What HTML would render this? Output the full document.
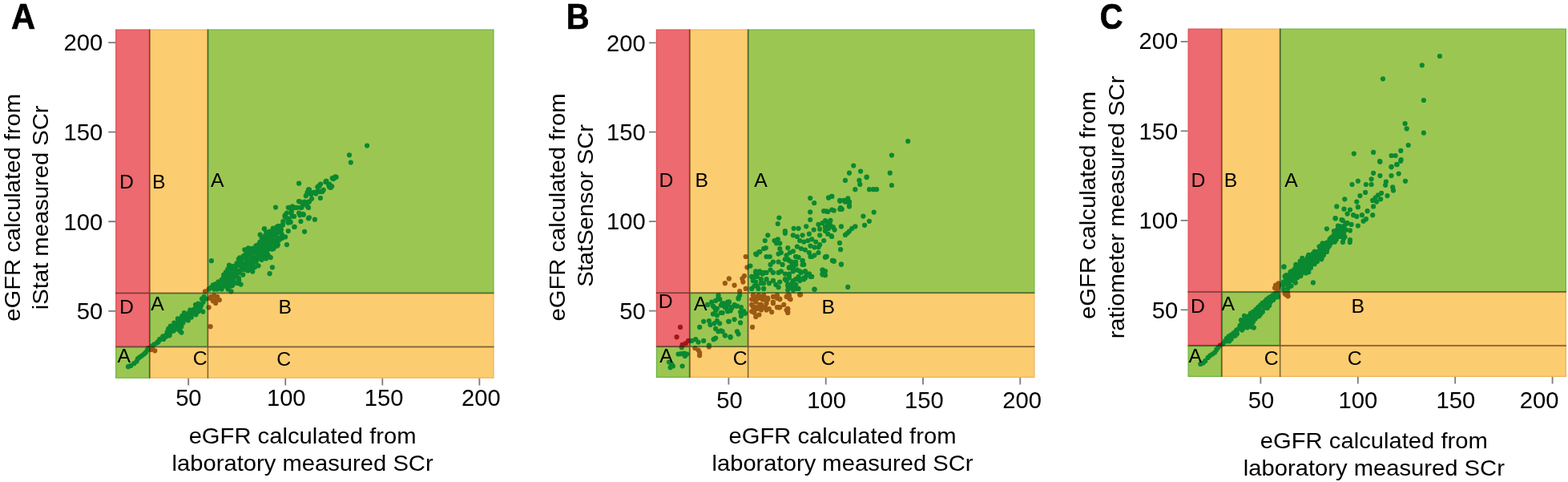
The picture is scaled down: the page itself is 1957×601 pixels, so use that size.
<!DOCTYPE html><html><head><meta charset="utf-8"><title>eGFR error grid</title><style>html,body{margin:0;padding:0;background:#fff;}svg{display:block;}text{font-family:"Liberation Sans", Arial, Helvetica, sans-serif;fill:#000;}</style></head><body>
<svg width="1957" height="601" viewBox="0 0 1957 601">
<rect width="1957" height="601" fill="#fff"/>
<defs><clipPath id="cAr"><rect x="144.10" y="36.50" width="42.67" height="395.91"/></clipPath><clipPath id="cAy"><rect x="186.77" y="36.50" width="72.64" height="328.99"/><rect x="259.41" y="365.49" width="357.19" height="66.92"/><rect x="186.77" y="432.41" width="429.83" height="39.39"/></clipPath><clipPath id="cAg"><rect x="259.41" y="36.50" width="357.19" height="328.99"/><rect x="186.77" y="365.49" width="72.64" height="66.92"/><rect x="144.10" y="432.41" width="42.67" height="39.39"/></clipPath></defs>
<rect x="144.75" y="37.15" width="41.37" height="394.61" fill="rgb(236,106,112)" stroke="rgb(226,82,90)" stroke-width="1.3"/>
<rect x="187.42" y="37.15" width="71.34" height="327.69" fill="rgb(252,204,112)" stroke="rgb(238,180,92)" stroke-width="1.3"/>
<rect x="260.06" y="37.15" width="355.89" height="327.69" fill="rgb(156,198,82)" stroke="rgb(108,182,72)" stroke-width="1.3"/>
<rect x="187.42" y="366.14" width="71.34" height="65.62" fill="rgb(156,198,82)" stroke="rgb(108,182,72)" stroke-width="1.3"/>
<rect x="260.06" y="366.14" width="355.89" height="65.62" fill="rgb(252,204,112)" stroke="rgb(238,180,92)" stroke-width="1.3"/>
<rect x="144.75" y="433.06" width="41.37" height="38.09" fill="rgb(156,198,82)" stroke="rgb(108,182,72)" stroke-width="1.3"/>
<rect x="187.42" y="433.06" width="428.53" height="38.09" fill="rgb(252,204,112)" stroke="rgb(238,180,92)" stroke-width="1.3"/>
<g clip-path="url(#cAg)" fill="rgb(10,137,50)"><circle cx="160.0" cy="457.2" r="3.1"/><circle cx="163.3" cy="455.9" r="3.1"/><circle cx="167.3" cy="453.2" r="3.1"/><circle cx="170.6" cy="450.6" r="3.1"/><circle cx="172.0" cy="447.2" r="3.1"/><circle cx="174.6" cy="445.2" r="3.1"/><circle cx="177.3" cy="443.3" r="3.1"/><circle cx="180.0" cy="441.3" r="3.1"/><circle cx="182.0" cy="439.3" r="3.1"/><circle cx="184.0" cy="436.0" r="3.1"/><circle cx="185.3" cy="434.0" r="3.1"/><circle cx="188.6" cy="436.0" r="3.1"/><circle cx="193.3" cy="437.3" r="3.1"/><circle cx="190.0" cy="434.0" r="3.1"/><circle cx="190.0" cy="431.3" r="3.1"/><circle cx="192.6" cy="429.3" r="3.1"/><circle cx="196.0" cy="427.3" r="3.1"/><circle cx="198.0" cy="425.3" r="3.1"/><circle cx="199.3" cy="423.3" r="3.1"/><circle cx="203.3" cy="419.3" r="3.1"/><circle cx="206.6" cy="420.0" r="3.1"/><circle cx="209.2" cy="418.6" r="3.1"/><circle cx="210.6" cy="416.0" r="3.1"/><circle cx="212.6" cy="413.3" r="3.1"/><circle cx="214.0" cy="410.6" r="3.1"/><circle cx="216.6" cy="412.6" r="3.1"/><circle cx="219.2" cy="410.0" r="3.1"/><circle cx="217.2" cy="407.3" r="3.1"/><circle cx="221.9" cy="407.3" r="3.1"/><circle cx="224.5" cy="412.6" r="3.1"/><circle cx="226.5" cy="414.6" r="3.1"/><circle cx="222.5" cy="402.6" r="3.1"/><circle cx="224.5" cy="398.0" r="3.1"/><circle cx="221.9" cy="397.3" r="3.1"/><circle cx="227.2" cy="394.0" r="3.1"/><circle cx="229.9" cy="390.0" r="3.1"/><circle cx="212.7" cy="406.5" r="3.1"/><circle cx="217.3" cy="402.6" r="3.1"/><circle cx="222.6" cy="397.9" r="3.1"/><circle cx="224.6" cy="402.6" r="3.1"/><circle cx="223.3" cy="404.5" r="3.1"/><circle cx="230.0" cy="392.6" r="3.1"/><circle cx="233.3" cy="395.2" r="3.1"/><circle cx="235.3" cy="390.6" r="3.1"/><circle cx="240.0" cy="389.2" r="3.1"/><circle cx="242.0" cy="385.9" r="3.1"/><circle cx="244.6" cy="390.6" r="3.1"/><circle cx="244.0" cy="380.0" r="3.1"/><circle cx="247.3" cy="378.6" r="3.1"/><circle cx="250.0" cy="383.3" r="3.1"/><circle cx="248.6" cy="385.9" r="3.1"/><circle cx="253.3" cy="388.6" r="3.1"/><circle cx="252.0" cy="372.6" r="3.1"/><circle cx="254.6" cy="370.0" r="3.1"/><circle cx="257.3" cy="372.6" r="3.1"/><circle cx="256.0" cy="363.3" r="3.1"/><circle cx="260.6" cy="383.3" r="3.1"/><circle cx="262.6" cy="407.2" r="3.1"/><circle cx="263.2" cy="370.0" r="3.1"/><circle cx="267.2" cy="368.6" r="3.1"/><circle cx="271.2" cy="370.0" r="3.1"/><circle cx="268.6" cy="374.0" r="3.1"/><circle cx="273.9" cy="374.0" r="3.1"/><circle cx="269.2" cy="378.0" r="3.1"/><circle cx="265.9" cy="375.3" r="3.1"/><circle cx="262.6" cy="372.0" r="3.1"/><circle cx="260.6" cy="360.6" r="3.1"/><circle cx="263.2" cy="358.6" r="3.1"/><circle cx="265.9" cy="355.3" r="3.1"/><circle cx="269.2" cy="354.0" r="3.1"/><circle cx="272.6" cy="351.3" r="3.1"/><circle cx="275.2" cy="356.6" r="3.1"/><circle cx="277.9" cy="350.0" r="3.1"/><circle cx="279.9" cy="343.3" r="3.1"/><circle cx="281.9" cy="339.3" r="3.1"/><circle cx="284.5" cy="335.3" r="3.1"/><circle cx="287.2" cy="332.0" r="3.1"/><circle cx="283.9" cy="346.0" r="3.1"/><circle cx="286.5" cy="350.0" r="3.1"/><circle cx="284.5" cy="360.6" r="3.1"/><circle cx="288.5" cy="356.6" r="3.1"/><circle cx="288.5" cy="342.0" r="3.1"/><circle cx="276.6" cy="360.6" r="3.1"/><circle cx="267.2" cy="360.6" r="3.1"/><circle cx="271.2" cy="360.6" r="3.1"/><circle cx="280.6" cy="354.0" r="3.1"/><circle cx="288.5" cy="363.3" r="3.1"/><circle cx="263.9" cy="325.2" r="3.1"/><circle cx="458.1" cy="181.6" r="3.1"/><circle cx="436.0" cy="193.3" r="3.1"/><circle cx="437.8" cy="202.6" r="3.1"/><circle cx="419.7" cy="220.8" r="3.1"/><circle cx="416.2" cy="223.1" r="3.1"/><circle cx="406.9" cy="225.9" r="3.1"/><circle cx="411.5" cy="230.6" r="3.1"/><circle cx="412.7" cy="234.0" r="3.1"/><circle cx="398.7" cy="231.0" r="3.1"/><circle cx="401.0" cy="238.7" r="3.1"/><circle cx="396.4" cy="238.7" r="3.1"/><circle cx="399.9" cy="246.9" r="3.1"/><circle cx="391.7" cy="239.9" r="3.1"/><circle cx="385.9" cy="236.4" r="3.1"/><circle cx="383.6" cy="239.9" r="3.1"/><circle cx="388.2" cy="242.2" r="3.1"/><circle cx="373.1" cy="228.7" r="3.1"/><circle cx="385.9" cy="251.5" r="3.1"/><circle cx="380.1" cy="251.5" r="3.1"/><circle cx="374.3" cy="251.5" r="3.1"/><circle cx="383.6" cy="257.3" r="3.1"/><circle cx="376.6" cy="258.5" r="3.1"/><circle cx="373.1" cy="265.5" r="3.1"/><circle cx="378.9" cy="267.8" r="3.1"/><circle cx="385.9" cy="271.3" r="3.1"/><circle cx="392.9" cy="273.7" r="3.1"/><circle cx="375.4" cy="276.0" r="3.1"/><circle cx="364.9" cy="257.3" r="3.1"/><circle cx="363.8" cy="263.2" r="3.1"/><circle cx="358.0" cy="265.5" r="3.1"/><circle cx="355.6" cy="270.2" r="3.1"/><circle cx="360.3" cy="272.5" r="3.1"/><circle cx="362.6" cy="277.2" r="3.1"/><circle cx="367.3" cy="283.0" r="3.1"/><circle cx="353.3" cy="276.0" r="3.1"/><circle cx="344.0" cy="258.5" r="3.1"/><circle cx="380.1" cy="288.8" r="3.1"/><circle cx="347.5" cy="281.8" r="3.1"/><circle cx="351.0" cy="286.5" r="3.1"/><circle cx="344.0" cy="288.8" r="3.1"/><circle cx="339.3" cy="293.5" r="3.1"/><circle cx="334.7" cy="298.1" r="3.1"/><circle cx="332.3" cy="305.1" r="3.1"/><circle cx="341.6" cy="300.4" r="3.1"/><circle cx="348.6" cy="298.1" r="3.1"/><circle cx="352.1" cy="296.9" r="3.1"/><circle cx="358.0" cy="305.1" r="3.1"/><circle cx="346.3" cy="306.3" r="3.1"/><circle cx="330.0" cy="285.3" r="3.1"/><circle cx="329.9" cy="285.3" r="3.1"/><circle cx="324.6" cy="292.6" r="3.1"/><circle cx="328.6" cy="296.0" r="3.1"/><circle cx="332.6" cy="293.3" r="3.1"/><circle cx="336.6" cy="290.6" r="3.1"/><circle cx="340.6" cy="288.0" r="3.1"/><circle cx="345.9" cy="282.7" r="3.1"/><circle cx="348.6" cy="288.0" r="3.1"/><circle cx="347.2" cy="297.3" r="3.1"/><circle cx="344.6" cy="306.6" r="3.1"/><circle cx="341.9" cy="301.3" r="3.1"/><circle cx="339.2" cy="310.6" r="3.1"/><circle cx="335.2" cy="304.0" r="3.1"/><circle cx="332.6" cy="300.0" r="3.1"/><circle cx="328.6" cy="305.3" r="3.1"/><circle cx="323.3" cy="304.0" r="3.1"/><circle cx="320.6" cy="308.0" r="3.1"/><circle cx="325.9" cy="312.0" r="3.1"/><circle cx="331.2" cy="313.3" r="3.1"/><circle cx="335.2" cy="320.0" r="3.1"/><circle cx="328.6" cy="320.0" r="3.1"/><circle cx="324.6" cy="318.6" r="3.1"/><circle cx="320.6" cy="316.0" r="3.1"/><circle cx="316.6" cy="310.6" r="3.1"/><circle cx="309.9" cy="309.3" r="3.1"/><circle cx="305.3" cy="311.3" r="3.1"/><circle cx="308.6" cy="314.6" r="3.1"/><circle cx="313.9" cy="316.0" r="3.1"/><circle cx="315.3" cy="322.6" r="3.1"/><circle cx="312.6" cy="324.0" r="3.1"/><circle cx="307.3" cy="324.0" r="3.1"/><circle cx="303.3" cy="320.0" r="3.1"/><circle cx="299.3" cy="321.3" r="3.1"/><circle cx="300.6" cy="326.6" r="3.1"/><circle cx="305.9" cy="329.3" r="3.1"/><circle cx="309.9" cy="333.3" r="3.1"/><circle cx="315.3" cy="338.6" r="3.1"/><circle cx="312.6" cy="335.9" r="3.1"/><circle cx="322.6" cy="331.3" r="3.1"/><circle cx="339.9" cy="333.3" r="3.1"/><circle cx="336.6" cy="341.2" r="3.1"/><circle cx="296.6" cy="330.6" r="3.1"/><circle cx="292.6" cy="333.3" r="3.1"/><circle cx="286.0" cy="330.6" r="3.1"/><circle cx="290.0" cy="337.2" r="3.1"/><circle cx="296.6" cy="338.6" r="3.1"/><circle cx="302.0" cy="335.9" r="3.1"/><circle cx="303.3" cy="342.6" r="3.1"/><circle cx="298.0" cy="346.6" r="3.1"/><circle cx="294.0" cy="342.6" r="3.1"/><circle cx="287.3" cy="341.2" r="3.1"/><circle cx="283.3" cy="339.9" r="3.1"/><circle cx="279.3" cy="342.6" r="3.1"/><circle cx="282.0" cy="346.6" r="3.1"/><circle cx="286.0" cy="349.2" r="3.1"/><circle cx="291.3" cy="350.6" r="3.1"/><circle cx="296.6" cy="353.2" r="3.1"/><circle cx="300.6" cy="354.6" r="3.1"/><circle cx="290.0" cy="355.9" r="3.1"/><circle cx="284.6" cy="357.2" r="3.1"/><circle cx="278.0" cy="350.6" r="3.1"/><circle cx="274.0" cy="354.6" r="3.1"/><circle cx="271.3" cy="358.5" r="3.1"/><circle cx="276.6" cy="358.5" r="3.1"/><circle cx="398.3" cy="232.3" r="3.1"/><circle cx="402.3" cy="239.0" r="3.1"/><circle cx="406.3" cy="227.0" r="3.1"/><circle cx="410.2" cy="231.0" r="3.1"/><circle cx="414.2" cy="232.3" r="3.1"/><circle cx="417.6" cy="221.7" r="3.1"/><circle cx="385.0" cy="236.3" r="3.1"/><circle cx="383.6" cy="241.6" r="3.1"/><circle cx="388.9" cy="241.6" r="3.1"/><circle cx="394.3" cy="241.6" r="3.1"/><circle cx="399.6" cy="239.0" r="3.1"/><circle cx="375.6" cy="258.9" r="3.1"/><circle cx="382.3" cy="253.6" r="3.1"/><circle cx="385.0" cy="258.9" r="3.1"/><circle cx="378.3" cy="266.9" r="3.1"/><circle cx="374.3" cy="268.3" r="3.1"/><circle cx="385.0" cy="272.3" r="3.1"/><circle cx="367.6" cy="282.9" r="3.1"/><circle cx="355.7" cy="268.3" r="3.1"/><circle cx="358.3" cy="272.3" r="3.1"/><circle cx="362.3" cy="276.3" r="3.1"/><circle cx="353.0" cy="280.2" r="3.1"/><circle cx="347.7" cy="284.2" r="3.1"/><circle cx="347.7" cy="289.6" r="3.1"/><circle cx="351.7" cy="292.2" r="3.1"/><circle cx="359.6" cy="277.6" r="3.1"/><circle cx="365.0" cy="269.6" r="3.1"/><circle cx="361.0" cy="258.9" r="3.1"/><circle cx="363.6" cy="261.6" r="3.1"/><circle cx="369.0" cy="258.9" r="3.1"/><circle cx="373.0" cy="251.0" r="3.1"/><circle cx="340.8" cy="284.5" r="3.1"/><circle cx="346.1" cy="283.9" r="3.1"/><circle cx="332.4" cy="289.6" r="3.1"/><circle cx="336.7" cy="288.5" r="3.1"/><circle cx="342.8" cy="289.6" r="3.1"/><circle cx="348.4" cy="289.5" r="3.1"/><circle cx="331.1" cy="293.7" r="3.1"/><circle cx="336.1" cy="293.7" r="3.1"/><circle cx="339.9" cy="292.7" r="3.1"/><circle cx="344.2" cy="293.3" r="3.1"/><circle cx="326.7" cy="296.4" r="3.1"/><circle cx="332.3" cy="296.8" r="3.1"/><circle cx="338.5" cy="296.5" r="3.1"/><circle cx="341.5" cy="298.4" r="3.1"/><circle cx="347.7" cy="296.5" r="3.1"/><circle cx="324.5" cy="301.7" r="3.1"/><circle cx="329.8" cy="300.5" r="3.1"/><circle cx="334.0" cy="301.1" r="3.1"/><circle cx="339.6" cy="302.1" r="3.1"/><circle cx="346.3" cy="301.5" r="3.1"/><circle cx="321.9" cy="306.7" r="3.1"/><circle cx="327.3" cy="306.7" r="3.1"/><circle cx="333.8" cy="305.7" r="3.1"/><circle cx="337.4" cy="307.1" r="3.1"/><circle cx="343.2" cy="305.2" r="3.1"/><circle cx="346.8" cy="305.1" r="3.1"/><circle cx="310.0" cy="311.2" r="3.1"/><circle cx="315.9" cy="309.6" r="3.1"/><circle cx="319.6" cy="309.8" r="3.1"/><circle cx="324.5" cy="310.5" r="3.1"/><circle cx="329.6" cy="310.1" r="3.1"/><circle cx="334.3" cy="311.3" r="3.1"/><circle cx="339.8" cy="310.2" r="3.1"/><circle cx="307.2" cy="314.7" r="3.1"/><circle cx="312.8" cy="315.3" r="3.1"/><circle cx="316.7" cy="314.8" r="3.1"/><circle cx="322.1" cy="314.1" r="3.1"/><circle cx="328.3" cy="314.7" r="3.1"/><circle cx="332.8" cy="315.3" r="3.1"/><circle cx="304.3" cy="318.8" r="3.1"/><circle cx="309.1" cy="318.3" r="3.1"/><circle cx="314.1" cy="319.4" r="3.1"/><circle cx="320.8" cy="319.9" r="3.1"/><circle cx="324.3" cy="319.5" r="3.1"/><circle cx="330.5" cy="318.1" r="3.1"/><circle cx="336.1" cy="320.1" r="3.1"/><circle cx="297.8" cy="323.2" r="3.1"/><circle cx="301.5" cy="322.9" r="3.1"/><circle cx="308.0" cy="323.3" r="3.1"/><circle cx="311.6" cy="324.5" r="3.1"/><circle cx="318.4" cy="324.4" r="3.1"/><circle cx="321.7" cy="322.7" r="3.1"/><circle cx="326.6" cy="324.0" r="3.1"/><circle cx="332.1" cy="322.4" r="3.1"/><circle cx="295.5" cy="328.4" r="3.1"/><circle cx="299.2" cy="328.5" r="3.1"/><circle cx="304.1" cy="328.5" r="3.1"/><circle cx="310.1" cy="327.2" r="3.1"/><circle cx="315.3" cy="328.7" r="3.1"/><circle cx="319.6" cy="326.7" r="3.1"/><circle cx="288.2" cy="332.1" r="3.1"/><circle cx="291.9" cy="331.9" r="3.1"/><circle cx="298.7" cy="331.0" r="3.1"/><circle cx="303.4" cy="331.8" r="3.1"/><circle cx="307.7" cy="332.8" r="3.1"/><circle cx="312.4" cy="332.0" r="3.1"/><circle cx="318.1" cy="333.1" r="3.1"/><circle cx="284.6" cy="335.7" r="3.1"/><circle cx="289.7" cy="336.2" r="3.1"/><circle cx="294.3" cy="336.2" r="3.1"/><circle cx="299.6" cy="337.4" r="3.1"/><circle cx="306.3" cy="336.4" r="3.1"/><circle cx="309.5" cy="337.4" r="3.1"/><circle cx="314.7" cy="335.9" r="3.1"/><circle cx="283.3" cy="341.0" r="3.1"/><circle cx="288.2" cy="341.5" r="3.1"/><circle cx="292.4" cy="340.2" r="3.1"/><circle cx="298.8" cy="339.8" r="3.1"/><circle cx="279.2" cy="345.8" r="3.1"/><circle cx="285.3" cy="345.3" r="3.1"/><circle cx="290.5" cy="345.4" r="3.1"/><circle cx="295.1" cy="343.8" r="3.1"/><circle cx="276.8" cy="348.7" r="3.1"/><circle cx="283.2" cy="348.8" r="3.1"/><circle cx="287.8" cy="348.1" r="3.1"/><circle cx="291.6" cy="348.7" r="3.1"/><circle cx="298.1" cy="349.7" r="3.1"/><circle cx="274.3" cy="353.7" r="3.1"/><circle cx="281.2" cy="352.7" r="3.1"/><circle cx="285.9" cy="353.6" r="3.1"/><circle cx="291.1" cy="354.1" r="3.1"/><circle cx="277.3" cy="357.8" r="3.1"/><circle cx="282.1" cy="356.9" r="3.1"/><circle cx="253.5" cy="376.7" r="3.1"/><circle cx="251.5" cy="379.9" r="3.1"/><circle cx="244.4" cy="383.5" r="3.1"/><circle cx="249.6" cy="383.1" r="3.1"/><circle cx="237.3" cy="386.7" r="3.1"/><circle cx="241.6" cy="387.4" r="3.1"/><circle cx="247.8" cy="388.3" r="3.1"/><circle cx="230.9" cy="392.1" r="3.1"/><circle cx="236.4" cy="391.3" r="3.1"/><circle cx="239.3" cy="391.4" r="3.1"/><circle cx="244.5" cy="392.3" r="3.1"/><circle cx="228.6" cy="394.9" r="3.1"/><circle cx="232.5" cy="395.9" r="3.1"/><circle cx="238.8" cy="395.6" r="3.1"/><circle cx="222.8" cy="398.4" r="3.1"/><circle cx="226.1" cy="399.8" r="3.1"/><circle cx="230.7" cy="398.4" r="3.1"/><circle cx="234.8" cy="399.4" r="3.1"/><circle cx="220.1" cy="402.9" r="3.1"/><circle cx="225.0" cy="402.6" r="3.1"/><circle cx="228.5" cy="402.6" r="3.1"/><circle cx="214.2" cy="407.2" r="3.1"/><circle cx="218.6" cy="406.8" r="3.1"/><circle cx="223.0" cy="407.0" r="3.1"/><circle cx="226.3" cy="407.6" r="3.1"/><circle cx="210.1" cy="410.2" r="3.1"/><circle cx="215.3" cy="411.1" r="3.1"/><circle cx="220.3" cy="410.1" r="3.1"/><circle cx="223.8" cy="411.3" r="3.1"/><circle cx="208.7" cy="414.2" r="3.1"/><circle cx="212.3" cy="415.0" r="3.1"/><circle cx="207.1" cy="418.1" r="3.1"/><circle cx="211.6" cy="418.2" r="3.1"/><circle cx="199.6" cy="422.8" r="3.1"/><circle cx="204.1" cy="423.0" r="3.1"/><circle cx="197.5" cy="426.3" r="3.1"/><circle cx="359.8" cy="258.8" r="3.1"/><circle cx="363.5" cy="266.1" r="3.1"/><circle cx="356.1" cy="269.8" r="3.1"/><circle cx="370.8" cy="258.8" r="3.1"/><circle cx="378.1" cy="255.2" r="3.1"/><circle cx="374.5" cy="251.5" r="3.1"/><circle cx="385.4" cy="251.5" r="3.1"/><circle cx="389.1" cy="247.8" r="3.1"/><circle cx="381.8" cy="244.2" r="3.1"/><circle cx="396.4" cy="233.2" r="3.1"/><circle cx="400.1" cy="229.5" r="3.1"/><circle cx="403.7" cy="236.9" r="3.1"/><circle cx="407.4" cy="225.9" r="3.1"/><circle cx="411.1" cy="233.2" r="3.1"/><circle cx="414.7" cy="222.2" r="3.1"/><circle cx="418.4" cy="220.4" r="3.1"/><circle cx="411.1" cy="229.5" r="3.1"/><circle cx="385.4" cy="236.9" r="3.1"/><circle cx="389.1" cy="240.5" r="3.1"/><circle cx="359.8" cy="277.1" r="3.1"/><circle cx="367.1" cy="269.8" r="3.1"/><circle cx="352.5" cy="280.8" r="3.1"/><circle cx="348.8" cy="284.5" r="3.1"/><circle cx="345.2" cy="288.1" r="3.1"/><circle cx="341.5" cy="291.8" r="3.1"/><circle cx="337.8" cy="295.4" r="3.1"/><circle cx="334.2" cy="302.8" r="3.1"/><circle cx="330.5" cy="306.4" r="3.1"/><circle cx="326.9" cy="313.7" r="3.1"/><circle cx="323.2" cy="310.1" r="3.1"/><circle cx="319.5" cy="306.4" r="3.1"/><circle cx="312.2" cy="310.1" r="3.1"/><circle cx="308.6" cy="313.7" r="3.1"/><circle cx="315.9" cy="321.1" r="3.1"/><circle cx="323.2" cy="321.1" r="3.1"/><circle cx="334.2" cy="317.4" r="3.1"/><circle cx="341.5" cy="310.1" r="3.1"/><circle cx="348.8" cy="299.1" r="3.1"/><circle cx="356.1" cy="295.4" r="3.1"/><circle cx="359.8" cy="288.1" r="3.1"/><circle cx="345.2" cy="306.4" r="3.1"/><circle cx="337.8" cy="321.1" r="3.1"/></g>
<g clip-path="url(#cAy)" fill="rgb(154,90,20)"><circle cx="160.0" cy="457.2" r="3.1"/><circle cx="163.3" cy="455.9" r="3.1"/><circle cx="167.3" cy="453.2" r="3.1"/><circle cx="170.6" cy="450.6" r="3.1"/><circle cx="172.0" cy="447.2" r="3.1"/><circle cx="174.6" cy="445.2" r="3.1"/><circle cx="177.3" cy="443.3" r="3.1"/><circle cx="180.0" cy="441.3" r="3.1"/><circle cx="182.0" cy="439.3" r="3.1"/><circle cx="184.0" cy="436.0" r="3.1"/><circle cx="185.3" cy="434.0" r="3.1"/><circle cx="188.6" cy="436.0" r="3.1"/><circle cx="193.3" cy="437.3" r="3.1"/><circle cx="190.0" cy="434.0" r="3.1"/><circle cx="190.0" cy="431.3" r="3.1"/><circle cx="192.6" cy="429.3" r="3.1"/><circle cx="196.0" cy="427.3" r="3.1"/><circle cx="198.0" cy="425.3" r="3.1"/><circle cx="199.3" cy="423.3" r="3.1"/><circle cx="203.3" cy="419.3" r="3.1"/><circle cx="206.6" cy="420.0" r="3.1"/><circle cx="209.2" cy="418.6" r="3.1"/><circle cx="210.6" cy="416.0" r="3.1"/><circle cx="212.6" cy="413.3" r="3.1"/><circle cx="214.0" cy="410.6" r="3.1"/><circle cx="216.6" cy="412.6" r="3.1"/><circle cx="219.2" cy="410.0" r="3.1"/><circle cx="217.2" cy="407.3" r="3.1"/><circle cx="221.9" cy="407.3" r="3.1"/><circle cx="224.5" cy="412.6" r="3.1"/><circle cx="226.5" cy="414.6" r="3.1"/><circle cx="222.5" cy="402.6" r="3.1"/><circle cx="224.5" cy="398.0" r="3.1"/><circle cx="221.9" cy="397.3" r="3.1"/><circle cx="227.2" cy="394.0" r="3.1"/><circle cx="229.9" cy="390.0" r="3.1"/><circle cx="212.7" cy="406.5" r="3.1"/><circle cx="217.3" cy="402.6" r="3.1"/><circle cx="222.6" cy="397.9" r="3.1"/><circle cx="224.6" cy="402.6" r="3.1"/><circle cx="223.3" cy="404.5" r="3.1"/><circle cx="230.0" cy="392.6" r="3.1"/><circle cx="233.3" cy="395.2" r="3.1"/><circle cx="235.3" cy="390.6" r="3.1"/><circle cx="240.0" cy="389.2" r="3.1"/><circle cx="242.0" cy="385.9" r="3.1"/><circle cx="244.6" cy="390.6" r="3.1"/><circle cx="244.0" cy="380.0" r="3.1"/><circle cx="247.3" cy="378.6" r="3.1"/><circle cx="250.0" cy="383.3" r="3.1"/><circle cx="248.6" cy="385.9" r="3.1"/><circle cx="253.3" cy="388.6" r="3.1"/><circle cx="252.0" cy="372.6" r="3.1"/><circle cx="254.6" cy="370.0" r="3.1"/><circle cx="257.3" cy="372.6" r="3.1"/><circle cx="256.0" cy="363.3" r="3.1"/><circle cx="260.6" cy="383.3" r="3.1"/><circle cx="262.6" cy="407.2" r="3.1"/><circle cx="263.2" cy="370.0" r="3.1"/><circle cx="267.2" cy="368.6" r="3.1"/><circle cx="271.2" cy="370.0" r="3.1"/><circle cx="268.6" cy="374.0" r="3.1"/><circle cx="273.9" cy="374.0" r="3.1"/><circle cx="269.2" cy="378.0" r="3.1"/><circle cx="265.9" cy="375.3" r="3.1"/><circle cx="262.6" cy="372.0" r="3.1"/><circle cx="260.6" cy="360.6" r="3.1"/><circle cx="263.2" cy="358.6" r="3.1"/><circle cx="265.9" cy="355.3" r="3.1"/><circle cx="269.2" cy="354.0" r="3.1"/><circle cx="272.6" cy="351.3" r="3.1"/><circle cx="275.2" cy="356.6" r="3.1"/><circle cx="277.9" cy="350.0" r="3.1"/><circle cx="279.9" cy="343.3" r="3.1"/><circle cx="281.9" cy="339.3" r="3.1"/><circle cx="284.5" cy="335.3" r="3.1"/><circle cx="287.2" cy="332.0" r="3.1"/><circle cx="283.9" cy="346.0" r="3.1"/><circle cx="286.5" cy="350.0" r="3.1"/><circle cx="284.5" cy="360.6" r="3.1"/><circle cx="288.5" cy="356.6" r="3.1"/><circle cx="288.5" cy="342.0" r="3.1"/><circle cx="276.6" cy="360.6" r="3.1"/><circle cx="267.2" cy="360.6" r="3.1"/><circle cx="271.2" cy="360.6" r="3.1"/><circle cx="280.6" cy="354.0" r="3.1"/><circle cx="288.5" cy="363.3" r="3.1"/><circle cx="263.9" cy="325.2" r="3.1"/><circle cx="458.1" cy="181.6" r="3.1"/><circle cx="436.0" cy="193.3" r="3.1"/><circle cx="437.8" cy="202.6" r="3.1"/><circle cx="419.7" cy="220.8" r="3.1"/><circle cx="416.2" cy="223.1" r="3.1"/><circle cx="406.9" cy="225.9" r="3.1"/><circle cx="411.5" cy="230.6" r="3.1"/><circle cx="412.7" cy="234.0" r="3.1"/><circle cx="398.7" cy="231.0" r="3.1"/><circle cx="401.0" cy="238.7" r="3.1"/><circle cx="396.4" cy="238.7" r="3.1"/><circle cx="399.9" cy="246.9" r="3.1"/><circle cx="391.7" cy="239.9" r="3.1"/><circle cx="385.9" cy="236.4" r="3.1"/><circle cx="383.6" cy="239.9" r="3.1"/><circle cx="388.2" cy="242.2" r="3.1"/><circle cx="373.1" cy="228.7" r="3.1"/><circle cx="385.9" cy="251.5" r="3.1"/><circle cx="380.1" cy="251.5" r="3.1"/><circle cx="374.3" cy="251.5" r="3.1"/><circle cx="383.6" cy="257.3" r="3.1"/><circle cx="376.6" cy="258.5" r="3.1"/><circle cx="373.1" cy="265.5" r="3.1"/><circle cx="378.9" cy="267.8" r="3.1"/><circle cx="385.9" cy="271.3" r="3.1"/><circle cx="392.9" cy="273.7" r="3.1"/><circle cx="375.4" cy="276.0" r="3.1"/><circle cx="364.9" cy="257.3" r="3.1"/><circle cx="363.8" cy="263.2" r="3.1"/><circle cx="358.0" cy="265.5" r="3.1"/><circle cx="355.6" cy="270.2" r="3.1"/><circle cx="360.3" cy="272.5" r="3.1"/><circle cx="362.6" cy="277.2" r="3.1"/><circle cx="367.3" cy="283.0" r="3.1"/><circle cx="353.3" cy="276.0" r="3.1"/><circle cx="344.0" cy="258.5" r="3.1"/><circle cx="380.1" cy="288.8" r="3.1"/><circle cx="347.5" cy="281.8" r="3.1"/><circle cx="351.0" cy="286.5" r="3.1"/><circle cx="344.0" cy="288.8" r="3.1"/><circle cx="339.3" cy="293.5" r="3.1"/><circle cx="334.7" cy="298.1" r="3.1"/><circle cx="332.3" cy="305.1" r="3.1"/><circle cx="341.6" cy="300.4" r="3.1"/><circle cx="348.6" cy="298.1" r="3.1"/><circle cx="352.1" cy="296.9" r="3.1"/><circle cx="358.0" cy="305.1" r="3.1"/><circle cx="346.3" cy="306.3" r="3.1"/><circle cx="330.0" cy="285.3" r="3.1"/><circle cx="329.9" cy="285.3" r="3.1"/><circle cx="324.6" cy="292.6" r="3.1"/><circle cx="328.6" cy="296.0" r="3.1"/><circle cx="332.6" cy="293.3" r="3.1"/><circle cx="336.6" cy="290.6" r="3.1"/><circle cx="340.6" cy="288.0" r="3.1"/><circle cx="345.9" cy="282.7" r="3.1"/><circle cx="348.6" cy="288.0" r="3.1"/><circle cx="347.2" cy="297.3" r="3.1"/><circle cx="344.6" cy="306.6" r="3.1"/><circle cx="341.9" cy="301.3" r="3.1"/><circle cx="339.2" cy="310.6" r="3.1"/><circle cx="335.2" cy="304.0" r="3.1"/><circle cx="332.6" cy="300.0" r="3.1"/><circle cx="328.6" cy="305.3" r="3.1"/><circle cx="323.3" cy="304.0" r="3.1"/><circle cx="320.6" cy="308.0" r="3.1"/><circle cx="325.9" cy="312.0" r="3.1"/><circle cx="331.2" cy="313.3" r="3.1"/><circle cx="335.2" cy="320.0" r="3.1"/><circle cx="328.6" cy="320.0" r="3.1"/><circle cx="324.6" cy="318.6" r="3.1"/><circle cx="320.6" cy="316.0" r="3.1"/><circle cx="316.6" cy="310.6" r="3.1"/><circle cx="309.9" cy="309.3" r="3.1"/><circle cx="305.3" cy="311.3" r="3.1"/><circle cx="308.6" cy="314.6" r="3.1"/><circle cx="313.9" cy="316.0" r="3.1"/><circle cx="315.3" cy="322.6" r="3.1"/><circle cx="312.6" cy="324.0" r="3.1"/><circle cx="307.3" cy="324.0" r="3.1"/><circle cx="303.3" cy="320.0" r="3.1"/><circle cx="299.3" cy="321.3" r="3.1"/><circle cx="300.6" cy="326.6" r="3.1"/><circle cx="305.9" cy="329.3" r="3.1"/><circle cx="309.9" cy="333.3" r="3.1"/><circle cx="315.3" cy="338.6" r="3.1"/><circle cx="312.6" cy="335.9" r="3.1"/><circle cx="322.6" cy="331.3" r="3.1"/><circle cx="339.9" cy="333.3" r="3.1"/><circle cx="336.6" cy="341.2" r="3.1"/><circle cx="296.6" cy="330.6" r="3.1"/><circle cx="292.6" cy="333.3" r="3.1"/><circle cx="286.0" cy="330.6" r="3.1"/><circle cx="290.0" cy="337.2" r="3.1"/><circle cx="296.6" cy="338.6" r="3.1"/><circle cx="302.0" cy="335.9" r="3.1"/><circle cx="303.3" cy="342.6" r="3.1"/><circle cx="298.0" cy="346.6" r="3.1"/><circle cx="294.0" cy="342.6" r="3.1"/><circle cx="287.3" cy="341.2" r="3.1"/><circle cx="283.3" cy="339.9" r="3.1"/><circle cx="279.3" cy="342.6" r="3.1"/><circle cx="282.0" cy="346.6" r="3.1"/><circle cx="286.0" cy="349.2" r="3.1"/><circle cx="291.3" cy="350.6" r="3.1"/><circle cx="296.6" cy="353.2" r="3.1"/><circle cx="300.6" cy="354.6" r="3.1"/><circle cx="290.0" cy="355.9" r="3.1"/><circle cx="284.6" cy="357.2" r="3.1"/><circle cx="278.0" cy="350.6" r="3.1"/><circle cx="274.0" cy="354.6" r="3.1"/><circle cx="271.3" cy="358.5" r="3.1"/><circle cx="276.6" cy="358.5" r="3.1"/><circle cx="398.3" cy="232.3" r="3.1"/><circle cx="402.3" cy="239.0" r="3.1"/><circle cx="406.3" cy="227.0" r="3.1"/><circle cx="410.2" cy="231.0" r="3.1"/><circle cx="414.2" cy="232.3" r="3.1"/><circle cx="417.6" cy="221.7" r="3.1"/><circle cx="385.0" cy="236.3" r="3.1"/><circle cx="383.6" cy="241.6" r="3.1"/><circle cx="388.9" cy="241.6" r="3.1"/><circle cx="394.3" cy="241.6" r="3.1"/><circle cx="399.6" cy="239.0" r="3.1"/><circle cx="375.6" cy="258.9" r="3.1"/><circle cx="382.3" cy="253.6" r="3.1"/><circle cx="385.0" cy="258.9" r="3.1"/><circle cx="378.3" cy="266.9" r="3.1"/><circle cx="374.3" cy="268.3" r="3.1"/><circle cx="385.0" cy="272.3" r="3.1"/><circle cx="367.6" cy="282.9" r="3.1"/><circle cx="355.7" cy="268.3" r="3.1"/><circle cx="358.3" cy="272.3" r="3.1"/><circle cx="362.3" cy="276.3" r="3.1"/><circle cx="353.0" cy="280.2" r="3.1"/><circle cx="347.7" cy="284.2" r="3.1"/><circle cx="347.7" cy="289.6" r="3.1"/><circle cx="351.7" cy="292.2" r="3.1"/><circle cx="359.6" cy="277.6" r="3.1"/><circle cx="365.0" cy="269.6" r="3.1"/><circle cx="361.0" cy="258.9" r="3.1"/><circle cx="363.6" cy="261.6" r="3.1"/><circle cx="369.0" cy="258.9" r="3.1"/><circle cx="373.0" cy="251.0" r="3.1"/><circle cx="340.8" cy="284.5" r="3.1"/><circle cx="346.1" cy="283.9" r="3.1"/><circle cx="332.4" cy="289.6" r="3.1"/><circle cx="336.7" cy="288.5" r="3.1"/><circle cx="342.8" cy="289.6" r="3.1"/><circle cx="348.4" cy="289.5" r="3.1"/><circle cx="331.1" cy="293.7" r="3.1"/><circle cx="336.1" cy="293.7" r="3.1"/><circle cx="339.9" cy="292.7" r="3.1"/><circle cx="344.2" cy="293.3" r="3.1"/><circle cx="326.7" cy="296.4" r="3.1"/><circle cx="332.3" cy="296.8" r="3.1"/><circle cx="338.5" cy="296.5" r="3.1"/><circle cx="341.5" cy="298.4" r="3.1"/><circle cx="347.7" cy="296.5" r="3.1"/><circle cx="324.5" cy="301.7" r="3.1"/><circle cx="329.8" cy="300.5" r="3.1"/><circle cx="334.0" cy="301.1" r="3.1"/><circle cx="339.6" cy="302.1" r="3.1"/><circle cx="346.3" cy="301.5" r="3.1"/><circle cx="321.9" cy="306.7" r="3.1"/><circle cx="327.3" cy="306.7" r="3.1"/><circle cx="333.8" cy="305.7" r="3.1"/><circle cx="337.4" cy="307.1" r="3.1"/><circle cx="343.2" cy="305.2" r="3.1"/><circle cx="346.8" cy="305.1" r="3.1"/><circle cx="310.0" cy="311.2" r="3.1"/><circle cx="315.9" cy="309.6" r="3.1"/><circle cx="319.6" cy="309.8" r="3.1"/><circle cx="324.5" cy="310.5" r="3.1"/><circle cx="329.6" cy="310.1" r="3.1"/><circle cx="334.3" cy="311.3" r="3.1"/><circle cx="339.8" cy="310.2" r="3.1"/><circle cx="307.2" cy="314.7" r="3.1"/><circle cx="312.8" cy="315.3" r="3.1"/><circle cx="316.7" cy="314.8" r="3.1"/><circle cx="322.1" cy="314.1" r="3.1"/><circle cx="328.3" cy="314.7" r="3.1"/><circle cx="332.8" cy="315.3" r="3.1"/><circle cx="304.3" cy="318.8" r="3.1"/><circle cx="309.1" cy="318.3" r="3.1"/><circle cx="314.1" cy="319.4" r="3.1"/><circle cx="320.8" cy="319.9" r="3.1"/><circle cx="324.3" cy="319.5" r="3.1"/><circle cx="330.5" cy="318.1" r="3.1"/><circle cx="336.1" cy="320.1" r="3.1"/><circle cx="297.8" cy="323.2" r="3.1"/><circle cx="301.5" cy="322.9" r="3.1"/><circle cx="308.0" cy="323.3" r="3.1"/><circle cx="311.6" cy="324.5" r="3.1"/><circle cx="318.4" cy="324.4" r="3.1"/><circle cx="321.7" cy="322.7" r="3.1"/><circle cx="326.6" cy="324.0" r="3.1"/><circle cx="332.1" cy="322.4" r="3.1"/><circle cx="295.5" cy="328.4" r="3.1"/><circle cx="299.2" cy="328.5" r="3.1"/><circle cx="304.1" cy="328.5" r="3.1"/><circle cx="310.1" cy="327.2" r="3.1"/><circle cx="315.3" cy="328.7" r="3.1"/><circle cx="319.6" cy="326.7" r="3.1"/><circle cx="288.2" cy="332.1" r="3.1"/><circle cx="291.9" cy="331.9" r="3.1"/><circle cx="298.7" cy="331.0" r="3.1"/><circle cx="303.4" cy="331.8" r="3.1"/><circle cx="307.7" cy="332.8" r="3.1"/><circle cx="312.4" cy="332.0" r="3.1"/><circle cx="318.1" cy="333.1" r="3.1"/><circle cx="284.6" cy="335.7" r="3.1"/><circle cx="289.7" cy="336.2" r="3.1"/><circle cx="294.3" cy="336.2" r="3.1"/><circle cx="299.6" cy="337.4" r="3.1"/><circle cx="306.3" cy="336.4" r="3.1"/><circle cx="309.5" cy="337.4" r="3.1"/><circle cx="314.7" cy="335.9" r="3.1"/><circle cx="283.3" cy="341.0" r="3.1"/><circle cx="288.2" cy="341.5" r="3.1"/><circle cx="292.4" cy="340.2" r="3.1"/><circle cx="298.8" cy="339.8" r="3.1"/><circle cx="279.2" cy="345.8" r="3.1"/><circle cx="285.3" cy="345.3" r="3.1"/><circle cx="290.5" cy="345.4" r="3.1"/><circle cx="295.1" cy="343.8" r="3.1"/><circle cx="276.8" cy="348.7" r="3.1"/><circle cx="283.2" cy="348.8" r="3.1"/><circle cx="287.8" cy="348.1" r="3.1"/><circle cx="291.6" cy="348.7" r="3.1"/><circle cx="298.1" cy="349.7" r="3.1"/><circle cx="274.3" cy="353.7" r="3.1"/><circle cx="281.2" cy="352.7" r="3.1"/><circle cx="285.9" cy="353.6" r="3.1"/><circle cx="291.1" cy="354.1" r="3.1"/><circle cx="277.3" cy="357.8" r="3.1"/><circle cx="282.1" cy="356.9" r="3.1"/><circle cx="253.5" cy="376.7" r="3.1"/><circle cx="251.5" cy="379.9" r="3.1"/><circle cx="244.4" cy="383.5" r="3.1"/><circle cx="249.6" cy="383.1" r="3.1"/><circle cx="237.3" cy="386.7" r="3.1"/><circle cx="241.6" cy="387.4" r="3.1"/><circle cx="247.8" cy="388.3" r="3.1"/><circle cx="230.9" cy="392.1" r="3.1"/><circle cx="236.4" cy="391.3" r="3.1"/><circle cx="239.3" cy="391.4" r="3.1"/><circle cx="244.5" cy="392.3" r="3.1"/><circle cx="228.6" cy="394.9" r="3.1"/><circle cx="232.5" cy="395.9" r="3.1"/><circle cx="238.8" cy="395.6" r="3.1"/><circle cx="222.8" cy="398.4" r="3.1"/><circle cx="226.1" cy="399.8" r="3.1"/><circle cx="230.7" cy="398.4" r="3.1"/><circle cx="234.8" cy="399.4" r="3.1"/><circle cx="220.1" cy="402.9" r="3.1"/><circle cx="225.0" cy="402.6" r="3.1"/><circle cx="228.5" cy="402.6" r="3.1"/><circle cx="214.2" cy="407.2" r="3.1"/><circle cx="218.6" cy="406.8" r="3.1"/><circle cx="223.0" cy="407.0" r="3.1"/><circle cx="226.3" cy="407.6" r="3.1"/><circle cx="210.1" cy="410.2" r="3.1"/><circle cx="215.3" cy="411.1" r="3.1"/><circle cx="220.3" cy="410.1" r="3.1"/><circle cx="223.8" cy="411.3" r="3.1"/><circle cx="208.7" cy="414.2" r="3.1"/><circle cx="212.3" cy="415.0" r="3.1"/><circle cx="207.1" cy="418.1" r="3.1"/><circle cx="211.6" cy="418.2" r="3.1"/><circle cx="199.6" cy="422.8" r="3.1"/><circle cx="204.1" cy="423.0" r="3.1"/><circle cx="197.5" cy="426.3" r="3.1"/><circle cx="359.8" cy="258.8" r="3.1"/><circle cx="363.5" cy="266.1" r="3.1"/><circle cx="356.1" cy="269.8" r="3.1"/><circle cx="370.8" cy="258.8" r="3.1"/><circle cx="378.1" cy="255.2" r="3.1"/><circle cx="374.5" cy="251.5" r="3.1"/><circle cx="385.4" cy="251.5" r="3.1"/><circle cx="389.1" cy="247.8" r="3.1"/><circle cx="381.8" cy="244.2" r="3.1"/><circle cx="396.4" cy="233.2" r="3.1"/><circle cx="400.1" cy="229.5" r="3.1"/><circle cx="403.7" cy="236.9" r="3.1"/><circle cx="407.4" cy="225.9" r="3.1"/><circle cx="411.1" cy="233.2" r="3.1"/><circle cx="414.7" cy="222.2" r="3.1"/><circle cx="418.4" cy="220.4" r="3.1"/><circle cx="411.1" cy="229.5" r="3.1"/><circle cx="385.4" cy="236.9" r="3.1"/><circle cx="389.1" cy="240.5" r="3.1"/><circle cx="359.8" cy="277.1" r="3.1"/><circle cx="367.1" cy="269.8" r="3.1"/><circle cx="352.5" cy="280.8" r="3.1"/><circle cx="348.8" cy="284.5" r="3.1"/><circle cx="345.2" cy="288.1" r="3.1"/><circle cx="341.5" cy="291.8" r="3.1"/><circle cx="337.8" cy="295.4" r="3.1"/><circle cx="334.2" cy="302.8" r="3.1"/><circle cx="330.5" cy="306.4" r="3.1"/><circle cx="326.9" cy="313.7" r="3.1"/><circle cx="323.2" cy="310.1" r="3.1"/><circle cx="319.5" cy="306.4" r="3.1"/><circle cx="312.2" cy="310.1" r="3.1"/><circle cx="308.6" cy="313.7" r="3.1"/><circle cx="315.9" cy="321.1" r="3.1"/><circle cx="323.2" cy="321.1" r="3.1"/><circle cx="334.2" cy="317.4" r="3.1"/><circle cx="341.5" cy="310.1" r="3.1"/><circle cx="348.8" cy="299.1" r="3.1"/><circle cx="356.1" cy="295.4" r="3.1"/><circle cx="359.8" cy="288.1" r="3.1"/><circle cx="345.2" cy="306.4" r="3.1"/><circle cx="337.8" cy="321.1" r="3.1"/></g>
<g clip-path="url(#cAr)" fill="rgb(165,22,24)"><circle cx="160.0" cy="457.2" r="3.1"/><circle cx="163.3" cy="455.9" r="3.1"/><circle cx="167.3" cy="453.2" r="3.1"/><circle cx="170.6" cy="450.6" r="3.1"/><circle cx="172.0" cy="447.2" r="3.1"/><circle cx="174.6" cy="445.2" r="3.1"/><circle cx="177.3" cy="443.3" r="3.1"/><circle cx="180.0" cy="441.3" r="3.1"/><circle cx="182.0" cy="439.3" r="3.1"/><circle cx="184.0" cy="436.0" r="3.1"/><circle cx="185.3" cy="434.0" r="3.1"/><circle cx="188.6" cy="436.0" r="3.1"/><circle cx="193.3" cy="437.3" r="3.1"/><circle cx="190.0" cy="434.0" r="3.1"/><circle cx="190.0" cy="431.3" r="3.1"/><circle cx="192.6" cy="429.3" r="3.1"/><circle cx="196.0" cy="427.3" r="3.1"/><circle cx="198.0" cy="425.3" r="3.1"/><circle cx="199.3" cy="423.3" r="3.1"/><circle cx="203.3" cy="419.3" r="3.1"/><circle cx="206.6" cy="420.0" r="3.1"/><circle cx="209.2" cy="418.6" r="3.1"/><circle cx="210.6" cy="416.0" r="3.1"/><circle cx="212.6" cy="413.3" r="3.1"/><circle cx="214.0" cy="410.6" r="3.1"/><circle cx="216.6" cy="412.6" r="3.1"/><circle cx="219.2" cy="410.0" r="3.1"/><circle cx="217.2" cy="407.3" r="3.1"/><circle cx="221.9" cy="407.3" r="3.1"/><circle cx="224.5" cy="412.6" r="3.1"/><circle cx="226.5" cy="414.6" r="3.1"/><circle cx="222.5" cy="402.6" r="3.1"/><circle cx="224.5" cy="398.0" r="3.1"/><circle cx="221.9" cy="397.3" r="3.1"/><circle cx="227.2" cy="394.0" r="3.1"/><circle cx="229.9" cy="390.0" r="3.1"/><circle cx="212.7" cy="406.5" r="3.1"/><circle cx="217.3" cy="402.6" r="3.1"/><circle cx="222.6" cy="397.9" r="3.1"/><circle cx="224.6" cy="402.6" r="3.1"/><circle cx="223.3" cy="404.5" r="3.1"/><circle cx="230.0" cy="392.6" r="3.1"/><circle cx="233.3" cy="395.2" r="3.1"/><circle cx="235.3" cy="390.6" r="3.1"/><circle cx="240.0" cy="389.2" r="3.1"/><circle cx="242.0" cy="385.9" r="3.1"/><circle cx="244.6" cy="390.6" r="3.1"/><circle cx="244.0" cy="380.0" r="3.1"/><circle cx="247.3" cy="378.6" r="3.1"/><circle cx="250.0" cy="383.3" r="3.1"/><circle cx="248.6" cy="385.9" r="3.1"/><circle cx="253.3" cy="388.6" r="3.1"/><circle cx="252.0" cy="372.6" r="3.1"/><circle cx="254.6" cy="370.0" r="3.1"/><circle cx="257.3" cy="372.6" r="3.1"/><circle cx="256.0" cy="363.3" r="3.1"/><circle cx="260.6" cy="383.3" r="3.1"/><circle cx="262.6" cy="407.2" r="3.1"/><circle cx="263.2" cy="370.0" r="3.1"/><circle cx="267.2" cy="368.6" r="3.1"/><circle cx="271.2" cy="370.0" r="3.1"/><circle cx="268.6" cy="374.0" r="3.1"/><circle cx="273.9" cy="374.0" r="3.1"/><circle cx="269.2" cy="378.0" r="3.1"/><circle cx="265.9" cy="375.3" r="3.1"/><circle cx="262.6" cy="372.0" r="3.1"/><circle cx="260.6" cy="360.6" r="3.1"/><circle cx="263.2" cy="358.6" r="3.1"/><circle cx="265.9" cy="355.3" r="3.1"/><circle cx="269.2" cy="354.0" r="3.1"/><circle cx="272.6" cy="351.3" r="3.1"/><circle cx="275.2" cy="356.6" r="3.1"/><circle cx="277.9" cy="350.0" r="3.1"/><circle cx="279.9" cy="343.3" r="3.1"/><circle cx="281.9" cy="339.3" r="3.1"/><circle cx="284.5" cy="335.3" r="3.1"/><circle cx="287.2" cy="332.0" r="3.1"/><circle cx="283.9" cy="346.0" r="3.1"/><circle cx="286.5" cy="350.0" r="3.1"/><circle cx="284.5" cy="360.6" r="3.1"/><circle cx="288.5" cy="356.6" r="3.1"/><circle cx="288.5" cy="342.0" r="3.1"/><circle cx="276.6" cy="360.6" r="3.1"/><circle cx="267.2" cy="360.6" r="3.1"/><circle cx="271.2" cy="360.6" r="3.1"/><circle cx="280.6" cy="354.0" r="3.1"/><circle cx="288.5" cy="363.3" r="3.1"/><circle cx="263.9" cy="325.2" r="3.1"/><circle cx="458.1" cy="181.6" r="3.1"/><circle cx="436.0" cy="193.3" r="3.1"/><circle cx="437.8" cy="202.6" r="3.1"/><circle cx="419.7" cy="220.8" r="3.1"/><circle cx="416.2" cy="223.1" r="3.1"/><circle cx="406.9" cy="225.9" r="3.1"/><circle cx="411.5" cy="230.6" r="3.1"/><circle cx="412.7" cy="234.0" r="3.1"/><circle cx="398.7" cy="231.0" r="3.1"/><circle cx="401.0" cy="238.7" r="3.1"/><circle cx="396.4" cy="238.7" r="3.1"/><circle cx="399.9" cy="246.9" r="3.1"/><circle cx="391.7" cy="239.9" r="3.1"/><circle cx="385.9" cy="236.4" r="3.1"/><circle cx="383.6" cy="239.9" r="3.1"/><circle cx="388.2" cy="242.2" r="3.1"/><circle cx="373.1" cy="228.7" r="3.1"/><circle cx="385.9" cy="251.5" r="3.1"/><circle cx="380.1" cy="251.5" r="3.1"/><circle cx="374.3" cy="251.5" r="3.1"/><circle cx="383.6" cy="257.3" r="3.1"/><circle cx="376.6" cy="258.5" r="3.1"/><circle cx="373.1" cy="265.5" r="3.1"/><circle cx="378.9" cy="267.8" r="3.1"/><circle cx="385.9" cy="271.3" r="3.1"/><circle cx="392.9" cy="273.7" r="3.1"/><circle cx="375.4" cy="276.0" r="3.1"/><circle cx="364.9" cy="257.3" r="3.1"/><circle cx="363.8" cy="263.2" r="3.1"/><circle cx="358.0" cy="265.5" r="3.1"/><circle cx="355.6" cy="270.2" r="3.1"/><circle cx="360.3" cy="272.5" r="3.1"/><circle cx="362.6" cy="277.2" r="3.1"/><circle cx="367.3" cy="283.0" r="3.1"/><circle cx="353.3" cy="276.0" r="3.1"/><circle cx="344.0" cy="258.5" r="3.1"/><circle cx="380.1" cy="288.8" r="3.1"/><circle cx="347.5" cy="281.8" r="3.1"/><circle cx="351.0" cy="286.5" r="3.1"/><circle cx="344.0" cy="288.8" r="3.1"/><circle cx="339.3" cy="293.5" r="3.1"/><circle cx="334.7" cy="298.1" r="3.1"/><circle cx="332.3" cy="305.1" r="3.1"/><circle cx="341.6" cy="300.4" r="3.1"/><circle cx="348.6" cy="298.1" r="3.1"/><circle cx="352.1" cy="296.9" r="3.1"/><circle cx="358.0" cy="305.1" r="3.1"/><circle cx="346.3" cy="306.3" r="3.1"/><circle cx="330.0" cy="285.3" r="3.1"/><circle cx="329.9" cy="285.3" r="3.1"/><circle cx="324.6" cy="292.6" r="3.1"/><circle cx="328.6" cy="296.0" r="3.1"/><circle cx="332.6" cy="293.3" r="3.1"/><circle cx="336.6" cy="290.6" r="3.1"/><circle cx="340.6" cy="288.0" r="3.1"/><circle cx="345.9" cy="282.7" r="3.1"/><circle cx="348.6" cy="288.0" r="3.1"/><circle cx="347.2" cy="297.3" r="3.1"/><circle cx="344.6" cy="306.6" r="3.1"/><circle cx="341.9" cy="301.3" r="3.1"/><circle cx="339.2" cy="310.6" r="3.1"/><circle cx="335.2" cy="304.0" r="3.1"/><circle cx="332.6" cy="300.0" r="3.1"/><circle cx="328.6" cy="305.3" r="3.1"/><circle cx="323.3" cy="304.0" r="3.1"/><circle cx="320.6" cy="308.0" r="3.1"/><circle cx="325.9" cy="312.0" r="3.1"/><circle cx="331.2" cy="313.3" r="3.1"/><circle cx="335.2" cy="320.0" r="3.1"/><circle cx="328.6" cy="320.0" r="3.1"/><circle cx="324.6" cy="318.6" r="3.1"/><circle cx="320.6" cy="316.0" r="3.1"/><circle cx="316.6" cy="310.6" r="3.1"/><circle cx="309.9" cy="309.3" r="3.1"/><circle cx="305.3" cy="311.3" r="3.1"/><circle cx="308.6" cy="314.6" r="3.1"/><circle cx="313.9" cy="316.0" r="3.1"/><circle cx="315.3" cy="322.6" r="3.1"/><circle cx="312.6" cy="324.0" r="3.1"/><circle cx="307.3" cy="324.0" r="3.1"/><circle cx="303.3" cy="320.0" r="3.1"/><circle cx="299.3" cy="321.3" r="3.1"/><circle cx="300.6" cy="326.6" r="3.1"/><circle cx="305.9" cy="329.3" r="3.1"/><circle cx="309.9" cy="333.3" r="3.1"/><circle cx="315.3" cy="338.6" r="3.1"/><circle cx="312.6" cy="335.9" r="3.1"/><circle cx="322.6" cy="331.3" r="3.1"/><circle cx="339.9" cy="333.3" r="3.1"/><circle cx="336.6" cy="341.2" r="3.1"/><circle cx="296.6" cy="330.6" r="3.1"/><circle cx="292.6" cy="333.3" r="3.1"/><circle cx="286.0" cy="330.6" r="3.1"/><circle cx="290.0" cy="337.2" r="3.1"/><circle cx="296.6" cy="338.6" r="3.1"/><circle cx="302.0" cy="335.9" r="3.1"/><circle cx="303.3" cy="342.6" r="3.1"/><circle cx="298.0" cy="346.6" r="3.1"/><circle cx="294.0" cy="342.6" r="3.1"/><circle cx="287.3" cy="341.2" r="3.1"/><circle cx="283.3" cy="339.9" r="3.1"/><circle cx="279.3" cy="342.6" r="3.1"/><circle cx="282.0" cy="346.6" r="3.1"/><circle cx="286.0" cy="349.2" r="3.1"/><circle cx="291.3" cy="350.6" r="3.1"/><circle cx="296.6" cy="353.2" r="3.1"/><circle cx="300.6" cy="354.6" r="3.1"/><circle cx="290.0" cy="355.9" r="3.1"/><circle cx="284.6" cy="357.2" r="3.1"/><circle cx="278.0" cy="350.6" r="3.1"/><circle cx="274.0" cy="354.6" r="3.1"/><circle cx="271.3" cy="358.5" r="3.1"/><circle cx="276.6" cy="358.5" r="3.1"/><circle cx="398.3" cy="232.3" r="3.1"/><circle cx="402.3" cy="239.0" r="3.1"/><circle cx="406.3" cy="227.0" r="3.1"/><circle cx="410.2" cy="231.0" r="3.1"/><circle cx="414.2" cy="232.3" r="3.1"/><circle cx="417.6" cy="221.7" r="3.1"/><circle cx="385.0" cy="236.3" r="3.1"/><circle cx="383.6" cy="241.6" r="3.1"/><circle cx="388.9" cy="241.6" r="3.1"/><circle cx="394.3" cy="241.6" r="3.1"/><circle cx="399.6" cy="239.0" r="3.1"/><circle cx="375.6" cy="258.9" r="3.1"/><circle cx="382.3" cy="253.6" r="3.1"/><circle cx="385.0" cy="258.9" r="3.1"/><circle cx="378.3" cy="266.9" r="3.1"/><circle cx="374.3" cy="268.3" r="3.1"/><circle cx="385.0" cy="272.3" r="3.1"/><circle cx="367.6" cy="282.9" r="3.1"/><circle cx="355.7" cy="268.3" r="3.1"/><circle cx="358.3" cy="272.3" r="3.1"/><circle cx="362.3" cy="276.3" r="3.1"/><circle cx="353.0" cy="280.2" r="3.1"/><circle cx="347.7" cy="284.2" r="3.1"/><circle cx="347.7" cy="289.6" r="3.1"/><circle cx="351.7" cy="292.2" r="3.1"/><circle cx="359.6" cy="277.6" r="3.1"/><circle cx="365.0" cy="269.6" r="3.1"/><circle cx="361.0" cy="258.9" r="3.1"/><circle cx="363.6" cy="261.6" r="3.1"/><circle cx="369.0" cy="258.9" r="3.1"/><circle cx="373.0" cy="251.0" r="3.1"/><circle cx="340.8" cy="284.5" r="3.1"/><circle cx="346.1" cy="283.9" r="3.1"/><circle cx="332.4" cy="289.6" r="3.1"/><circle cx="336.7" cy="288.5" r="3.1"/><circle cx="342.8" cy="289.6" r="3.1"/><circle cx="348.4" cy="289.5" r="3.1"/><circle cx="331.1" cy="293.7" r="3.1"/><circle cx="336.1" cy="293.7" r="3.1"/><circle cx="339.9" cy="292.7" r="3.1"/><circle cx="344.2" cy="293.3" r="3.1"/><circle cx="326.7" cy="296.4" r="3.1"/><circle cx="332.3" cy="296.8" r="3.1"/><circle cx="338.5" cy="296.5" r="3.1"/><circle cx="341.5" cy="298.4" r="3.1"/><circle cx="347.7" cy="296.5" r="3.1"/><circle cx="324.5" cy="301.7" r="3.1"/><circle cx="329.8" cy="300.5" r="3.1"/><circle cx="334.0" cy="301.1" r="3.1"/><circle cx="339.6" cy="302.1" r="3.1"/><circle cx="346.3" cy="301.5" r="3.1"/><circle cx="321.9" cy="306.7" r="3.1"/><circle cx="327.3" cy="306.7" r="3.1"/><circle cx="333.8" cy="305.7" r="3.1"/><circle cx="337.4" cy="307.1" r="3.1"/><circle cx="343.2" cy="305.2" r="3.1"/><circle cx="346.8" cy="305.1" r="3.1"/><circle cx="310.0" cy="311.2" r="3.1"/><circle cx="315.9" cy="309.6" r="3.1"/><circle cx="319.6" cy="309.8" r="3.1"/><circle cx="324.5" cy="310.5" r="3.1"/><circle cx="329.6" cy="310.1" r="3.1"/><circle cx="334.3" cy="311.3" r="3.1"/><circle cx="339.8" cy="310.2" r="3.1"/><circle cx="307.2" cy="314.7" r="3.1"/><circle cx="312.8" cy="315.3" r="3.1"/><circle cx="316.7" cy="314.8" r="3.1"/><circle cx="322.1" cy="314.1" r="3.1"/><circle cx="328.3" cy="314.7" r="3.1"/><circle cx="332.8" cy="315.3" r="3.1"/><circle cx="304.3" cy="318.8" r="3.1"/><circle cx="309.1" cy="318.3" r="3.1"/><circle cx="314.1" cy="319.4" r="3.1"/><circle cx="320.8" cy="319.9" r="3.1"/><circle cx="324.3" cy="319.5" r="3.1"/><circle cx="330.5" cy="318.1" r="3.1"/><circle cx="336.1" cy="320.1" r="3.1"/><circle cx="297.8" cy="323.2" r="3.1"/><circle cx="301.5" cy="322.9" r="3.1"/><circle cx="308.0" cy="323.3" r="3.1"/><circle cx="311.6" cy="324.5" r="3.1"/><circle cx="318.4" cy="324.4" r="3.1"/><circle cx="321.7" cy="322.7" r="3.1"/><circle cx="326.6" cy="324.0" r="3.1"/><circle cx="332.1" cy="322.4" r="3.1"/><circle cx="295.5" cy="328.4" r="3.1"/><circle cx="299.2" cy="328.5" r="3.1"/><circle cx="304.1" cy="328.5" r="3.1"/><circle cx="310.1" cy="327.2" r="3.1"/><circle cx="315.3" cy="328.7" r="3.1"/><circle cx="319.6" cy="326.7" r="3.1"/><circle cx="288.2" cy="332.1" r="3.1"/><circle cx="291.9" cy="331.9" r="3.1"/><circle cx="298.7" cy="331.0" r="3.1"/><circle cx="303.4" cy="331.8" r="3.1"/><circle cx="307.7" cy="332.8" r="3.1"/><circle cx="312.4" cy="332.0" r="3.1"/><circle cx="318.1" cy="333.1" r="3.1"/><circle cx="284.6" cy="335.7" r="3.1"/><circle cx="289.7" cy="336.2" r="3.1"/><circle cx="294.3" cy="336.2" r="3.1"/><circle cx="299.6" cy="337.4" r="3.1"/><circle cx="306.3" cy="336.4" r="3.1"/><circle cx="309.5" cy="337.4" r="3.1"/><circle cx="314.7" cy="335.9" r="3.1"/><circle cx="283.3" cy="341.0" r="3.1"/><circle cx="288.2" cy="341.5" r="3.1"/><circle cx="292.4" cy="340.2" r="3.1"/><circle cx="298.8" cy="339.8" r="3.1"/><circle cx="279.2" cy="345.8" r="3.1"/><circle cx="285.3" cy="345.3" r="3.1"/><circle cx="290.5" cy="345.4" r="3.1"/><circle cx="295.1" cy="343.8" r="3.1"/><circle cx="276.8" cy="348.7" r="3.1"/><circle cx="283.2" cy="348.8" r="3.1"/><circle cx="287.8" cy="348.1" r="3.1"/><circle cx="291.6" cy="348.7" r="3.1"/><circle cx="298.1" cy="349.7" r="3.1"/><circle cx="274.3" cy="353.7" r="3.1"/><circle cx="281.2" cy="352.7" r="3.1"/><circle cx="285.9" cy="353.6" r="3.1"/><circle cx="291.1" cy="354.1" r="3.1"/><circle cx="277.3" cy="357.8" r="3.1"/><circle cx="282.1" cy="356.9" r="3.1"/><circle cx="253.5" cy="376.7" r="3.1"/><circle cx="251.5" cy="379.9" r="3.1"/><circle cx="244.4" cy="383.5" r="3.1"/><circle cx="249.6" cy="383.1" r="3.1"/><circle cx="237.3" cy="386.7" r="3.1"/><circle cx="241.6" cy="387.4" r="3.1"/><circle cx="247.8" cy="388.3" r="3.1"/><circle cx="230.9" cy="392.1" r="3.1"/><circle cx="236.4" cy="391.3" r="3.1"/><circle cx="239.3" cy="391.4" r="3.1"/><circle cx="244.5" cy="392.3" r="3.1"/><circle cx="228.6" cy="394.9" r="3.1"/><circle cx="232.5" cy="395.9" r="3.1"/><circle cx="238.8" cy="395.6" r="3.1"/><circle cx="222.8" cy="398.4" r="3.1"/><circle cx="226.1" cy="399.8" r="3.1"/><circle cx="230.7" cy="398.4" r="3.1"/><circle cx="234.8" cy="399.4" r="3.1"/><circle cx="220.1" cy="402.9" r="3.1"/><circle cx="225.0" cy="402.6" r="3.1"/><circle cx="228.5" cy="402.6" r="3.1"/><circle cx="214.2" cy="407.2" r="3.1"/><circle cx="218.6" cy="406.8" r="3.1"/><circle cx="223.0" cy="407.0" r="3.1"/><circle cx="226.3" cy="407.6" r="3.1"/><circle cx="210.1" cy="410.2" r="3.1"/><circle cx="215.3" cy="411.1" r="3.1"/><circle cx="220.3" cy="410.1" r="3.1"/><circle cx="223.8" cy="411.3" r="3.1"/><circle cx="208.7" cy="414.2" r="3.1"/><circle cx="212.3" cy="415.0" r="3.1"/><circle cx="207.1" cy="418.1" r="3.1"/><circle cx="211.6" cy="418.2" r="3.1"/><circle cx="199.6" cy="422.8" r="3.1"/><circle cx="204.1" cy="423.0" r="3.1"/><circle cx="197.5" cy="426.3" r="3.1"/><circle cx="359.8" cy="258.8" r="3.1"/><circle cx="363.5" cy="266.1" r="3.1"/><circle cx="356.1" cy="269.8" r="3.1"/><circle cx="370.8" cy="258.8" r="3.1"/><circle cx="378.1" cy="255.2" r="3.1"/><circle cx="374.5" cy="251.5" r="3.1"/><circle cx="385.4" cy="251.5" r="3.1"/><circle cx="389.1" cy="247.8" r="3.1"/><circle cx="381.8" cy="244.2" r="3.1"/><circle cx="396.4" cy="233.2" r="3.1"/><circle cx="400.1" cy="229.5" r="3.1"/><circle cx="403.7" cy="236.9" r="3.1"/><circle cx="407.4" cy="225.9" r="3.1"/><circle cx="411.1" cy="233.2" r="3.1"/><circle cx="414.7" cy="222.2" r="3.1"/><circle cx="418.4" cy="220.4" r="3.1"/><circle cx="411.1" cy="229.5" r="3.1"/><circle cx="385.4" cy="236.9" r="3.1"/><circle cx="389.1" cy="240.5" r="3.1"/><circle cx="359.8" cy="277.1" r="3.1"/><circle cx="367.1" cy="269.8" r="3.1"/><circle cx="352.5" cy="280.8" r="3.1"/><circle cx="348.8" cy="284.5" r="3.1"/><circle cx="345.2" cy="288.1" r="3.1"/><circle cx="341.5" cy="291.8" r="3.1"/><circle cx="337.8" cy="295.4" r="3.1"/><circle cx="334.2" cy="302.8" r="3.1"/><circle cx="330.5" cy="306.4" r="3.1"/><circle cx="326.9" cy="313.7" r="3.1"/><circle cx="323.2" cy="310.1" r="3.1"/><circle cx="319.5" cy="306.4" r="3.1"/><circle cx="312.2" cy="310.1" r="3.1"/><circle cx="308.6" cy="313.7" r="3.1"/><circle cx="315.9" cy="321.1" r="3.1"/><circle cx="323.2" cy="321.1" r="3.1"/><circle cx="334.2" cy="317.4" r="3.1"/><circle cx="341.5" cy="310.1" r="3.1"/><circle cx="348.8" cy="299.1" r="3.1"/><circle cx="356.1" cy="295.4" r="3.1"/><circle cx="359.8" cy="288.1" r="3.1"/><circle cx="345.2" cy="306.4" r="3.1"/><circle cx="337.8" cy="321.1" r="3.1"/></g>
<path d="M186.77 36.50V471.80M259.41 36.50V471.80M144.10 432.41H616.60M144.10 365.49H616.60" stroke="rgba(20,15,0,0.55)" stroke-width="1.5" fill="none"/>
<path d="M235.19 471.80V480.40M135.30 387.79H144.10M356.26 471.80V480.40M135.30 276.26H144.10M477.32 471.80V480.40M135.30 164.72H144.10M598.39 471.80V480.40M135.30 53.19H144.10" stroke="#7c7c7c" stroke-width="1.8" fill="none"/>
<text x="128.30" y="398.09" font-size="29.2" text-anchor="end">50</text>
<text x="128.30" y="286.56" font-size="29.2" text-anchor="end">100</text>
<text x="128.30" y="175.02" font-size="29.2" text-anchor="end">150</text>
<text x="128.30" y="63.49" font-size="29.2" text-anchor="end">200</text>
<text x="235.39" y="506.40" font-size="29.2" text-anchor="middle">50</text>
<text x="357.26" y="506.40" font-size="29.2" text-anchor="middle">100</text>
<text x="479.22" y="506.40" font-size="29.2" text-anchor="middle">150</text>
<text x="600.39" y="506.40" font-size="29.2" text-anchor="middle">200</text>
<text transform="translate(377.60 552.90) scale(1.047 1)" font-size="27.90" text-anchor="middle">eGFR calculated from</text>
<text transform="translate(377.60 587.10) scale(1.047 1)" font-size="27.90" text-anchor="middle">laboratory measured SCr</text>
<text transform="translate(25.00 258.80) rotate(-90) scale(1.047 1)" font-size="27.90" text-anchor="middle">eGFR calculated from</text>
<text transform="translate(60.20 258.80) rotate(-90) scale(1.047 1)" font-size="27.90" text-anchor="middle">iStat measured SCr</text>
<text x="149.02" y="234.70" font-size="24.8">D</text>
<text x="190.12" y="234.70" font-size="24.8">B</text>
<text x="263.00" y="232.70" font-size="24.8">A</text>
<text x="149.02" y="390.70" font-size="24.8">D</text>
<text x="188.30" y="386.80" font-size="24.8">A</text>
<text x="347.62" y="390.80" font-size="24.8">B</text>
<text x="146.50" y="451.80" font-size="24.8">A</text>
<text x="240.66" y="455.45" font-size="24.8">C</text>
<text x="345.36" y="455.95" font-size="24.8">C</text>
<text transform="translate(14.10 35.55) scale(0.936 1)" font-size="44.5" font-weight="bold" stroke="#000" stroke-width="0.7">A</text>
<defs><clipPath id="cBr"><rect x="818.80" y="36.50" width="42.08" height="395.67"/></clipPath><clipPath id="cBy"><rect x="860.88" y="36.50" width="72.78" height="328.81"/><rect x="933.66" y="365.31" width="357.84" height="66.86"/><rect x="860.88" y="432.17" width="430.62" height="38.83"/></clipPath><clipPath id="cBg"><rect x="933.66" y="36.50" width="357.84" height="328.81"/><rect x="860.88" y="365.31" width="72.78" height="66.86"/><rect x="818.80" y="432.17" width="42.08" height="38.83"/></clipPath></defs>
<rect x="819.45" y="37.15" width="40.78" height="394.37" fill="rgb(236,106,112)" stroke="rgb(226,82,90)" stroke-width="1.3"/>
<rect x="861.53" y="37.15" width="71.48" height="327.51" fill="rgb(252,204,112)" stroke="rgb(238,180,92)" stroke-width="1.3"/>
<rect x="934.31" y="37.15" width="356.54" height="327.51" fill="rgb(156,198,82)" stroke="rgb(108,182,72)" stroke-width="1.3"/>
<rect x="861.53" y="365.96" width="71.48" height="65.56" fill="rgb(156,198,82)" stroke="rgb(108,182,72)" stroke-width="1.3"/>
<rect x="934.31" y="365.96" width="356.54" height="65.56" fill="rgb(252,204,112)" stroke="rgb(238,180,92)" stroke-width="1.3"/>
<rect x="819.45" y="432.82" width="40.78" height="37.53" fill="rgb(156,198,82)" stroke="rgb(108,182,72)" stroke-width="1.3"/>
<rect x="861.53" y="432.82" width="429.32" height="37.53" fill="rgb(252,204,112)" stroke="rgb(238,180,92)" stroke-width="1.3"/>
<g clip-path="url(#cBg)" fill="rgb(10,137,50)"><circle cx="849.1" cy="407.9" r="3.1"/><circle cx="844.6" cy="420.2" r="3.1"/><circle cx="859.1" cy="424.9" r="3.1"/><circle cx="855.8" cy="428.2" r="3.1"/><circle cx="851.6" cy="429.9" r="3.1"/><circle cx="846.6" cy="441.5" r="3.1"/><circle cx="850.0" cy="441.2" r="3.1"/><circle cx="854.1" cy="440.7" r="3.1"/><circle cx="857.4" cy="441.5" r="3.1"/><circle cx="854.9" cy="444.0" r="3.1"/><circle cx="835.0" cy="451.5" r="3.1"/><circle cx="838.3" cy="454.0" r="3.1"/><circle cx="836.6" cy="458.2" r="3.1"/><circle cx="840.0" cy="456.5" r="3.1"/><circle cx="851.6" cy="456.5" r="3.1"/><circle cx="850.8" cy="433.2" r="3.1"/><circle cx="867.4" cy="434.1" r="3.1"/><circle cx="871.6" cy="436.6" r="3.1"/><circle cx="873.2" cy="439.9" r="3.1"/><circle cx="873.2" cy="443.2" r="3.1"/><circle cx="884.9" cy="432.4" r="3.1"/><circle cx="863.3" cy="424.9" r="3.1"/><circle cx="868.2" cy="423.2" r="3.1"/><circle cx="871.6" cy="426.6" r="3.1"/><circle cx="878.2" cy="424.9" r="3.1"/><circle cx="884.9" cy="430.7" r="3.1"/><circle cx="890.7" cy="423.2" r="3.1"/><circle cx="893.2" cy="421.6" r="3.1"/><circle cx="873.2" cy="407.9" r="3.1"/><circle cx="878.2" cy="400.8" r="3.1"/><circle cx="884.9" cy="400.0" r="3.1"/><circle cx="886.5" cy="404.9" r="3.1"/><circle cx="891.5" cy="403.3" r="3.1"/><circle cx="894.9" cy="400.0" r="3.1"/><circle cx="893.2" cy="409.9" r="3.1"/><circle cx="896.5" cy="413.3" r="3.1"/><circle cx="899.9" cy="412.4" r="3.1"/><circle cx="904.9" cy="418.3" r="3.1"/><circle cx="911.5" cy="419.9" r="3.1"/><circle cx="909.8" cy="400.8" r="3.1"/><circle cx="898.2" cy="403.3" r="3.1"/><circle cx="883.2" cy="380.0" r="3.1"/><circle cx="888.2" cy="376.7" r="3.1"/><circle cx="891.5" cy="383.3" r="3.1"/><circle cx="893.2" cy="387.5" r="3.1"/><circle cx="899.9" cy="390.0" r="3.1"/><circle cx="889.9" cy="391.6" r="3.1"/><circle cx="894.9" cy="393.3" r="3.1"/><circle cx="896.5" cy="371.7" r="3.1"/><circle cx="901.5" cy="378.3" r="3.1"/><circle cx="908.2" cy="380.0" r="3.1"/><circle cx="909.8" cy="376.7" r="3.1"/><circle cx="911.5" cy="386.6" r="3.1"/><circle cx="921.6" cy="372.5" r="3.1"/><circle cx="910.0" cy="376.7" r="3.1"/><circle cx="903.3" cy="378.3" r="3.1"/><circle cx="916.6" cy="380.0" r="3.1"/><circle cx="920.0" cy="381.6" r="3.1"/><circle cx="913.3" cy="384.1" r="3.1"/><circle cx="907.5" cy="385.8" r="3.1"/><circle cx="911.6" cy="387.5" r="3.1"/><circle cx="901.7" cy="390.0" r="3.1"/><circle cx="924.1" cy="389.1" r="3.1"/><circle cx="930.0" cy="390.8" r="3.1"/><circle cx="925.0" cy="394.1" r="3.1"/><circle cx="916.6" cy="398.3" r="3.1"/><circle cx="909.2" cy="400.8" r="3.1"/><circle cx="924.1" cy="402.4" r="3.1"/><circle cx="901.7" cy="413.3" r="3.1"/><circle cx="920.0" cy="413.3" r="3.1"/><circle cx="921.6" cy="416.6" r="3.1"/><circle cx="905.0" cy="418.3" r="3.1"/><circle cx="911.6" cy="420.7" r="3.1"/><circle cx="938.3" cy="373.3" r="3.1"/><circle cx="943.3" cy="375.0" r="3.1"/><circle cx="946.6" cy="371.7" r="3.1"/><circle cx="953.2" cy="373.3" r="3.1"/><circle cx="958.2" cy="371.7" r="3.1"/><circle cx="964.9" cy="376.7" r="3.1"/><circle cx="969.9" cy="371.7" r="3.1"/><circle cx="973.2" cy="372.5" r="3.1"/><circle cx="984.9" cy="371.7" r="3.1"/><circle cx="939.9" cy="382.5" r="3.1"/><circle cx="944.9" cy="385.0" r="3.1"/><circle cx="949.9" cy="383.3" r="3.1"/><circle cx="954.9" cy="382.5" r="3.1"/><circle cx="959.9" cy="385.0" r="3.1"/><circle cx="963.2" cy="389.1" r="3.1"/><circle cx="941.6" cy="390.0" r="3.1"/><circle cx="938.3" cy="388.3" r="3.1"/><circle cx="947.4" cy="392.5" r="3.1"/><circle cx="943.3" cy="395.0" r="3.1"/><circle cx="972.4" cy="383.3" r="3.1"/><circle cx="983.2" cy="385.8" r="3.1"/><circle cx="983.2" cy="390.0" r="3.1"/><circle cx="939.1" cy="407.9" r="3.1"/><circle cx="930.7" cy="320.0" r="3.1"/><circle cx="932.4" cy="333.3" r="3.1"/><circle cx="929.0" cy="344.1" r="3.1"/><circle cx="926.5" cy="347.4" r="3.1"/><circle cx="927.4" cy="351.6" r="3.1"/><circle cx="909.9" cy="347.4" r="3.1"/><circle cx="904.9" cy="353.2" r="3.1"/><circle cx="916.6" cy="355.7" r="3.1"/><circle cx="923.2" cy="363.2" r="3.1"/><circle cx="930.7" cy="359.9" r="3.1"/><circle cx="943.2" cy="316.6" r="3.1"/><circle cx="947.3" cy="314.1" r="3.1"/><circle cx="953.2" cy="310.0" r="3.1"/><circle cx="943.2" cy="339.9" r="3.1"/><circle cx="948.2" cy="338.3" r="3.1"/><circle cx="953.2" cy="339.9" r="3.1"/><circle cx="938.2" cy="344.9" r="3.1"/><circle cx="939.9" cy="349.9" r="3.1"/><circle cx="944.9" cy="344.9" r="3.1"/><circle cx="949.8" cy="348.2" r="3.1"/><circle cx="953.2" cy="353.2" r="3.1"/><circle cx="941.5" cy="356.6" r="3.1"/><circle cx="938.2" cy="359.9" r="3.1"/><circle cx="946.5" cy="359.9" r="3.1"/><circle cx="953.2" cy="359.9" r="3.1"/><circle cx="936.5" cy="331.6" r="3.1"/><circle cx="954.8" cy="300.0" r="3.1"/><circle cx="896.6" cy="368.2" r="3.1"/><circle cx="898.3" cy="373.2" r="3.1"/><circle cx="893.3" cy="374.9" r="3.1"/><circle cx="908.2" cy="376.5" r="3.1"/><circle cx="921.6" cy="371.5" r="3.1"/><circle cx="923.2" cy="368.2" r="3.1"/><circle cx="883.3" cy="379.9" r="3.1"/><circle cx="889.9" cy="381.5" r="3.1"/><circle cx="894.9" cy="384.8" r="3.1"/><circle cx="899.9" cy="380.7" r="3.1"/><circle cx="904.9" cy="383.2" r="3.1"/><circle cx="913.2" cy="383.2" r="3.1"/><circle cx="918.2" cy="381.5" r="3.1"/><circle cx="924.9" cy="383.2" r="3.1"/><circle cx="928.2" cy="388.2" r="3.1"/><circle cx="908.2" cy="388.2" r="3.1"/><circle cx="939.9" cy="368.2" r="3.1"/><circle cx="944.9" cy="371.5" r="3.1"/><circle cx="949.8" cy="369.9" r="3.1"/><circle cx="938.2" cy="379.9" r="3.1"/><circle cx="943.2" cy="383.2" r="3.1"/><circle cx="948.2" cy="379.9" r="3.1"/><circle cx="953.2" cy="383.2" r="3.1"/><circle cx="939.9" cy="388.2" r="3.1"/><circle cx="951.5" cy="373.2" r="3.1"/><circle cx="958.3" cy="293.3" r="3.1"/><circle cx="979.9" cy="290.8" r="3.1"/><circle cx="989.9" cy="293.3" r="3.1"/><circle cx="994.9" cy="295.0" r="3.1"/><circle cx="1001.6" cy="293.3" r="3.1"/><circle cx="1009.9" cy="291.7" r="3.1"/><circle cx="1023.2" cy="293.3" r="3.1"/><circle cx="1033.2" cy="291.7" r="3.1"/><circle cx="1038.2" cy="295.0" r="3.1"/><circle cx="966.6" cy="300.0" r="3.1"/><circle cx="970.8" cy="298.3" r="3.1"/><circle cx="973.3" cy="303.3" r="3.1"/><circle cx="969.1" cy="303.3" r="3.1"/><circle cx="998.2" cy="300.0" r="3.1"/><circle cx="1003.2" cy="301.6" r="3.1"/><circle cx="1008.2" cy="300.0" r="3.1"/><circle cx="1013.2" cy="298.3" r="3.1"/><circle cx="1018.2" cy="301.6" r="3.1"/><circle cx="1023.2" cy="305.0" r="3.1"/><circle cx="1028.2" cy="300.0" r="3.1"/><circle cx="955.8" cy="309.1" r="3.1"/><circle cx="973.3" cy="310.0" r="3.1"/><circle cx="983.3" cy="309.1" r="3.1"/><circle cx="994.9" cy="307.5" r="3.1"/><circle cx="999.9" cy="310.0" r="3.1"/><circle cx="1004.9" cy="311.6" r="3.1"/><circle cx="1011.5" cy="306.6" r="3.1"/><circle cx="1016.5" cy="308.3" r="3.1"/><circle cx="1021.5" cy="308.3" r="3.1"/><circle cx="944.2" cy="317.5" r="3.1"/><circle cx="948.3" cy="314.1" r="3.1"/><circle cx="956.6" cy="320.0" r="3.1"/><circle cx="960.8" cy="320.0" r="3.1"/><circle cx="971.6" cy="316.6" r="3.1"/><circle cx="974.9" cy="315.0" r="3.1"/><circle cx="981.6" cy="318.3" r="3.1"/><circle cx="985.8" cy="315.0" r="3.1"/><circle cx="989.9" cy="313.3" r="3.1"/><circle cx="993.2" cy="320.0" r="3.1"/><circle cx="996.6" cy="320.8" r="3.1"/><circle cx="1009.9" cy="315.0" r="3.1"/><circle cx="1011.5" cy="320.0" r="3.1"/><circle cx="1016.5" cy="318.3" r="3.1"/><circle cx="1021.5" cy="315.0" r="3.1"/><circle cx="1030.7" cy="320.0" r="3.1"/><circle cx="1039.0" cy="324.9" r="3.1"/><circle cx="961.6" cy="329.9" r="3.1"/><circle cx="965.0" cy="326.6" r="3.1"/><circle cx="971.6" cy="326.6" r="3.1"/><circle cx="976.6" cy="329.9" r="3.1"/><circle cx="979.9" cy="323.3" r="3.1"/><circle cx="984.9" cy="324.9" r="3.1"/><circle cx="988.3" cy="328.3" r="3.1"/><circle cx="993.2" cy="326.6" r="3.1"/><circle cx="1001.6" cy="324.9" r="3.1"/><circle cx="1003.2" cy="329.9" r="3.1"/><circle cx="989.9" cy="333.3" r="3.1"/><circle cx="984.9" cy="334.1" r="3.1"/><circle cx="943.3" cy="338.3" r="3.1"/><circle cx="947.5" cy="339.9" r="3.1"/><circle cx="951.6" cy="341.6" r="3.1"/><circle cx="956.6" cy="339.9" r="3.1"/><circle cx="961.6" cy="336.6" r="3.1"/><circle cx="965.0" cy="339.9" r="3.1"/><circle cx="971.6" cy="339.9" r="3.1"/><circle cx="974.9" cy="338.3" r="3.1"/><circle cx="979.9" cy="341.6" r="3.1"/><circle cx="984.9" cy="341.6" r="3.1"/><circle cx="989.9" cy="338.3" r="3.1"/><circle cx="994.9" cy="336.6" r="3.1"/><circle cx="999.9" cy="339.9" r="3.1"/><circle cx="1004.9" cy="338.3" r="3.1"/><circle cx="1009.9" cy="341.6" r="3.1"/><circle cx="1013.2" cy="344.9" r="3.1"/><circle cx="1026.5" cy="336.6" r="3.1"/><circle cx="1026.5" cy="341.6" r="3.1"/><circle cx="941.7" cy="344.9" r="3.1"/><circle cx="943.3" cy="351.6" r="3.1"/><circle cx="945.0" cy="356.6" r="3.1"/><circle cx="950.0" cy="353.2" r="3.1"/><circle cx="956.6" cy="348.2" r="3.1"/><circle cx="960.0" cy="353.2" r="3.1"/><circle cx="965.0" cy="349.9" r="3.1"/><circle cx="968.3" cy="354.9" r="3.1"/><circle cx="971.6" cy="358.2" r="3.1"/><circle cx="973.3" cy="351.6" r="3.1"/><circle cx="979.9" cy="348.2" r="3.1"/><circle cx="984.9" cy="346.6" r="3.1"/><circle cx="988.3" cy="353.2" r="3.1"/><circle cx="991.6" cy="358.2" r="3.1"/><circle cx="993.2" cy="348.2" r="3.1"/><circle cx="998.2" cy="348.2" r="3.1"/><circle cx="1003.2" cy="346.6" r="3.1"/><circle cx="1006.6" cy="343.2" r="3.1"/><circle cx="983.3" cy="356.6" r="3.1"/><circle cx="1016.5" cy="360.7" r="3.1"/><circle cx="996.6" cy="359.9" r="3.1"/><circle cx="941.7" cy="369.9" r="3.1"/><circle cx="946.7" cy="368.2" r="3.1"/><circle cx="953.3" cy="368.2" r="3.1"/><circle cx="958.3" cy="373.2" r="3.1"/><circle cx="965.0" cy="369.9" r="3.1"/><circle cx="970.0" cy="368.2" r="3.1"/><circle cx="973.3" cy="373.2" r="3.1"/><circle cx="981.6" cy="369.9" r="3.1"/><circle cx="984.9" cy="368.2" r="3.1"/><circle cx="986.6" cy="373.2" r="3.1"/><circle cx="998.2" cy="367.4" r="3.1"/><circle cx="943.3" cy="376.5" r="3.1"/><circle cx="950.0" cy="379.9" r="3.1"/><circle cx="956.6" cy="378.2" r="3.1"/><circle cx="965.0" cy="378.2" r="3.1"/><circle cx="970.0" cy="383.2" r="3.1"/><circle cx="973.3" cy="383.2" r="3.1"/><circle cx="978.3" cy="379.9" r="3.1"/><circle cx="981.6" cy="386.5" r="3.1"/><circle cx="950.0" cy="386.5" r="3.1"/><circle cx="943.3" cy="384.8" r="3.1"/><circle cx="956.6" cy="386.5" r="3.1"/><circle cx="1011.2" cy="247.1" r="3.1"/><circle cx="1016.2" cy="253.2" r="3.1"/><circle cx="1011.2" cy="264.4" r="3.1"/><circle cx="1011.2" cy="274.0" r="3.1"/><circle cx="1006.2" cy="282.3" r="3.1"/><circle cx="972.4" cy="271.5" r="3.1"/><circle cx="970.8" cy="279.0" r="3.1"/><circle cx="979.9" cy="288.2" r="3.1"/><circle cx="990.7" cy="284.8" r="3.1"/><circle cx="996.6" cy="284.8" r="3.1"/><circle cx="1015.7" cy="286.5" r="3.1"/><circle cx="1021.5" cy="279.9" r="3.1"/><circle cx="1026.5" cy="278.2" r="3.1"/><circle cx="1031.5" cy="276.5" r="3.1"/><circle cx="1036.5" cy="274.9" r="3.1"/><circle cx="1023.2" cy="285.7" r="3.1"/><circle cx="1029.9" cy="283.2" r="3.1"/><circle cx="1034.8" cy="283.2" r="3.1"/><circle cx="1039.8" cy="283.2" r="3.1"/><circle cx="1028.2" cy="263.2" r="3.1"/><circle cx="1033.2" cy="264.0" r="3.1"/><circle cx="1038.2" cy="261.5" r="3.1"/><circle cx="1034.0" cy="246.6" r="3.1"/><circle cx="1038.2" cy="244.9" r="3.1"/><circle cx="1133.2" cy="176.1" r="3.1"/><circle cx="1112.9" cy="193.6" r="3.1"/><circle cx="1110.8" cy="215.7" r="3.1"/><circle cx="1112.9" cy="231.0" r="3.1"/><circle cx="1081.7" cy="220.7" r="3.1"/><circle cx="1085.0" cy="236.2" r="3.1"/><circle cx="1090.0" cy="236.2" r="3.1"/><circle cx="1094.1" cy="236.2" r="3.1"/><circle cx="1065.3" cy="206.6" r="3.1"/><circle cx="1060.0" cy="215.7" r="3.1"/><circle cx="1074.1" cy="213.6" r="3.1"/><circle cx="1081.6" cy="221.1" r="3.1"/><circle cx="1055.0" cy="224.9" r="3.1"/><circle cx="1072.4" cy="224.9" r="3.1"/><circle cx="1073.3" cy="229.9" r="3.1"/><circle cx="1067.4" cy="236.2" r="3.1"/><circle cx="1034.2" cy="246.5" r="3.1"/><circle cx="1038.3" cy="244.9" r="3.1"/><circle cx="1048.3" cy="249.9" r="3.1"/><circle cx="1053.3" cy="249.9" r="3.1"/><circle cx="1058.3" cy="247.4" r="3.1"/><circle cx="1060.0" cy="251.5" r="3.1"/><circle cx="1060.0" cy="256.5" r="3.1"/><circle cx="1049.1" cy="259.0" r="3.1"/><circle cx="1048.3" cy="250.8" r="3.1"/><circle cx="1055.0" cy="251.7" r="3.1"/><circle cx="1060.0" cy="252.5" r="3.1"/><circle cx="1060.0" cy="257.5" r="3.1"/><circle cx="1031.7" cy="263.3" r="3.1"/><circle cx="1040.8" cy="262.5" r="3.1"/><circle cx="1048.3" cy="260.8" r="3.1"/><circle cx="1050.8" cy="260.8" r="3.1"/><circle cx="1090.7" cy="264.6" r="3.1"/><circle cx="1077.4" cy="269.6" r="3.1"/><circle cx="1084.9" cy="275.8" r="3.1"/><circle cx="1079.1" cy="280.8" r="3.1"/><circle cx="1030.0" cy="275.0" r="3.1"/><circle cx="1033.0" cy="278.0" r="3.1"/><circle cx="1036.0" cy="280.0" r="3.1"/><circle cx="1030.0" cy="283.0" r="3.1"/><circle cx="1034.0" cy="285.0" r="3.1"/><circle cx="1030.0" cy="288.0" r="3.1"/><circle cx="1041.6" cy="286.6" r="3.1"/><circle cx="1037.5" cy="294.1" r="3.1"/><circle cx="1050.0" cy="282.4" r="3.1"/><circle cx="1067.4" cy="282.4" r="3.1"/><circle cx="1063.3" cy="284.9" r="3.1"/><circle cx="1060.0" cy="288.3" r="3.1"/><circle cx="1057.5" cy="290.8" r="3.1"/><circle cx="1055.0" cy="292.9" r="3.1"/><circle cx="1048.0" cy="302.9" r="3.1"/><circle cx="1049.1" cy="311.2" r="3.1"/><circle cx="1031.7" cy="319.9" r="3.1"/><circle cx="1040.8" cy="325.4" r="3.1"/><circle cx="1050.0" cy="329.5" r="3.1"/><circle cx="1030.0" cy="338.2" r="3.1"/><circle cx="1030.0" cy="343.2" r="3.1"/><circle cx="993.3" cy="320.0" r="3.1"/><circle cx="1013.3" cy="320.0" r="3.1"/><circle cx="1029.9" cy="320.8" r="3.1"/><circle cx="1040.7" cy="325.8" r="3.1"/><circle cx="1049.9" cy="329.7" r="3.1"/><circle cx="1026.6" cy="336.6" r="3.1"/><circle cx="1026.6" cy="342.5" r="3.1"/><circle cx="1058.2" cy="357.9" r="3.1"/><circle cx="1016.6" cy="360.8" r="3.1"/><circle cx="983.3" cy="323.3" r="3.1"/><circle cx="988.3" cy="326.7" r="3.1"/><circle cx="993.3" cy="330.0" r="3.1"/><circle cx="1001.6" cy="325.0" r="3.1"/><circle cx="1001.6" cy="330.0" r="3.1"/><circle cx="985.0" cy="333.3" r="3.1"/><circle cx="990.0" cy="336.6" r="3.1"/><circle cx="998.3" cy="338.3" r="3.1"/><circle cx="1005.0" cy="338.3" r="3.1"/><circle cx="1010.0" cy="341.6" r="3.1"/><circle cx="1011.6" cy="345.0" r="3.1"/><circle cx="985.0" cy="343.3" r="3.1"/><circle cx="996.6" cy="345.0" r="3.1"/><circle cx="1005.0" cy="346.6" r="3.1"/><circle cx="981.7" cy="350.0" r="3.1"/><circle cx="990.0" cy="350.0" r="3.1"/><circle cx="998.3" cy="350.0" r="3.1"/><circle cx="1003.3" cy="348.3" r="3.1"/><circle cx="983.3" cy="354.9" r="3.1"/><circle cx="986.7" cy="358.3" r="3.1"/><circle cx="993.3" cy="354.9" r="3.1"/><circle cx="995.0" cy="359.9" r="3.1"/><circle cx="983.3" cy="361.6" r="3.1"/><circle cx="990.0" cy="361.6" r="3.1"/><circle cx="983.3" cy="368.3" r="3.1"/><circle cx="985.0" cy="371.6" r="3.1"/><circle cx="999.1" cy="367.4" r="3.1"/><circle cx="983.3" cy="384.9" r="3.1"/><circle cx="983.3" cy="389.1" r="3.1"/></g>
<g clip-path="url(#cBy)" fill="rgb(154,90,20)"><circle cx="849.1" cy="407.9" r="3.1"/><circle cx="844.6" cy="420.2" r="3.1"/><circle cx="859.1" cy="424.9" r="3.1"/><circle cx="855.8" cy="428.2" r="3.1"/><circle cx="851.6" cy="429.9" r="3.1"/><circle cx="846.6" cy="441.5" r="3.1"/><circle cx="850.0" cy="441.2" r="3.1"/><circle cx="854.1" cy="440.7" r="3.1"/><circle cx="857.4" cy="441.5" r="3.1"/><circle cx="854.9" cy="444.0" r="3.1"/><circle cx="835.0" cy="451.5" r="3.1"/><circle cx="838.3" cy="454.0" r="3.1"/><circle cx="836.6" cy="458.2" r="3.1"/><circle cx="840.0" cy="456.5" r="3.1"/><circle cx="851.6" cy="456.5" r="3.1"/><circle cx="850.8" cy="433.2" r="3.1"/><circle cx="867.4" cy="434.1" r="3.1"/><circle cx="871.6" cy="436.6" r="3.1"/><circle cx="873.2" cy="439.9" r="3.1"/><circle cx="873.2" cy="443.2" r="3.1"/><circle cx="884.9" cy="432.4" r="3.1"/><circle cx="863.3" cy="424.9" r="3.1"/><circle cx="868.2" cy="423.2" r="3.1"/><circle cx="871.6" cy="426.6" r="3.1"/><circle cx="878.2" cy="424.9" r="3.1"/><circle cx="884.9" cy="430.7" r="3.1"/><circle cx="890.7" cy="423.2" r="3.1"/><circle cx="893.2" cy="421.6" r="3.1"/><circle cx="873.2" cy="407.9" r="3.1"/><circle cx="878.2" cy="400.8" r="3.1"/><circle cx="884.9" cy="400.0" r="3.1"/><circle cx="886.5" cy="404.9" r="3.1"/><circle cx="891.5" cy="403.3" r="3.1"/><circle cx="894.9" cy="400.0" r="3.1"/><circle cx="893.2" cy="409.9" r="3.1"/><circle cx="896.5" cy="413.3" r="3.1"/><circle cx="899.9" cy="412.4" r="3.1"/><circle cx="904.9" cy="418.3" r="3.1"/><circle cx="911.5" cy="419.9" r="3.1"/><circle cx="909.8" cy="400.8" r="3.1"/><circle cx="898.2" cy="403.3" r="3.1"/><circle cx="883.2" cy="380.0" r="3.1"/><circle cx="888.2" cy="376.7" r="3.1"/><circle cx="891.5" cy="383.3" r="3.1"/><circle cx="893.2" cy="387.5" r="3.1"/><circle cx="899.9" cy="390.0" r="3.1"/><circle cx="889.9" cy="391.6" r="3.1"/><circle cx="894.9" cy="393.3" r="3.1"/><circle cx="896.5" cy="371.7" r="3.1"/><circle cx="901.5" cy="378.3" r="3.1"/><circle cx="908.2" cy="380.0" r="3.1"/><circle cx="909.8" cy="376.7" r="3.1"/><circle cx="911.5" cy="386.6" r="3.1"/><circle cx="921.6" cy="372.5" r="3.1"/><circle cx="910.0" cy="376.7" r="3.1"/><circle cx="903.3" cy="378.3" r="3.1"/><circle cx="916.6" cy="380.0" r="3.1"/><circle cx="920.0" cy="381.6" r="3.1"/><circle cx="913.3" cy="384.1" r="3.1"/><circle cx="907.5" cy="385.8" r="3.1"/><circle cx="911.6" cy="387.5" r="3.1"/><circle cx="901.7" cy="390.0" r="3.1"/><circle cx="924.1" cy="389.1" r="3.1"/><circle cx="930.0" cy="390.8" r="3.1"/><circle cx="925.0" cy="394.1" r="3.1"/><circle cx="916.6" cy="398.3" r="3.1"/><circle cx="909.2" cy="400.8" r="3.1"/><circle cx="924.1" cy="402.4" r="3.1"/><circle cx="901.7" cy="413.3" r="3.1"/><circle cx="920.0" cy="413.3" r="3.1"/><circle cx="921.6" cy="416.6" r="3.1"/><circle cx="905.0" cy="418.3" r="3.1"/><circle cx="911.6" cy="420.7" r="3.1"/><circle cx="938.3" cy="373.3" r="3.1"/><circle cx="943.3" cy="375.0" r="3.1"/><circle cx="946.6" cy="371.7" r="3.1"/><circle cx="953.2" cy="373.3" r="3.1"/><circle cx="958.2" cy="371.7" r="3.1"/><circle cx="964.9" cy="376.7" r="3.1"/><circle cx="969.9" cy="371.7" r="3.1"/><circle cx="973.2" cy="372.5" r="3.1"/><circle cx="984.9" cy="371.7" r="3.1"/><circle cx="939.9" cy="382.5" r="3.1"/><circle cx="944.9" cy="385.0" r="3.1"/><circle cx="949.9" cy="383.3" r="3.1"/><circle cx="954.9" cy="382.5" r="3.1"/><circle cx="959.9" cy="385.0" r="3.1"/><circle cx="963.2" cy="389.1" r="3.1"/><circle cx="941.6" cy="390.0" r="3.1"/><circle cx="938.3" cy="388.3" r="3.1"/><circle cx="947.4" cy="392.5" r="3.1"/><circle cx="943.3" cy="395.0" r="3.1"/><circle cx="972.4" cy="383.3" r="3.1"/><circle cx="983.2" cy="385.8" r="3.1"/><circle cx="983.2" cy="390.0" r="3.1"/><circle cx="939.1" cy="407.9" r="3.1"/><circle cx="930.7" cy="320.0" r="3.1"/><circle cx="932.4" cy="333.3" r="3.1"/><circle cx="929.0" cy="344.1" r="3.1"/><circle cx="926.5" cy="347.4" r="3.1"/><circle cx="927.4" cy="351.6" r="3.1"/><circle cx="909.9" cy="347.4" r="3.1"/><circle cx="904.9" cy="353.2" r="3.1"/><circle cx="916.6" cy="355.7" r="3.1"/><circle cx="923.2" cy="363.2" r="3.1"/><circle cx="930.7" cy="359.9" r="3.1"/><circle cx="943.2" cy="316.6" r="3.1"/><circle cx="947.3" cy="314.1" r="3.1"/><circle cx="953.2" cy="310.0" r="3.1"/><circle cx="943.2" cy="339.9" r="3.1"/><circle cx="948.2" cy="338.3" r="3.1"/><circle cx="953.2" cy="339.9" r="3.1"/><circle cx="938.2" cy="344.9" r="3.1"/><circle cx="939.9" cy="349.9" r="3.1"/><circle cx="944.9" cy="344.9" r="3.1"/><circle cx="949.8" cy="348.2" r="3.1"/><circle cx="953.2" cy="353.2" r="3.1"/><circle cx="941.5" cy="356.6" r="3.1"/><circle cx="938.2" cy="359.9" r="3.1"/><circle cx="946.5" cy="359.9" r="3.1"/><circle cx="953.2" cy="359.9" r="3.1"/><circle cx="936.5" cy="331.6" r="3.1"/><circle cx="954.8" cy="300.0" r="3.1"/><circle cx="896.6" cy="368.2" r="3.1"/><circle cx="898.3" cy="373.2" r="3.1"/><circle cx="893.3" cy="374.9" r="3.1"/><circle cx="908.2" cy="376.5" r="3.1"/><circle cx="921.6" cy="371.5" r="3.1"/><circle cx="923.2" cy="368.2" r="3.1"/><circle cx="883.3" cy="379.9" r="3.1"/><circle cx="889.9" cy="381.5" r="3.1"/><circle cx="894.9" cy="384.8" r="3.1"/><circle cx="899.9" cy="380.7" r="3.1"/><circle cx="904.9" cy="383.2" r="3.1"/><circle cx="913.2" cy="383.2" r="3.1"/><circle cx="918.2" cy="381.5" r="3.1"/><circle cx="924.9" cy="383.2" r="3.1"/><circle cx="928.2" cy="388.2" r="3.1"/><circle cx="908.2" cy="388.2" r="3.1"/><circle cx="939.9" cy="368.2" r="3.1"/><circle cx="944.9" cy="371.5" r="3.1"/><circle cx="949.8" cy="369.9" r="3.1"/><circle cx="938.2" cy="379.9" r="3.1"/><circle cx="943.2" cy="383.2" r="3.1"/><circle cx="948.2" cy="379.9" r="3.1"/><circle cx="953.2" cy="383.2" r="3.1"/><circle cx="939.9" cy="388.2" r="3.1"/><circle cx="951.5" cy="373.2" r="3.1"/><circle cx="958.3" cy="293.3" r="3.1"/><circle cx="979.9" cy="290.8" r="3.1"/><circle cx="989.9" cy="293.3" r="3.1"/><circle cx="994.9" cy="295.0" r="3.1"/><circle cx="1001.6" cy="293.3" r="3.1"/><circle cx="1009.9" cy="291.7" r="3.1"/><circle cx="1023.2" cy="293.3" r="3.1"/><circle cx="1033.2" cy="291.7" r="3.1"/><circle cx="1038.2" cy="295.0" r="3.1"/><circle cx="966.6" cy="300.0" r="3.1"/><circle cx="970.8" cy="298.3" r="3.1"/><circle cx="973.3" cy="303.3" r="3.1"/><circle cx="969.1" cy="303.3" r="3.1"/><circle cx="998.2" cy="300.0" r="3.1"/><circle cx="1003.2" cy="301.6" r="3.1"/><circle cx="1008.2" cy="300.0" r="3.1"/><circle cx="1013.2" cy="298.3" r="3.1"/><circle cx="1018.2" cy="301.6" r="3.1"/><circle cx="1023.2" cy="305.0" r="3.1"/><circle cx="1028.2" cy="300.0" r="3.1"/><circle cx="955.8" cy="309.1" r="3.1"/><circle cx="973.3" cy="310.0" r="3.1"/><circle cx="983.3" cy="309.1" r="3.1"/><circle cx="994.9" cy="307.5" r="3.1"/><circle cx="999.9" cy="310.0" r="3.1"/><circle cx="1004.9" cy="311.6" r="3.1"/><circle cx="1011.5" cy="306.6" r="3.1"/><circle cx="1016.5" cy="308.3" r="3.1"/><circle cx="1021.5" cy="308.3" r="3.1"/><circle cx="944.2" cy="317.5" r="3.1"/><circle cx="948.3" cy="314.1" r="3.1"/><circle cx="956.6" cy="320.0" r="3.1"/><circle cx="960.8" cy="320.0" r="3.1"/><circle cx="971.6" cy="316.6" r="3.1"/><circle cx="974.9" cy="315.0" r="3.1"/><circle cx="981.6" cy="318.3" r="3.1"/><circle cx="985.8" cy="315.0" r="3.1"/><circle cx="989.9" cy="313.3" r="3.1"/><circle cx="993.2" cy="320.0" r="3.1"/><circle cx="996.6" cy="320.8" r="3.1"/><circle cx="1009.9" cy="315.0" r="3.1"/><circle cx="1011.5" cy="320.0" r="3.1"/><circle cx="1016.5" cy="318.3" r="3.1"/><circle cx="1021.5" cy="315.0" r="3.1"/><circle cx="1030.7" cy="320.0" r="3.1"/><circle cx="1039.0" cy="324.9" r="3.1"/><circle cx="961.6" cy="329.9" r="3.1"/><circle cx="965.0" cy="326.6" r="3.1"/><circle cx="971.6" cy="326.6" r="3.1"/><circle cx="976.6" cy="329.9" r="3.1"/><circle cx="979.9" cy="323.3" r="3.1"/><circle cx="984.9" cy="324.9" r="3.1"/><circle cx="988.3" cy="328.3" r="3.1"/><circle cx="993.2" cy="326.6" r="3.1"/><circle cx="1001.6" cy="324.9" r="3.1"/><circle cx="1003.2" cy="329.9" r="3.1"/><circle cx="989.9" cy="333.3" r="3.1"/><circle cx="984.9" cy="334.1" r="3.1"/><circle cx="943.3" cy="338.3" r="3.1"/><circle cx="947.5" cy="339.9" r="3.1"/><circle cx="951.6" cy="341.6" r="3.1"/><circle cx="956.6" cy="339.9" r="3.1"/><circle cx="961.6" cy="336.6" r="3.1"/><circle cx="965.0" cy="339.9" r="3.1"/><circle cx="971.6" cy="339.9" r="3.1"/><circle cx="974.9" cy="338.3" r="3.1"/><circle cx="979.9" cy="341.6" r="3.1"/><circle cx="984.9" cy="341.6" r="3.1"/><circle cx="989.9" cy="338.3" r="3.1"/><circle cx="994.9" cy="336.6" r="3.1"/><circle cx="999.9" cy="339.9" r="3.1"/><circle cx="1004.9" cy="338.3" r="3.1"/><circle cx="1009.9" cy="341.6" r="3.1"/><circle cx="1013.2" cy="344.9" r="3.1"/><circle cx="1026.5" cy="336.6" r="3.1"/><circle cx="1026.5" cy="341.6" r="3.1"/><circle cx="941.7" cy="344.9" r="3.1"/><circle cx="943.3" cy="351.6" r="3.1"/><circle cx="945.0" cy="356.6" r="3.1"/><circle cx="950.0" cy="353.2" r="3.1"/><circle cx="956.6" cy="348.2" r="3.1"/><circle cx="960.0" cy="353.2" r="3.1"/><circle cx="965.0" cy="349.9" r="3.1"/><circle cx="968.3" cy="354.9" r="3.1"/><circle cx="971.6" cy="358.2" r="3.1"/><circle cx="973.3" cy="351.6" r="3.1"/><circle cx="979.9" cy="348.2" r="3.1"/><circle cx="984.9" cy="346.6" r="3.1"/><circle cx="988.3" cy="353.2" r="3.1"/><circle cx="991.6" cy="358.2" r="3.1"/><circle cx="993.2" cy="348.2" r="3.1"/><circle cx="998.2" cy="348.2" r="3.1"/><circle cx="1003.2" cy="346.6" r="3.1"/><circle cx="1006.6" cy="343.2" r="3.1"/><circle cx="983.3" cy="356.6" r="3.1"/><circle cx="1016.5" cy="360.7" r="3.1"/><circle cx="996.6" cy="359.9" r="3.1"/><circle cx="941.7" cy="369.9" r="3.1"/><circle cx="946.7" cy="368.2" r="3.1"/><circle cx="953.3" cy="368.2" r="3.1"/><circle cx="958.3" cy="373.2" r="3.1"/><circle cx="965.0" cy="369.9" r="3.1"/><circle cx="970.0" cy="368.2" r="3.1"/><circle cx="973.3" cy="373.2" r="3.1"/><circle cx="981.6" cy="369.9" r="3.1"/><circle cx="984.9" cy="368.2" r="3.1"/><circle cx="986.6" cy="373.2" r="3.1"/><circle cx="998.2" cy="367.4" r="3.1"/><circle cx="943.3" cy="376.5" r="3.1"/><circle cx="950.0" cy="379.9" r="3.1"/><circle cx="956.6" cy="378.2" r="3.1"/><circle cx="965.0" cy="378.2" r="3.1"/><circle cx="970.0" cy="383.2" r="3.1"/><circle cx="973.3" cy="383.2" r="3.1"/><circle cx="978.3" cy="379.9" r="3.1"/><circle cx="981.6" cy="386.5" r="3.1"/><circle cx="950.0" cy="386.5" r="3.1"/><circle cx="943.3" cy="384.8" r="3.1"/><circle cx="956.6" cy="386.5" r="3.1"/><circle cx="1011.2" cy="247.1" r="3.1"/><circle cx="1016.2" cy="253.2" r="3.1"/><circle cx="1011.2" cy="264.4" r="3.1"/><circle cx="1011.2" cy="274.0" r="3.1"/><circle cx="1006.2" cy="282.3" r="3.1"/><circle cx="972.4" cy="271.5" r="3.1"/><circle cx="970.8" cy="279.0" r="3.1"/><circle cx="979.9" cy="288.2" r="3.1"/><circle cx="990.7" cy="284.8" r="3.1"/><circle cx="996.6" cy="284.8" r="3.1"/><circle cx="1015.7" cy="286.5" r="3.1"/><circle cx="1021.5" cy="279.9" r="3.1"/><circle cx="1026.5" cy="278.2" r="3.1"/><circle cx="1031.5" cy="276.5" r="3.1"/><circle cx="1036.5" cy="274.9" r="3.1"/><circle cx="1023.2" cy="285.7" r="3.1"/><circle cx="1029.9" cy="283.2" r="3.1"/><circle cx="1034.8" cy="283.2" r="3.1"/><circle cx="1039.8" cy="283.2" r="3.1"/><circle cx="1028.2" cy="263.2" r="3.1"/><circle cx="1033.2" cy="264.0" r="3.1"/><circle cx="1038.2" cy="261.5" r="3.1"/><circle cx="1034.0" cy="246.6" r="3.1"/><circle cx="1038.2" cy="244.9" r="3.1"/><circle cx="1133.2" cy="176.1" r="3.1"/><circle cx="1112.9" cy="193.6" r="3.1"/><circle cx="1110.8" cy="215.7" r="3.1"/><circle cx="1112.9" cy="231.0" r="3.1"/><circle cx="1081.7" cy="220.7" r="3.1"/><circle cx="1085.0" cy="236.2" r="3.1"/><circle cx="1090.0" cy="236.2" r="3.1"/><circle cx="1094.1" cy="236.2" r="3.1"/><circle cx="1065.3" cy="206.6" r="3.1"/><circle cx="1060.0" cy="215.7" r="3.1"/><circle cx="1074.1" cy="213.6" r="3.1"/><circle cx="1081.6" cy="221.1" r="3.1"/><circle cx="1055.0" cy="224.9" r="3.1"/><circle cx="1072.4" cy="224.9" r="3.1"/><circle cx="1073.3" cy="229.9" r="3.1"/><circle cx="1067.4" cy="236.2" r="3.1"/><circle cx="1034.2" cy="246.5" r="3.1"/><circle cx="1038.3" cy="244.9" r="3.1"/><circle cx="1048.3" cy="249.9" r="3.1"/><circle cx="1053.3" cy="249.9" r="3.1"/><circle cx="1058.3" cy="247.4" r="3.1"/><circle cx="1060.0" cy="251.5" r="3.1"/><circle cx="1060.0" cy="256.5" r="3.1"/><circle cx="1049.1" cy="259.0" r="3.1"/><circle cx="1048.3" cy="250.8" r="3.1"/><circle cx="1055.0" cy="251.7" r="3.1"/><circle cx="1060.0" cy="252.5" r="3.1"/><circle cx="1060.0" cy="257.5" r="3.1"/><circle cx="1031.7" cy="263.3" r="3.1"/><circle cx="1040.8" cy="262.5" r="3.1"/><circle cx="1048.3" cy="260.8" r="3.1"/><circle cx="1050.8" cy="260.8" r="3.1"/><circle cx="1090.7" cy="264.6" r="3.1"/><circle cx="1077.4" cy="269.6" r="3.1"/><circle cx="1084.9" cy="275.8" r="3.1"/><circle cx="1079.1" cy="280.8" r="3.1"/><circle cx="1030.0" cy="275.0" r="3.1"/><circle cx="1033.0" cy="278.0" r="3.1"/><circle cx="1036.0" cy="280.0" r="3.1"/><circle cx="1030.0" cy="283.0" r="3.1"/><circle cx="1034.0" cy="285.0" r="3.1"/><circle cx="1030.0" cy="288.0" r="3.1"/><circle cx="1041.6" cy="286.6" r="3.1"/><circle cx="1037.5" cy="294.1" r="3.1"/><circle cx="1050.0" cy="282.4" r="3.1"/><circle cx="1067.4" cy="282.4" r="3.1"/><circle cx="1063.3" cy="284.9" r="3.1"/><circle cx="1060.0" cy="288.3" r="3.1"/><circle cx="1057.5" cy="290.8" r="3.1"/><circle cx="1055.0" cy="292.9" r="3.1"/><circle cx="1048.0" cy="302.9" r="3.1"/><circle cx="1049.1" cy="311.2" r="3.1"/><circle cx="1031.7" cy="319.9" r="3.1"/><circle cx="1040.8" cy="325.4" r="3.1"/><circle cx="1050.0" cy="329.5" r="3.1"/><circle cx="1030.0" cy="338.2" r="3.1"/><circle cx="1030.0" cy="343.2" r="3.1"/><circle cx="993.3" cy="320.0" r="3.1"/><circle cx="1013.3" cy="320.0" r="3.1"/><circle cx="1029.9" cy="320.8" r="3.1"/><circle cx="1040.7" cy="325.8" r="3.1"/><circle cx="1049.9" cy="329.7" r="3.1"/><circle cx="1026.6" cy="336.6" r="3.1"/><circle cx="1026.6" cy="342.5" r="3.1"/><circle cx="1058.2" cy="357.9" r="3.1"/><circle cx="1016.6" cy="360.8" r="3.1"/><circle cx="983.3" cy="323.3" r="3.1"/><circle cx="988.3" cy="326.7" r="3.1"/><circle cx="993.3" cy="330.0" r="3.1"/><circle cx="1001.6" cy="325.0" r="3.1"/><circle cx="1001.6" cy="330.0" r="3.1"/><circle cx="985.0" cy="333.3" r="3.1"/><circle cx="990.0" cy="336.6" r="3.1"/><circle cx="998.3" cy="338.3" r="3.1"/><circle cx="1005.0" cy="338.3" r="3.1"/><circle cx="1010.0" cy="341.6" r="3.1"/><circle cx="1011.6" cy="345.0" r="3.1"/><circle cx="985.0" cy="343.3" r="3.1"/><circle cx="996.6" cy="345.0" r="3.1"/><circle cx="1005.0" cy="346.6" r="3.1"/><circle cx="981.7" cy="350.0" r="3.1"/><circle cx="990.0" cy="350.0" r="3.1"/><circle cx="998.3" cy="350.0" r="3.1"/><circle cx="1003.3" cy="348.3" r="3.1"/><circle cx="983.3" cy="354.9" r="3.1"/><circle cx="986.7" cy="358.3" r="3.1"/><circle cx="993.3" cy="354.9" r="3.1"/><circle cx="995.0" cy="359.9" r="3.1"/><circle cx="983.3" cy="361.6" r="3.1"/><circle cx="990.0" cy="361.6" r="3.1"/><circle cx="983.3" cy="368.3" r="3.1"/><circle cx="985.0" cy="371.6" r="3.1"/><circle cx="999.1" cy="367.4" r="3.1"/><circle cx="983.3" cy="384.9" r="3.1"/><circle cx="983.3" cy="389.1" r="3.1"/></g>
<g clip-path="url(#cBr)" fill="rgb(165,22,24)"><circle cx="849.1" cy="407.9" r="3.1"/><circle cx="844.6" cy="420.2" r="3.1"/><circle cx="859.1" cy="424.9" r="3.1"/><circle cx="855.8" cy="428.2" r="3.1"/><circle cx="851.6" cy="429.9" r="3.1"/><circle cx="846.6" cy="441.5" r="3.1"/><circle cx="850.0" cy="441.2" r="3.1"/><circle cx="854.1" cy="440.7" r="3.1"/><circle cx="857.4" cy="441.5" r="3.1"/><circle cx="854.9" cy="444.0" r="3.1"/><circle cx="835.0" cy="451.5" r="3.1"/><circle cx="838.3" cy="454.0" r="3.1"/><circle cx="836.6" cy="458.2" r="3.1"/><circle cx="840.0" cy="456.5" r="3.1"/><circle cx="851.6" cy="456.5" r="3.1"/><circle cx="850.8" cy="433.2" r="3.1"/><circle cx="867.4" cy="434.1" r="3.1"/><circle cx="871.6" cy="436.6" r="3.1"/><circle cx="873.2" cy="439.9" r="3.1"/><circle cx="873.2" cy="443.2" r="3.1"/><circle cx="884.9" cy="432.4" r="3.1"/><circle cx="863.3" cy="424.9" r="3.1"/><circle cx="868.2" cy="423.2" r="3.1"/><circle cx="871.6" cy="426.6" r="3.1"/><circle cx="878.2" cy="424.9" r="3.1"/><circle cx="884.9" cy="430.7" r="3.1"/><circle cx="890.7" cy="423.2" r="3.1"/><circle cx="893.2" cy="421.6" r="3.1"/><circle cx="873.2" cy="407.9" r="3.1"/><circle cx="878.2" cy="400.8" r="3.1"/><circle cx="884.9" cy="400.0" r="3.1"/><circle cx="886.5" cy="404.9" r="3.1"/><circle cx="891.5" cy="403.3" r="3.1"/><circle cx="894.9" cy="400.0" r="3.1"/><circle cx="893.2" cy="409.9" r="3.1"/><circle cx="896.5" cy="413.3" r="3.1"/><circle cx="899.9" cy="412.4" r="3.1"/><circle cx="904.9" cy="418.3" r="3.1"/><circle cx="911.5" cy="419.9" r="3.1"/><circle cx="909.8" cy="400.8" r="3.1"/><circle cx="898.2" cy="403.3" r="3.1"/><circle cx="883.2" cy="380.0" r="3.1"/><circle cx="888.2" cy="376.7" r="3.1"/><circle cx="891.5" cy="383.3" r="3.1"/><circle cx="893.2" cy="387.5" r="3.1"/><circle cx="899.9" cy="390.0" r="3.1"/><circle cx="889.9" cy="391.6" r="3.1"/><circle cx="894.9" cy="393.3" r="3.1"/><circle cx="896.5" cy="371.7" r="3.1"/><circle cx="901.5" cy="378.3" r="3.1"/><circle cx="908.2" cy="380.0" r="3.1"/><circle cx="909.8" cy="376.7" r="3.1"/><circle cx="911.5" cy="386.6" r="3.1"/><circle cx="921.6" cy="372.5" r="3.1"/><circle cx="910.0" cy="376.7" r="3.1"/><circle cx="903.3" cy="378.3" r="3.1"/><circle cx="916.6" cy="380.0" r="3.1"/><circle cx="920.0" cy="381.6" r="3.1"/><circle cx="913.3" cy="384.1" r="3.1"/><circle cx="907.5" cy="385.8" r="3.1"/><circle cx="911.6" cy="387.5" r="3.1"/><circle cx="901.7" cy="390.0" r="3.1"/><circle cx="924.1" cy="389.1" r="3.1"/><circle cx="930.0" cy="390.8" r="3.1"/><circle cx="925.0" cy="394.1" r="3.1"/><circle cx="916.6" cy="398.3" r="3.1"/><circle cx="909.2" cy="400.8" r="3.1"/><circle cx="924.1" cy="402.4" r="3.1"/><circle cx="901.7" cy="413.3" r="3.1"/><circle cx="920.0" cy="413.3" r="3.1"/><circle cx="921.6" cy="416.6" r="3.1"/><circle cx="905.0" cy="418.3" r="3.1"/><circle cx="911.6" cy="420.7" r="3.1"/><circle cx="938.3" cy="373.3" r="3.1"/><circle cx="943.3" cy="375.0" r="3.1"/><circle cx="946.6" cy="371.7" r="3.1"/><circle cx="953.2" cy="373.3" r="3.1"/><circle cx="958.2" cy="371.7" r="3.1"/><circle cx="964.9" cy="376.7" r="3.1"/><circle cx="969.9" cy="371.7" r="3.1"/><circle cx="973.2" cy="372.5" r="3.1"/><circle cx="984.9" cy="371.7" r="3.1"/><circle cx="939.9" cy="382.5" r="3.1"/><circle cx="944.9" cy="385.0" r="3.1"/><circle cx="949.9" cy="383.3" r="3.1"/><circle cx="954.9" cy="382.5" r="3.1"/><circle cx="959.9" cy="385.0" r="3.1"/><circle cx="963.2" cy="389.1" r="3.1"/><circle cx="941.6" cy="390.0" r="3.1"/><circle cx="938.3" cy="388.3" r="3.1"/><circle cx="947.4" cy="392.5" r="3.1"/><circle cx="943.3" cy="395.0" r="3.1"/><circle cx="972.4" cy="383.3" r="3.1"/><circle cx="983.2" cy="385.8" r="3.1"/><circle cx="983.2" cy="390.0" r="3.1"/><circle cx="939.1" cy="407.9" r="3.1"/><circle cx="930.7" cy="320.0" r="3.1"/><circle cx="932.4" cy="333.3" r="3.1"/><circle cx="929.0" cy="344.1" r="3.1"/><circle cx="926.5" cy="347.4" r="3.1"/><circle cx="927.4" cy="351.6" r="3.1"/><circle cx="909.9" cy="347.4" r="3.1"/><circle cx="904.9" cy="353.2" r="3.1"/><circle cx="916.6" cy="355.7" r="3.1"/><circle cx="923.2" cy="363.2" r="3.1"/><circle cx="930.7" cy="359.9" r="3.1"/><circle cx="943.2" cy="316.6" r="3.1"/><circle cx="947.3" cy="314.1" r="3.1"/><circle cx="953.2" cy="310.0" r="3.1"/><circle cx="943.2" cy="339.9" r="3.1"/><circle cx="948.2" cy="338.3" r="3.1"/><circle cx="953.2" cy="339.9" r="3.1"/><circle cx="938.2" cy="344.9" r="3.1"/><circle cx="939.9" cy="349.9" r="3.1"/><circle cx="944.9" cy="344.9" r="3.1"/><circle cx="949.8" cy="348.2" r="3.1"/><circle cx="953.2" cy="353.2" r="3.1"/><circle cx="941.5" cy="356.6" r="3.1"/><circle cx="938.2" cy="359.9" r="3.1"/><circle cx="946.5" cy="359.9" r="3.1"/><circle cx="953.2" cy="359.9" r="3.1"/><circle cx="936.5" cy="331.6" r="3.1"/><circle cx="954.8" cy="300.0" r="3.1"/><circle cx="896.6" cy="368.2" r="3.1"/><circle cx="898.3" cy="373.2" r="3.1"/><circle cx="893.3" cy="374.9" r="3.1"/><circle cx="908.2" cy="376.5" r="3.1"/><circle cx="921.6" cy="371.5" r="3.1"/><circle cx="923.2" cy="368.2" r="3.1"/><circle cx="883.3" cy="379.9" r="3.1"/><circle cx="889.9" cy="381.5" r="3.1"/><circle cx="894.9" cy="384.8" r="3.1"/><circle cx="899.9" cy="380.7" r="3.1"/><circle cx="904.9" cy="383.2" r="3.1"/><circle cx="913.2" cy="383.2" r="3.1"/><circle cx="918.2" cy="381.5" r="3.1"/><circle cx="924.9" cy="383.2" r="3.1"/><circle cx="928.2" cy="388.2" r="3.1"/><circle cx="908.2" cy="388.2" r="3.1"/><circle cx="939.9" cy="368.2" r="3.1"/><circle cx="944.9" cy="371.5" r="3.1"/><circle cx="949.8" cy="369.9" r="3.1"/><circle cx="938.2" cy="379.9" r="3.1"/><circle cx="943.2" cy="383.2" r="3.1"/><circle cx="948.2" cy="379.9" r="3.1"/><circle cx="953.2" cy="383.2" r="3.1"/><circle cx="939.9" cy="388.2" r="3.1"/><circle cx="951.5" cy="373.2" r="3.1"/><circle cx="958.3" cy="293.3" r="3.1"/><circle cx="979.9" cy="290.8" r="3.1"/><circle cx="989.9" cy="293.3" r="3.1"/><circle cx="994.9" cy="295.0" r="3.1"/><circle cx="1001.6" cy="293.3" r="3.1"/><circle cx="1009.9" cy="291.7" r="3.1"/><circle cx="1023.2" cy="293.3" r="3.1"/><circle cx="1033.2" cy="291.7" r="3.1"/><circle cx="1038.2" cy="295.0" r="3.1"/><circle cx="966.6" cy="300.0" r="3.1"/><circle cx="970.8" cy="298.3" r="3.1"/><circle cx="973.3" cy="303.3" r="3.1"/><circle cx="969.1" cy="303.3" r="3.1"/><circle cx="998.2" cy="300.0" r="3.1"/><circle cx="1003.2" cy="301.6" r="3.1"/><circle cx="1008.2" cy="300.0" r="3.1"/><circle cx="1013.2" cy="298.3" r="3.1"/><circle cx="1018.2" cy="301.6" r="3.1"/><circle cx="1023.2" cy="305.0" r="3.1"/><circle cx="1028.2" cy="300.0" r="3.1"/><circle cx="955.8" cy="309.1" r="3.1"/><circle cx="973.3" cy="310.0" r="3.1"/><circle cx="983.3" cy="309.1" r="3.1"/><circle cx="994.9" cy="307.5" r="3.1"/><circle cx="999.9" cy="310.0" r="3.1"/><circle cx="1004.9" cy="311.6" r="3.1"/><circle cx="1011.5" cy="306.6" r="3.1"/><circle cx="1016.5" cy="308.3" r="3.1"/><circle cx="1021.5" cy="308.3" r="3.1"/><circle cx="944.2" cy="317.5" r="3.1"/><circle cx="948.3" cy="314.1" r="3.1"/><circle cx="956.6" cy="320.0" r="3.1"/><circle cx="960.8" cy="320.0" r="3.1"/><circle cx="971.6" cy="316.6" r="3.1"/><circle cx="974.9" cy="315.0" r="3.1"/><circle cx="981.6" cy="318.3" r="3.1"/><circle cx="985.8" cy="315.0" r="3.1"/><circle cx="989.9" cy="313.3" r="3.1"/><circle cx="993.2" cy="320.0" r="3.1"/><circle cx="996.6" cy="320.8" r="3.1"/><circle cx="1009.9" cy="315.0" r="3.1"/><circle cx="1011.5" cy="320.0" r="3.1"/><circle cx="1016.5" cy="318.3" r="3.1"/><circle cx="1021.5" cy="315.0" r="3.1"/><circle cx="1030.7" cy="320.0" r="3.1"/><circle cx="1039.0" cy="324.9" r="3.1"/><circle cx="961.6" cy="329.9" r="3.1"/><circle cx="965.0" cy="326.6" r="3.1"/><circle cx="971.6" cy="326.6" r="3.1"/><circle cx="976.6" cy="329.9" r="3.1"/><circle cx="979.9" cy="323.3" r="3.1"/><circle cx="984.9" cy="324.9" r="3.1"/><circle cx="988.3" cy="328.3" r="3.1"/><circle cx="993.2" cy="326.6" r="3.1"/><circle cx="1001.6" cy="324.9" r="3.1"/><circle cx="1003.2" cy="329.9" r="3.1"/><circle cx="989.9" cy="333.3" r="3.1"/><circle cx="984.9" cy="334.1" r="3.1"/><circle cx="943.3" cy="338.3" r="3.1"/><circle cx="947.5" cy="339.9" r="3.1"/><circle cx="951.6" cy="341.6" r="3.1"/><circle cx="956.6" cy="339.9" r="3.1"/><circle cx="961.6" cy="336.6" r="3.1"/><circle cx="965.0" cy="339.9" r="3.1"/><circle cx="971.6" cy="339.9" r="3.1"/><circle cx="974.9" cy="338.3" r="3.1"/><circle cx="979.9" cy="341.6" r="3.1"/><circle cx="984.9" cy="341.6" r="3.1"/><circle cx="989.9" cy="338.3" r="3.1"/><circle cx="994.9" cy="336.6" r="3.1"/><circle cx="999.9" cy="339.9" r="3.1"/><circle cx="1004.9" cy="338.3" r="3.1"/><circle cx="1009.9" cy="341.6" r="3.1"/><circle cx="1013.2" cy="344.9" r="3.1"/><circle cx="1026.5" cy="336.6" r="3.1"/><circle cx="1026.5" cy="341.6" r="3.1"/><circle cx="941.7" cy="344.9" r="3.1"/><circle cx="943.3" cy="351.6" r="3.1"/><circle cx="945.0" cy="356.6" r="3.1"/><circle cx="950.0" cy="353.2" r="3.1"/><circle cx="956.6" cy="348.2" r="3.1"/><circle cx="960.0" cy="353.2" r="3.1"/><circle cx="965.0" cy="349.9" r="3.1"/><circle cx="968.3" cy="354.9" r="3.1"/><circle cx="971.6" cy="358.2" r="3.1"/><circle cx="973.3" cy="351.6" r="3.1"/><circle cx="979.9" cy="348.2" r="3.1"/><circle cx="984.9" cy="346.6" r="3.1"/><circle cx="988.3" cy="353.2" r="3.1"/><circle cx="991.6" cy="358.2" r="3.1"/><circle cx="993.2" cy="348.2" r="3.1"/><circle cx="998.2" cy="348.2" r="3.1"/><circle cx="1003.2" cy="346.6" r="3.1"/><circle cx="1006.6" cy="343.2" r="3.1"/><circle cx="983.3" cy="356.6" r="3.1"/><circle cx="1016.5" cy="360.7" r="3.1"/><circle cx="996.6" cy="359.9" r="3.1"/><circle cx="941.7" cy="369.9" r="3.1"/><circle cx="946.7" cy="368.2" r="3.1"/><circle cx="953.3" cy="368.2" r="3.1"/><circle cx="958.3" cy="373.2" r="3.1"/><circle cx="965.0" cy="369.9" r="3.1"/><circle cx="970.0" cy="368.2" r="3.1"/><circle cx="973.3" cy="373.2" r="3.1"/><circle cx="981.6" cy="369.9" r="3.1"/><circle cx="984.9" cy="368.2" r="3.1"/><circle cx="986.6" cy="373.2" r="3.1"/><circle cx="998.2" cy="367.4" r="3.1"/><circle cx="943.3" cy="376.5" r="3.1"/><circle cx="950.0" cy="379.9" r="3.1"/><circle cx="956.6" cy="378.2" r="3.1"/><circle cx="965.0" cy="378.2" r="3.1"/><circle cx="970.0" cy="383.2" r="3.1"/><circle cx="973.3" cy="383.2" r="3.1"/><circle cx="978.3" cy="379.9" r="3.1"/><circle cx="981.6" cy="386.5" r="3.1"/><circle cx="950.0" cy="386.5" r="3.1"/><circle cx="943.3" cy="384.8" r="3.1"/><circle cx="956.6" cy="386.5" r="3.1"/><circle cx="1011.2" cy="247.1" r="3.1"/><circle cx="1016.2" cy="253.2" r="3.1"/><circle cx="1011.2" cy="264.4" r="3.1"/><circle cx="1011.2" cy="274.0" r="3.1"/><circle cx="1006.2" cy="282.3" r="3.1"/><circle cx="972.4" cy="271.5" r="3.1"/><circle cx="970.8" cy="279.0" r="3.1"/><circle cx="979.9" cy="288.2" r="3.1"/><circle cx="990.7" cy="284.8" r="3.1"/><circle cx="996.6" cy="284.8" r="3.1"/><circle cx="1015.7" cy="286.5" r="3.1"/><circle cx="1021.5" cy="279.9" r="3.1"/><circle cx="1026.5" cy="278.2" r="3.1"/><circle cx="1031.5" cy="276.5" r="3.1"/><circle cx="1036.5" cy="274.9" r="3.1"/><circle cx="1023.2" cy="285.7" r="3.1"/><circle cx="1029.9" cy="283.2" r="3.1"/><circle cx="1034.8" cy="283.2" r="3.1"/><circle cx="1039.8" cy="283.2" r="3.1"/><circle cx="1028.2" cy="263.2" r="3.1"/><circle cx="1033.2" cy="264.0" r="3.1"/><circle cx="1038.2" cy="261.5" r="3.1"/><circle cx="1034.0" cy="246.6" r="3.1"/><circle cx="1038.2" cy="244.9" r="3.1"/><circle cx="1133.2" cy="176.1" r="3.1"/><circle cx="1112.9" cy="193.6" r="3.1"/><circle cx="1110.8" cy="215.7" r="3.1"/><circle cx="1112.9" cy="231.0" r="3.1"/><circle cx="1081.7" cy="220.7" r="3.1"/><circle cx="1085.0" cy="236.2" r="3.1"/><circle cx="1090.0" cy="236.2" r="3.1"/><circle cx="1094.1" cy="236.2" r="3.1"/><circle cx="1065.3" cy="206.6" r="3.1"/><circle cx="1060.0" cy="215.7" r="3.1"/><circle cx="1074.1" cy="213.6" r="3.1"/><circle cx="1081.6" cy="221.1" r="3.1"/><circle cx="1055.0" cy="224.9" r="3.1"/><circle cx="1072.4" cy="224.9" r="3.1"/><circle cx="1073.3" cy="229.9" r="3.1"/><circle cx="1067.4" cy="236.2" r="3.1"/><circle cx="1034.2" cy="246.5" r="3.1"/><circle cx="1038.3" cy="244.9" r="3.1"/><circle cx="1048.3" cy="249.9" r="3.1"/><circle cx="1053.3" cy="249.9" r="3.1"/><circle cx="1058.3" cy="247.4" r="3.1"/><circle cx="1060.0" cy="251.5" r="3.1"/><circle cx="1060.0" cy="256.5" r="3.1"/><circle cx="1049.1" cy="259.0" r="3.1"/><circle cx="1048.3" cy="250.8" r="3.1"/><circle cx="1055.0" cy="251.7" r="3.1"/><circle cx="1060.0" cy="252.5" r="3.1"/><circle cx="1060.0" cy="257.5" r="3.1"/><circle cx="1031.7" cy="263.3" r="3.1"/><circle cx="1040.8" cy="262.5" r="3.1"/><circle cx="1048.3" cy="260.8" r="3.1"/><circle cx="1050.8" cy="260.8" r="3.1"/><circle cx="1090.7" cy="264.6" r="3.1"/><circle cx="1077.4" cy="269.6" r="3.1"/><circle cx="1084.9" cy="275.8" r="3.1"/><circle cx="1079.1" cy="280.8" r="3.1"/><circle cx="1030.0" cy="275.0" r="3.1"/><circle cx="1033.0" cy="278.0" r="3.1"/><circle cx="1036.0" cy="280.0" r="3.1"/><circle cx="1030.0" cy="283.0" r="3.1"/><circle cx="1034.0" cy="285.0" r="3.1"/><circle cx="1030.0" cy="288.0" r="3.1"/><circle cx="1041.6" cy="286.6" r="3.1"/><circle cx="1037.5" cy="294.1" r="3.1"/><circle cx="1050.0" cy="282.4" r="3.1"/><circle cx="1067.4" cy="282.4" r="3.1"/><circle cx="1063.3" cy="284.9" r="3.1"/><circle cx="1060.0" cy="288.3" r="3.1"/><circle cx="1057.5" cy="290.8" r="3.1"/><circle cx="1055.0" cy="292.9" r="3.1"/><circle cx="1048.0" cy="302.9" r="3.1"/><circle cx="1049.1" cy="311.2" r="3.1"/><circle cx="1031.7" cy="319.9" r="3.1"/><circle cx="1040.8" cy="325.4" r="3.1"/><circle cx="1050.0" cy="329.5" r="3.1"/><circle cx="1030.0" cy="338.2" r="3.1"/><circle cx="1030.0" cy="343.2" r="3.1"/><circle cx="993.3" cy="320.0" r="3.1"/><circle cx="1013.3" cy="320.0" r="3.1"/><circle cx="1029.9" cy="320.8" r="3.1"/><circle cx="1040.7" cy="325.8" r="3.1"/><circle cx="1049.9" cy="329.7" r="3.1"/><circle cx="1026.6" cy="336.6" r="3.1"/><circle cx="1026.6" cy="342.5" r="3.1"/><circle cx="1058.2" cy="357.9" r="3.1"/><circle cx="1016.6" cy="360.8" r="3.1"/><circle cx="983.3" cy="323.3" r="3.1"/><circle cx="988.3" cy="326.7" r="3.1"/><circle cx="993.3" cy="330.0" r="3.1"/><circle cx="1001.6" cy="325.0" r="3.1"/><circle cx="1001.6" cy="330.0" r="3.1"/><circle cx="985.0" cy="333.3" r="3.1"/><circle cx="990.0" cy="336.6" r="3.1"/><circle cx="998.3" cy="338.3" r="3.1"/><circle cx="1005.0" cy="338.3" r="3.1"/><circle cx="1010.0" cy="341.6" r="3.1"/><circle cx="1011.6" cy="345.0" r="3.1"/><circle cx="985.0" cy="343.3" r="3.1"/><circle cx="996.6" cy="345.0" r="3.1"/><circle cx="1005.0" cy="346.6" r="3.1"/><circle cx="981.7" cy="350.0" r="3.1"/><circle cx="990.0" cy="350.0" r="3.1"/><circle cx="998.3" cy="350.0" r="3.1"/><circle cx="1003.3" cy="348.3" r="3.1"/><circle cx="983.3" cy="354.9" r="3.1"/><circle cx="986.7" cy="358.3" r="3.1"/><circle cx="993.3" cy="354.9" r="3.1"/><circle cx="995.0" cy="359.9" r="3.1"/><circle cx="983.3" cy="361.6" r="3.1"/><circle cx="990.0" cy="361.6" r="3.1"/><circle cx="983.3" cy="368.3" r="3.1"/><circle cx="985.0" cy="371.6" r="3.1"/><circle cx="999.1" cy="367.4" r="3.1"/><circle cx="983.3" cy="384.9" r="3.1"/><circle cx="983.3" cy="389.1" r="3.1"/></g>
<path d="M860.88 36.50V471.00M933.66 36.50V471.00M818.80 432.17H1291.50M818.80 365.31H1291.50" stroke="rgba(20,15,0,0.55)" stroke-width="1.5" fill="none"/>
<path d="M909.40 471.00V479.60M810.00 387.59H818.80M1030.70 471.00V479.60M810.00 276.16H818.80M1152.00 471.00V479.60M810.00 164.72H818.80M1273.30 471.00V479.60M810.00 53.29H818.80" stroke="#7c7c7c" stroke-width="1.8" fill="none"/>
<text x="805.80" y="397.89" font-size="29.2" text-anchor="end">50</text>
<text x="805.80" y="286.46" font-size="29.2" text-anchor="end">100</text>
<text x="805.80" y="175.02" font-size="29.2" text-anchor="end">150</text>
<text x="805.80" y="63.59" font-size="29.2" text-anchor="end">200</text>
<text x="910.60" y="509.30" font-size="29.2" text-anchor="middle">50</text>
<text x="1031.70" y="509.30" font-size="29.2" text-anchor="middle">100</text>
<text x="1153.40" y="509.30" font-size="29.2" text-anchor="middle">150</text>
<text x="1275.70" y="509.30" font-size="29.2" text-anchor="middle">200</text>
<text transform="translate(1051.50 553.10) scale(1.047 1)" font-size="27.90" text-anchor="middle">eGFR calculated from</text>
<text transform="translate(1051.50 587.10) scale(1.047 1)" font-size="27.90" text-anchor="middle">laboratory measured SCr</text>
<text transform="translate(705.20 258.50) rotate(-90) scale(1.047 1)" font-size="27.90" text-anchor="middle">eGFR calculated from</text>
<text transform="translate(740.00 256.40) rotate(-90) scale(1.047 1)" font-size="27.90" text-anchor="middle">StatSensor SCr</text>
<text x="822.62" y="232.70" font-size="24.8">D</text>
<text x="867.62" y="232.70" font-size="24.8">B</text>
<text x="941.30" y="232.70" font-size="24.8">A</text>
<text x="821.82" y="383.80" font-size="24.8">D</text>
<text x="865.90" y="386.50" font-size="24.8">A</text>
<text x="1025.52" y="390.80" font-size="24.8">B</text>
<text x="823.20" y="451.50" font-size="24.8">A</text>
<text x="914.76" y="455.25" font-size="24.8">C</text>
<text x="1024.56" y="455.45" font-size="24.8">C</text>
<text transform="translate(706.66 35.55) scale(0.895 1)" font-size="44.5" font-weight="bold" stroke="#000" stroke-width="0.7">B</text>
<defs><clipPath id="cCr"><rect x="1482.50" y="35.60" width="42.34" height="395.41"/></clipPath><clipPath id="cCy"><rect x="1524.84" y="35.60" width="72.84" height="328.49"/><rect x="1597.68" y="364.09" width="357.32" height="66.92"/><rect x="1524.84" y="431.01" width="430.16" height="38.99"/></clipPath><clipPath id="cCg"><rect x="1597.68" y="35.60" width="357.32" height="328.49"/><rect x="1524.84" y="364.09" width="72.84" height="66.92"/><rect x="1482.50" y="431.01" width="42.34" height="38.99"/></clipPath></defs>
<rect x="1483.15" y="36.25" width="41.04" height="394.11" fill="rgb(236,106,112)" stroke="rgb(226,82,90)" stroke-width="1.3"/>
<rect x="1525.49" y="36.25" width="71.54" height="327.19" fill="rgb(252,204,112)" stroke="rgb(238,180,92)" stroke-width="1.3"/>
<rect x="1598.33" y="36.25" width="356.02" height="327.19" fill="rgb(156,198,82)" stroke="rgb(108,182,72)" stroke-width="1.3"/>
<rect x="1525.49" y="364.74" width="71.54" height="65.62" fill="rgb(156,198,82)" stroke="rgb(108,182,72)" stroke-width="1.3"/>
<rect x="1598.33" y="364.74" width="356.02" height="65.62" fill="rgb(252,204,112)" stroke="rgb(238,180,92)" stroke-width="1.3"/>
<rect x="1483.15" y="431.66" width="41.04" height="37.69" fill="rgb(156,198,82)" stroke="rgb(108,182,72)" stroke-width="1.3"/>
<rect x="1525.49" y="431.66" width="428.86" height="37.69" fill="rgb(252,204,112)" stroke="rgb(238,180,92)" stroke-width="1.3"/>
<g clip-path="url(#cCg)" fill="rgb(10,137,50)"><circle cx="1498.3" cy="453.9" r="3.1"/><circle cx="1501.6" cy="452.6" r="3.1"/><circle cx="1504.3" cy="449.9" r="3.1"/><circle cx="1507.6" cy="445.9" r="3.1"/><circle cx="1510.3" cy="443.3" r="3.1"/><circle cx="1513.6" cy="441.3" r="3.1"/><circle cx="1516.3" cy="439.3" r="3.1"/><circle cx="1518.3" cy="435.9" r="3.1"/><circle cx="1520.3" cy="433.3" r="3.1"/><circle cx="1522.9" cy="430.6" r="3.1"/><circle cx="1526.3" cy="428.6" r="3.1"/><circle cx="1528.9" cy="425.3" r="3.1"/><circle cx="1530.9" cy="422.0" r="3.1"/><circle cx="1533.6" cy="419.3" r="3.1"/><circle cx="1536.9" cy="417.3" r="3.1"/><circle cx="1539.6" cy="415.3" r="3.1"/><circle cx="1542.2" cy="413.3" r="3.1"/><circle cx="1543.6" cy="411.3" r="3.1"/><circle cx="1546.2" cy="410.0" r="3.1"/><circle cx="1547.6" cy="407.3" r="3.1"/><circle cx="1550.2" cy="405.3" r="3.1"/><circle cx="1551.6" cy="402.6" r="3.1"/><circle cx="1554.2" cy="400.6" r="3.1"/><circle cx="1556.2" cy="398.0" r="3.1"/><circle cx="1558.2" cy="395.3" r="3.1"/><circle cx="1560.9" cy="392.7" r="3.1"/><circle cx="1563.5" cy="390.7" r="3.1"/><circle cx="1562.2" cy="403.3" r="3.1"/><circle cx="1561.5" cy="407.3" r="3.1"/><circle cx="1564.9" cy="408.6" r="3.1"/><circle cx="1532.9" cy="423.3" r="3.1"/><circle cx="1543.6" cy="416.6" r="3.1"/><circle cx="1689.8" cy="191.6" r="3.1"/><circle cx="1638.9" cy="352.4" r="3.1"/><circle cx="1684.8" cy="302.1" r="3.1"/><circle cx="1547.7" cy="405.9" r="3.1"/><circle cx="1550.3" cy="402.5" r="3.1"/><circle cx="1553.0" cy="399.9" r="3.1"/><circle cx="1555.6" cy="396.6" r="3.1"/><circle cx="1559.0" cy="393.9" r="3.1"/><circle cx="1561.0" cy="390.6" r="3.1"/><circle cx="1564.3" cy="388.6" r="3.1"/><circle cx="1567.6" cy="385.9" r="3.1"/><circle cx="1570.3" cy="383.2" r="3.1"/><circle cx="1573.0" cy="380.6" r="3.1"/><circle cx="1575.6" cy="377.9" r="3.1"/><circle cx="1578.9" cy="375.9" r="3.1"/><circle cx="1580.9" cy="373.3" r="3.1"/><circle cx="1583.6" cy="371.3" r="3.1"/><circle cx="1586.3" cy="369.9" r="3.1"/><circle cx="1588.9" cy="367.9" r="3.1"/><circle cx="1591.6" cy="365.9" r="3.1"/><circle cx="1594.3" cy="363.9" r="3.1"/><circle cx="1553.0" cy="393.9" r="3.1"/><circle cx="1558.3" cy="400.5" r="3.1"/><circle cx="1565.0" cy="393.9" r="3.1"/><circle cx="1569.0" cy="392.6" r="3.1"/><circle cx="1562.3" cy="407.2" r="3.1"/><circle cx="1566.3" cy="396.6" r="3.1"/><circle cx="1549.0" cy="399.2" r="3.1"/><circle cx="1571.6" cy="385.9" r="3.1"/><circle cx="1578.3" cy="380.6" r="3.1"/><circle cx="1584.9" cy="375.3" r="3.1"/><circle cx="1588.9" cy="373.9" r="3.1"/><circle cx="1582.3" cy="377.9" r="3.1"/><circle cx="1592.3" cy="356.0" r="3.1"/><circle cx="1594.9" cy="358.6" r="3.1"/><circle cx="1593.6" cy="360.0" r="3.1"/><circle cx="1605.6" cy="367.3" r="3.1"/><circle cx="1607.6" cy="369.3" r="3.1"/><circle cx="1603.6" cy="365.9" r="3.1"/><circle cx="1600.9" cy="355.3" r="3.1"/><circle cx="1604.9" cy="352.6" r="3.1"/><circle cx="1607.6" cy="347.3" r="3.1"/><circle cx="1603.6" cy="344.6" r="3.1"/><circle cx="1611.6" cy="343.3" r="3.1"/><circle cx="1614.2" cy="338.0" r="3.1"/><circle cx="1616.9" cy="334.0" r="3.1"/><circle cx="1620.9" cy="331.3" r="3.1"/><circle cx="1602.2" cy="332.7" r="3.1"/><circle cx="1611.6" cy="356.6" r="3.1"/><circle cx="1607.6" cy="359.3" r="3.1"/><circle cx="1602.2" cy="360.6" r="3.1"/><circle cx="1619.5" cy="346.0" r="3.1"/><circle cx="1623.5" cy="340.6" r="3.1"/><circle cx="1624.9" cy="336.7" r="3.1"/><circle cx="1616.9" cy="352.6" r="3.1"/><circle cx="1602.7" cy="332.6" r="3.1"/><circle cx="1605.3" cy="343.2" r="3.1"/><circle cx="1610.6" cy="339.2" r="3.1"/><circle cx="1608.0" cy="348.5" r="3.1"/><circle cx="1613.3" cy="345.9" r="3.1"/><circle cx="1618.6" cy="341.9" r="3.1"/><circle cx="1621.3" cy="336.6" r="3.1"/><circle cx="1617.3" cy="329.9" r="3.1"/><circle cx="1622.6" cy="325.9" r="3.1"/><circle cx="1625.3" cy="321.9" r="3.1"/><circle cx="1626.6" cy="331.2" r="3.1"/><circle cx="1630.6" cy="328.6" r="3.1"/><circle cx="1628.0" cy="339.2" r="3.1"/><circle cx="1633.3" cy="339.2" r="3.1"/><circle cx="1635.9" cy="333.9" r="3.1"/><circle cx="1631.9" cy="323.2" r="3.1"/><circle cx="1633.3" cy="317.9" r="3.1"/><circle cx="1638.6" cy="316.6" r="3.1"/><circle cx="1637.3" cy="325.9" r="3.1"/><circle cx="1642.6" cy="321.9" r="3.1"/><circle cx="1641.3" cy="315.3" r="3.1"/><circle cx="1647.9" cy="313.9" r="3.1"/><circle cx="1646.6" cy="307.3" r="3.1"/><circle cx="1650.6" cy="303.3" r="3.1"/><circle cx="1653.2" cy="309.9" r="3.1"/><circle cx="1655.9" cy="313.9" r="3.1"/><circle cx="1649.3" cy="323.2" r="3.1"/><circle cx="1658.6" cy="307.3" r="3.1"/><circle cx="1658.6" cy="301.9" r="3.1"/><circle cx="1661.2" cy="296.6" r="3.1"/><circle cx="1665.2" cy="292.6" r="3.1"/><circle cx="1663.9" cy="300.6" r="3.1"/><circle cx="1666.6" cy="290.0" r="3.1"/><circle cx="1669.2" cy="286.0" r="3.1"/><circle cx="1671.9" cy="282.0" r="3.1"/><circle cx="1670.5" cy="294.0" r="3.1"/><circle cx="1674.5" cy="288.6" r="3.1"/><circle cx="1677.2" cy="284.6" r="3.1"/><circle cx="1675.9" cy="301.9" r="3.1"/><circle cx="1678.5" cy="295.3" r="3.1"/><circle cx="1679.9" cy="278.0" r="3.1"/><circle cx="1674.5" cy="274.0" r="3.1"/><circle cx="1666.6" cy="272.0" r="3.1"/><circle cx="1655.9" cy="285.3" r="3.1"/><circle cx="1722.4" cy="201.7" r="3.1"/><circle cx="1736.5" cy="208.3" r="3.1"/><circle cx="1743.2" cy="205.0" r="3.1"/><circle cx="1748.2" cy="200.8" r="3.1"/><circle cx="1745.7" cy="216.6" r="3.1"/><circle cx="1736.5" cy="219.1" r="3.1"/><circle cx="1754.0" cy="225.8" r="3.1"/><circle cx="1722.4" cy="219.1" r="3.1"/><circle cx="1714.1" cy="215.8" r="3.1"/><circle cx="1711.6" cy="223.3" r="3.1"/><circle cx="1704.9" cy="230.0" r="3.1"/><circle cx="1711.6" cy="230.0" r="3.1"/><circle cx="1694.9" cy="225.8" r="3.1"/><circle cx="1687.5" cy="230.0" r="3.1"/><circle cx="1729.9" cy="226.6" r="3.1"/><circle cx="1729.1" cy="230.8" r="3.1"/><circle cx="1738.2" cy="233.3" r="3.1"/><circle cx="1739.0" cy="237.4" r="3.1"/><circle cx="1731.5" cy="244.1" r="3.1"/><circle cx="1724.1" cy="240.8" r="3.1"/><circle cx="1719.9" cy="243.3" r="3.1"/><circle cx="1716.6" cy="246.6" r="3.1"/><circle cx="1713.2" cy="249.9" r="3.1"/><circle cx="1718.2" cy="251.6" r="3.1"/><circle cx="1723.2" cy="248.3" r="3.1"/><circle cx="1704.1" cy="239.9" r="3.1"/><circle cx="1697.4" cy="244.1" r="3.1"/><circle cx="1678.3" cy="248.3" r="3.1"/><circle cx="1693.3" cy="251.6" r="3.1"/><circle cx="1694.9" cy="258.2" r="3.1"/><circle cx="1668.3" cy="257.4" r="3.1"/><circle cx="1677.5" cy="260.7" r="3.1"/><circle cx="1685.0" cy="261.6" r="3.1"/><circle cx="1681.6" cy="266.6" r="3.1"/><circle cx="1689.1" cy="268.2" r="3.1"/><circle cx="1693.3" cy="269.9" r="3.1"/><circle cx="1699.9" cy="268.2" r="3.1"/><circle cx="1704.9" cy="273.2" r="3.1"/><circle cx="1701.6" cy="275.7" r="3.1"/><circle cx="1706.6" cy="263.2" r="3.1"/><circle cx="1713.2" cy="268.2" r="3.1"/><circle cx="1714.1" cy="257.4" r="3.1"/><circle cx="1666.7" cy="272.4" r="3.1"/><circle cx="1675.8" cy="274.9" r="3.1"/><circle cx="1681.6" cy="278.2" r="3.1"/><circle cx="1686.6" cy="279.9" r="3.1"/><circle cx="1694.9" cy="281.5" r="3.1"/><circle cx="1670.0" cy="281.5" r="3.1"/><circle cx="1675.0" cy="284.9" r="3.1"/><circle cx="1685.0" cy="287.4" r="3.1"/><circle cx="1665.0" cy="288.2" r="3.1"/><circle cx="1670.0" cy="291.5" r="3.1"/><circle cx="1676.6" cy="293.2" r="3.1"/><circle cx="1663.3" cy="294.8" r="3.1"/><circle cx="1668.3" cy="296.5" r="3.1"/><circle cx="1685.0" cy="299.0" r="3.1"/><circle cx="1776.9" cy="125.0" r="3.1"/><circle cx="1753.6" cy="154.1" r="3.1"/><circle cx="1755.7" cy="160.4" r="3.1"/><circle cx="1776.9" cy="165.7" r="3.1"/><circle cx="1757.7" cy="181.0" r="3.1"/><circle cx="1714.1" cy="189.9" r="3.1"/><circle cx="1748.3" cy="187.9" r="3.1"/><circle cx="1736.6" cy="194.0" r="3.1"/><circle cx="1741.6" cy="194.0" r="3.1"/><circle cx="1722.1" cy="201.2" r="3.1"/><circle cx="1748.6" cy="199.0" r="3.1"/><circle cx="1743.6" cy="205.2" r="3.1"/><circle cx="1736.6" cy="207.8" r="3.1"/><circle cx="1796.9" cy="70.0" r="3.1"/><circle cx="1774.8" cy="81.3" r="3.1"/><circle cx="1726.0" cy="98.3" r="3.1"/><circle cx="1679.4" cy="279.6" r="3.1"/><circle cx="1673.2" cy="283.1" r="3.1"/><circle cx="1676.7" cy="282.1" r="3.1"/><circle cx="1670.7" cy="286.9" r="3.1"/><circle cx="1673.7" cy="287.1" r="3.1"/><circle cx="1679.7" cy="286.4" r="3.1"/><circle cx="1668.7" cy="290.0" r="3.1"/><circle cx="1671.9" cy="291.2" r="3.1"/><circle cx="1677.2" cy="290.7" r="3.1"/><circle cx="1665.4" cy="294.9" r="3.1"/><circle cx="1670.8" cy="295.0" r="3.1"/><circle cx="1673.8" cy="295.0" r="3.1"/><circle cx="1659.6" cy="298.4" r="3.1"/><circle cx="1662.5" cy="298.0" r="3.1"/><circle cx="1667.8" cy="298.7" r="3.1"/><circle cx="1677.0" cy="297.6" r="3.1"/><circle cx="1655.8" cy="302.6" r="3.1"/><circle cx="1661.6" cy="302.6" r="3.1"/><circle cx="1665.9" cy="301.7" r="3.1"/><circle cx="1650.5" cy="306.1" r="3.1"/><circle cx="1653.7" cy="305.9" r="3.1"/><circle cx="1659.7" cy="305.4" r="3.1"/><circle cx="1647.5" cy="310.4" r="3.1"/><circle cx="1652.5" cy="309.8" r="3.1"/><circle cx="1656.9" cy="309.8" r="3.1"/><circle cx="1640.8" cy="313.6" r="3.1"/><circle cx="1645.7" cy="313.5" r="3.1"/><circle cx="1650.3" cy="314.6" r="3.1"/><circle cx="1653.8" cy="314.0" r="3.1"/><circle cx="1633.4" cy="318.6" r="3.1"/><circle cx="1638.4" cy="316.7" r="3.1"/><circle cx="1642.7" cy="317.4" r="3.1"/><circle cx="1646.7" cy="317.5" r="3.1"/><circle cx="1652.0" cy="318.0" r="3.1"/><circle cx="1632.0" cy="320.8" r="3.1"/><circle cx="1637.1" cy="321.2" r="3.1"/><circle cx="1641.6" cy="321.1" r="3.1"/><circle cx="1645.2" cy="321.0" r="3.1"/><circle cx="1649.8" cy="320.9" r="3.1"/><circle cx="1625.5" cy="324.9" r="3.1"/><circle cx="1628.9" cy="324.7" r="3.1"/><circle cx="1633.6" cy="326.0" r="3.1"/><circle cx="1638.4" cy="324.7" r="3.1"/><circle cx="1644.0" cy="326.0" r="3.1"/><circle cx="1623.0" cy="330.0" r="3.1"/><circle cx="1626.4" cy="330.0" r="3.1"/><circle cx="1631.8" cy="329.4" r="3.1"/><circle cx="1636.7" cy="330.0" r="3.1"/><circle cx="1640.7" cy="329.2" r="3.1"/><circle cx="1620.5" cy="333.3" r="3.1"/><circle cx="1625.8" cy="332.8" r="3.1"/><circle cx="1630.3" cy="333.0" r="3.1"/><circle cx="1634.2" cy="332.8" r="3.1"/><circle cx="1614.1" cy="337.4" r="3.1"/><circle cx="1618.8" cy="337.3" r="3.1"/><circle cx="1623.3" cy="336.5" r="3.1"/><circle cx="1627.7" cy="337.0" r="3.1"/><circle cx="1632.4" cy="336.3" r="3.1"/><circle cx="1610.7" cy="340.8" r="3.1"/><circle cx="1616.3" cy="341.9" r="3.1"/><circle cx="1621.6" cy="341.0" r="3.1"/><circle cx="1625.0" cy="340.2" r="3.1"/><circle cx="1630.0" cy="340.4" r="3.1"/><circle cx="1604.8" cy="345.8" r="3.1"/><circle cx="1608.9" cy="345.8" r="3.1"/><circle cx="1614.3" cy="343.9" r="3.1"/><circle cx="1617.4" cy="345.2" r="3.1"/><circle cx="1623.5" cy="344.1" r="3.1"/><circle cx="1606.8" cy="349.0" r="3.1"/><circle cx="1612.6" cy="349.5" r="3.1"/><circle cx="1616.4" cy="348.4" r="3.1"/><circle cx="1616.1" cy="335.3" r="3.1"/><circle cx="1619.8" cy="335.4" r="3.1"/><circle cx="1623.7" cy="334.6" r="3.1"/><circle cx="1612.4" cy="338.2" r="3.1"/><circle cx="1618.6" cy="338.9" r="3.1"/><circle cx="1621.3" cy="339.4" r="3.1"/><circle cx="1610.9" cy="342.1" r="3.1"/><circle cx="1614.4" cy="344.0" r="3.1"/><circle cx="1620.6" cy="343.0" r="3.1"/><circle cx="1605.0" cy="347.5" r="3.1"/><circle cx="1609.2" cy="347.8" r="3.1"/><circle cx="1612.6" cy="346.0" r="3.1"/><circle cx="1617.0" cy="346.3" r="3.1"/><circle cx="1601.9" cy="351.6" r="3.1"/><circle cx="1606.2" cy="351.7" r="3.1"/><circle cx="1611.6" cy="349.9" r="3.1"/><circle cx="1615.5" cy="350.6" r="3.1"/><circle cx="1604.4" cy="354.5" r="3.1"/><circle cx="1608.5" cy="354.0" r="3.1"/><circle cx="1594.2" cy="368.0" r="3.1"/><circle cx="1589.2" cy="373.3" r="3.1"/><circle cx="1582.2" cy="375.7" r="3.1"/><circle cx="1586.1" cy="375.6" r="3.1"/><circle cx="1579.6" cy="379.3" r="3.1"/><circle cx="1571.4" cy="384.1" r="3.1"/><circle cx="1569.5" cy="387.2" r="3.1"/><circle cx="1563.4" cy="391.9" r="3.1"/><circle cx="1560.6" cy="395.5" r="3.1"/><circle cx="1554.3" cy="399.7" r="3.1"/><circle cx="1558.0" cy="399.0" r="3.1"/><circle cx="1553.1" cy="403.2" r="3.1"/><circle cx="1550.6" cy="407.7" r="3.1"/><circle cx="1592.1" cy="355.6" r="3.1"/><circle cx="1594.4" cy="359.1" r="3.1"/><circle cx="1591.0" cy="359.1" r="3.1"/><circle cx="1595.6" cy="353.3" r="3.1"/><circle cx="1604.9" cy="367.3" r="3.1"/><circle cx="1607.2" cy="364.9" r="3.1"/><circle cx="1593.0" cy="357.0" r="3.1"/><circle cx="1596.0" cy="356.5" r="3.1"/><circle cx="1590.6" cy="371.3" r="3.1"/><circle cx="1594.8" cy="370.3" r="3.1"/><circle cx="1588.9" cy="373.9" r="3.1"/><circle cx="1585.3" cy="377.3" r="3.1"/><circle cx="1579.4" cy="381.8" r="3.1"/><circle cx="1584.2" cy="380.9" r="3.1"/><circle cx="1577.7" cy="384.1" r="3.1"/><circle cx="1581.8" cy="384.1" r="3.1"/><circle cx="1571.8" cy="388.4" r="3.1"/><circle cx="1575.9" cy="388.8" r="3.1"/><circle cx="1569.8" cy="391.8" r="3.1"/><circle cx="1573.4" cy="391.6" r="3.1"/><circle cx="1563.5" cy="395.6" r="3.1"/><circle cx="1568.4" cy="395.3" r="3.1"/><circle cx="1571.3" cy="394.2" r="3.1"/><circle cx="1561.6" cy="399.1" r="3.1"/><circle cx="1566.5" cy="397.8" r="3.1"/><circle cx="1556.1" cy="401.5" r="3.1"/><circle cx="1559.4" cy="401.7" r="3.1"/><circle cx="1563.9" cy="401.4" r="3.1"/><circle cx="1553.8" cy="404.9" r="3.1"/><circle cx="1557.4" cy="405.0" r="3.1"/><circle cx="1551.3" cy="409.3" r="3.1"/><circle cx="1556.6" cy="408.5" r="3.1"/><circle cx="1550.2" cy="411.6" r="3.1"/><circle cx="1543.8" cy="415.7" r="3.1"/><circle cx="1538.2" cy="419.1" r="3.1"/><circle cx="1541.5" cy="418.7" r="3.1"/><circle cx="1531.9" cy="422.2" r="3.1"/><circle cx="1536.8" cy="422.8" r="3.1"/><circle cx="1530.4" cy="425.4" r="3.1"/><circle cx="1534.2" cy="425.5" r="3.1"/></g>
<g clip-path="url(#cCy)" fill="rgb(154,90,20)"><circle cx="1498.3" cy="453.9" r="3.1"/><circle cx="1501.6" cy="452.6" r="3.1"/><circle cx="1504.3" cy="449.9" r="3.1"/><circle cx="1507.6" cy="445.9" r="3.1"/><circle cx="1510.3" cy="443.3" r="3.1"/><circle cx="1513.6" cy="441.3" r="3.1"/><circle cx="1516.3" cy="439.3" r="3.1"/><circle cx="1518.3" cy="435.9" r="3.1"/><circle cx="1520.3" cy="433.3" r="3.1"/><circle cx="1522.9" cy="430.6" r="3.1"/><circle cx="1526.3" cy="428.6" r="3.1"/><circle cx="1528.9" cy="425.3" r="3.1"/><circle cx="1530.9" cy="422.0" r="3.1"/><circle cx="1533.6" cy="419.3" r="3.1"/><circle cx="1536.9" cy="417.3" r="3.1"/><circle cx="1539.6" cy="415.3" r="3.1"/><circle cx="1542.2" cy="413.3" r="3.1"/><circle cx="1543.6" cy="411.3" r="3.1"/><circle cx="1546.2" cy="410.0" r="3.1"/><circle cx="1547.6" cy="407.3" r="3.1"/><circle cx="1550.2" cy="405.3" r="3.1"/><circle cx="1551.6" cy="402.6" r="3.1"/><circle cx="1554.2" cy="400.6" r="3.1"/><circle cx="1556.2" cy="398.0" r="3.1"/><circle cx="1558.2" cy="395.3" r="3.1"/><circle cx="1560.9" cy="392.7" r="3.1"/><circle cx="1563.5" cy="390.7" r="3.1"/><circle cx="1562.2" cy="403.3" r="3.1"/><circle cx="1561.5" cy="407.3" r="3.1"/><circle cx="1564.9" cy="408.6" r="3.1"/><circle cx="1532.9" cy="423.3" r="3.1"/><circle cx="1543.6" cy="416.6" r="3.1"/><circle cx="1689.8" cy="191.6" r="3.1"/><circle cx="1638.9" cy="352.4" r="3.1"/><circle cx="1684.8" cy="302.1" r="3.1"/><circle cx="1547.7" cy="405.9" r="3.1"/><circle cx="1550.3" cy="402.5" r="3.1"/><circle cx="1553.0" cy="399.9" r="3.1"/><circle cx="1555.6" cy="396.6" r="3.1"/><circle cx="1559.0" cy="393.9" r="3.1"/><circle cx="1561.0" cy="390.6" r="3.1"/><circle cx="1564.3" cy="388.6" r="3.1"/><circle cx="1567.6" cy="385.9" r="3.1"/><circle cx="1570.3" cy="383.2" r="3.1"/><circle cx="1573.0" cy="380.6" r="3.1"/><circle cx="1575.6" cy="377.9" r="3.1"/><circle cx="1578.9" cy="375.9" r="3.1"/><circle cx="1580.9" cy="373.3" r="3.1"/><circle cx="1583.6" cy="371.3" r="3.1"/><circle cx="1586.3" cy="369.9" r="3.1"/><circle cx="1588.9" cy="367.9" r="3.1"/><circle cx="1591.6" cy="365.9" r="3.1"/><circle cx="1594.3" cy="363.9" r="3.1"/><circle cx="1553.0" cy="393.9" r="3.1"/><circle cx="1558.3" cy="400.5" r="3.1"/><circle cx="1565.0" cy="393.9" r="3.1"/><circle cx="1569.0" cy="392.6" r="3.1"/><circle cx="1562.3" cy="407.2" r="3.1"/><circle cx="1566.3" cy="396.6" r="3.1"/><circle cx="1549.0" cy="399.2" r="3.1"/><circle cx="1571.6" cy="385.9" r="3.1"/><circle cx="1578.3" cy="380.6" r="3.1"/><circle cx="1584.9" cy="375.3" r="3.1"/><circle cx="1588.9" cy="373.9" r="3.1"/><circle cx="1582.3" cy="377.9" r="3.1"/><circle cx="1592.3" cy="356.0" r="3.1"/><circle cx="1594.9" cy="358.6" r="3.1"/><circle cx="1593.6" cy="360.0" r="3.1"/><circle cx="1605.6" cy="367.3" r="3.1"/><circle cx="1607.6" cy="369.3" r="3.1"/><circle cx="1603.6" cy="365.9" r="3.1"/><circle cx="1600.9" cy="355.3" r="3.1"/><circle cx="1604.9" cy="352.6" r="3.1"/><circle cx="1607.6" cy="347.3" r="3.1"/><circle cx="1603.6" cy="344.6" r="3.1"/><circle cx="1611.6" cy="343.3" r="3.1"/><circle cx="1614.2" cy="338.0" r="3.1"/><circle cx="1616.9" cy="334.0" r="3.1"/><circle cx="1620.9" cy="331.3" r="3.1"/><circle cx="1602.2" cy="332.7" r="3.1"/><circle cx="1611.6" cy="356.6" r="3.1"/><circle cx="1607.6" cy="359.3" r="3.1"/><circle cx="1602.2" cy="360.6" r="3.1"/><circle cx="1619.5" cy="346.0" r="3.1"/><circle cx="1623.5" cy="340.6" r="3.1"/><circle cx="1624.9" cy="336.7" r="3.1"/><circle cx="1616.9" cy="352.6" r="3.1"/><circle cx="1602.7" cy="332.6" r="3.1"/><circle cx="1605.3" cy="343.2" r="3.1"/><circle cx="1610.6" cy="339.2" r="3.1"/><circle cx="1608.0" cy="348.5" r="3.1"/><circle cx="1613.3" cy="345.9" r="3.1"/><circle cx="1618.6" cy="341.9" r="3.1"/><circle cx="1621.3" cy="336.6" r="3.1"/><circle cx="1617.3" cy="329.9" r="3.1"/><circle cx="1622.6" cy="325.9" r="3.1"/><circle cx="1625.3" cy="321.9" r="3.1"/><circle cx="1626.6" cy="331.2" r="3.1"/><circle cx="1630.6" cy="328.6" r="3.1"/><circle cx="1628.0" cy="339.2" r="3.1"/><circle cx="1633.3" cy="339.2" r="3.1"/><circle cx="1635.9" cy="333.9" r="3.1"/><circle cx="1631.9" cy="323.2" r="3.1"/><circle cx="1633.3" cy="317.9" r="3.1"/><circle cx="1638.6" cy="316.6" r="3.1"/><circle cx="1637.3" cy="325.9" r="3.1"/><circle cx="1642.6" cy="321.9" r="3.1"/><circle cx="1641.3" cy="315.3" r="3.1"/><circle cx="1647.9" cy="313.9" r="3.1"/><circle cx="1646.6" cy="307.3" r="3.1"/><circle cx="1650.6" cy="303.3" r="3.1"/><circle cx="1653.2" cy="309.9" r="3.1"/><circle cx="1655.9" cy="313.9" r="3.1"/><circle cx="1649.3" cy="323.2" r="3.1"/><circle cx="1658.6" cy="307.3" r="3.1"/><circle cx="1658.6" cy="301.9" r="3.1"/><circle cx="1661.2" cy="296.6" r="3.1"/><circle cx="1665.2" cy="292.6" r="3.1"/><circle cx="1663.9" cy="300.6" r="3.1"/><circle cx="1666.6" cy="290.0" r="3.1"/><circle cx="1669.2" cy="286.0" r="3.1"/><circle cx="1671.9" cy="282.0" r="3.1"/><circle cx="1670.5" cy="294.0" r="3.1"/><circle cx="1674.5" cy="288.6" r="3.1"/><circle cx="1677.2" cy="284.6" r="3.1"/><circle cx="1675.9" cy="301.9" r="3.1"/><circle cx="1678.5" cy="295.3" r="3.1"/><circle cx="1679.9" cy="278.0" r="3.1"/><circle cx="1674.5" cy="274.0" r="3.1"/><circle cx="1666.6" cy="272.0" r="3.1"/><circle cx="1655.9" cy="285.3" r="3.1"/><circle cx="1722.4" cy="201.7" r="3.1"/><circle cx="1736.5" cy="208.3" r="3.1"/><circle cx="1743.2" cy="205.0" r="3.1"/><circle cx="1748.2" cy="200.8" r="3.1"/><circle cx="1745.7" cy="216.6" r="3.1"/><circle cx="1736.5" cy="219.1" r="3.1"/><circle cx="1754.0" cy="225.8" r="3.1"/><circle cx="1722.4" cy="219.1" r="3.1"/><circle cx="1714.1" cy="215.8" r="3.1"/><circle cx="1711.6" cy="223.3" r="3.1"/><circle cx="1704.9" cy="230.0" r="3.1"/><circle cx="1711.6" cy="230.0" r="3.1"/><circle cx="1694.9" cy="225.8" r="3.1"/><circle cx="1687.5" cy="230.0" r="3.1"/><circle cx="1729.9" cy="226.6" r="3.1"/><circle cx="1729.1" cy="230.8" r="3.1"/><circle cx="1738.2" cy="233.3" r="3.1"/><circle cx="1739.0" cy="237.4" r="3.1"/><circle cx="1731.5" cy="244.1" r="3.1"/><circle cx="1724.1" cy="240.8" r="3.1"/><circle cx="1719.9" cy="243.3" r="3.1"/><circle cx="1716.6" cy="246.6" r="3.1"/><circle cx="1713.2" cy="249.9" r="3.1"/><circle cx="1718.2" cy="251.6" r="3.1"/><circle cx="1723.2" cy="248.3" r="3.1"/><circle cx="1704.1" cy="239.9" r="3.1"/><circle cx="1697.4" cy="244.1" r="3.1"/><circle cx="1678.3" cy="248.3" r="3.1"/><circle cx="1693.3" cy="251.6" r="3.1"/><circle cx="1694.9" cy="258.2" r="3.1"/><circle cx="1668.3" cy="257.4" r="3.1"/><circle cx="1677.5" cy="260.7" r="3.1"/><circle cx="1685.0" cy="261.6" r="3.1"/><circle cx="1681.6" cy="266.6" r="3.1"/><circle cx="1689.1" cy="268.2" r="3.1"/><circle cx="1693.3" cy="269.9" r="3.1"/><circle cx="1699.9" cy="268.2" r="3.1"/><circle cx="1704.9" cy="273.2" r="3.1"/><circle cx="1701.6" cy="275.7" r="3.1"/><circle cx="1706.6" cy="263.2" r="3.1"/><circle cx="1713.2" cy="268.2" r="3.1"/><circle cx="1714.1" cy="257.4" r="3.1"/><circle cx="1666.7" cy="272.4" r="3.1"/><circle cx="1675.8" cy="274.9" r="3.1"/><circle cx="1681.6" cy="278.2" r="3.1"/><circle cx="1686.6" cy="279.9" r="3.1"/><circle cx="1694.9" cy="281.5" r="3.1"/><circle cx="1670.0" cy="281.5" r="3.1"/><circle cx="1675.0" cy="284.9" r="3.1"/><circle cx="1685.0" cy="287.4" r="3.1"/><circle cx="1665.0" cy="288.2" r="3.1"/><circle cx="1670.0" cy="291.5" r="3.1"/><circle cx="1676.6" cy="293.2" r="3.1"/><circle cx="1663.3" cy="294.8" r="3.1"/><circle cx="1668.3" cy="296.5" r="3.1"/><circle cx="1685.0" cy="299.0" r="3.1"/><circle cx="1776.9" cy="125.0" r="3.1"/><circle cx="1753.6" cy="154.1" r="3.1"/><circle cx="1755.7" cy="160.4" r="3.1"/><circle cx="1776.9" cy="165.7" r="3.1"/><circle cx="1757.7" cy="181.0" r="3.1"/><circle cx="1714.1" cy="189.9" r="3.1"/><circle cx="1748.3" cy="187.9" r="3.1"/><circle cx="1736.6" cy="194.0" r="3.1"/><circle cx="1741.6" cy="194.0" r="3.1"/><circle cx="1722.1" cy="201.2" r="3.1"/><circle cx="1748.6" cy="199.0" r="3.1"/><circle cx="1743.6" cy="205.2" r="3.1"/><circle cx="1736.6" cy="207.8" r="3.1"/><circle cx="1796.9" cy="70.0" r="3.1"/><circle cx="1774.8" cy="81.3" r="3.1"/><circle cx="1726.0" cy="98.3" r="3.1"/><circle cx="1679.4" cy="279.6" r="3.1"/><circle cx="1673.2" cy="283.1" r="3.1"/><circle cx="1676.7" cy="282.1" r="3.1"/><circle cx="1670.7" cy="286.9" r="3.1"/><circle cx="1673.7" cy="287.1" r="3.1"/><circle cx="1679.7" cy="286.4" r="3.1"/><circle cx="1668.7" cy="290.0" r="3.1"/><circle cx="1671.9" cy="291.2" r="3.1"/><circle cx="1677.2" cy="290.7" r="3.1"/><circle cx="1665.4" cy="294.9" r="3.1"/><circle cx="1670.8" cy="295.0" r="3.1"/><circle cx="1673.8" cy="295.0" r="3.1"/><circle cx="1659.6" cy="298.4" r="3.1"/><circle cx="1662.5" cy="298.0" r="3.1"/><circle cx="1667.8" cy="298.7" r="3.1"/><circle cx="1677.0" cy="297.6" r="3.1"/><circle cx="1655.8" cy="302.6" r="3.1"/><circle cx="1661.6" cy="302.6" r="3.1"/><circle cx="1665.9" cy="301.7" r="3.1"/><circle cx="1650.5" cy="306.1" r="3.1"/><circle cx="1653.7" cy="305.9" r="3.1"/><circle cx="1659.7" cy="305.4" r="3.1"/><circle cx="1647.5" cy="310.4" r="3.1"/><circle cx="1652.5" cy="309.8" r="3.1"/><circle cx="1656.9" cy="309.8" r="3.1"/><circle cx="1640.8" cy="313.6" r="3.1"/><circle cx="1645.7" cy="313.5" r="3.1"/><circle cx="1650.3" cy="314.6" r="3.1"/><circle cx="1653.8" cy="314.0" r="3.1"/><circle cx="1633.4" cy="318.6" r="3.1"/><circle cx="1638.4" cy="316.7" r="3.1"/><circle cx="1642.7" cy="317.4" r="3.1"/><circle cx="1646.7" cy="317.5" r="3.1"/><circle cx="1652.0" cy="318.0" r="3.1"/><circle cx="1632.0" cy="320.8" r="3.1"/><circle cx="1637.1" cy="321.2" r="3.1"/><circle cx="1641.6" cy="321.1" r="3.1"/><circle cx="1645.2" cy="321.0" r="3.1"/><circle cx="1649.8" cy="320.9" r="3.1"/><circle cx="1625.5" cy="324.9" r="3.1"/><circle cx="1628.9" cy="324.7" r="3.1"/><circle cx="1633.6" cy="326.0" r="3.1"/><circle cx="1638.4" cy="324.7" r="3.1"/><circle cx="1644.0" cy="326.0" r="3.1"/><circle cx="1623.0" cy="330.0" r="3.1"/><circle cx="1626.4" cy="330.0" r="3.1"/><circle cx="1631.8" cy="329.4" r="3.1"/><circle cx="1636.7" cy="330.0" r="3.1"/><circle cx="1640.7" cy="329.2" r="3.1"/><circle cx="1620.5" cy="333.3" r="3.1"/><circle cx="1625.8" cy="332.8" r="3.1"/><circle cx="1630.3" cy="333.0" r="3.1"/><circle cx="1634.2" cy="332.8" r="3.1"/><circle cx="1614.1" cy="337.4" r="3.1"/><circle cx="1618.8" cy="337.3" r="3.1"/><circle cx="1623.3" cy="336.5" r="3.1"/><circle cx="1627.7" cy="337.0" r="3.1"/><circle cx="1632.4" cy="336.3" r="3.1"/><circle cx="1610.7" cy="340.8" r="3.1"/><circle cx="1616.3" cy="341.9" r="3.1"/><circle cx="1621.6" cy="341.0" r="3.1"/><circle cx="1625.0" cy="340.2" r="3.1"/><circle cx="1630.0" cy="340.4" r="3.1"/><circle cx="1604.8" cy="345.8" r="3.1"/><circle cx="1608.9" cy="345.8" r="3.1"/><circle cx="1614.3" cy="343.9" r="3.1"/><circle cx="1617.4" cy="345.2" r="3.1"/><circle cx="1623.5" cy="344.1" r="3.1"/><circle cx="1606.8" cy="349.0" r="3.1"/><circle cx="1612.6" cy="349.5" r="3.1"/><circle cx="1616.4" cy="348.4" r="3.1"/><circle cx="1616.1" cy="335.3" r="3.1"/><circle cx="1619.8" cy="335.4" r="3.1"/><circle cx="1623.7" cy="334.6" r="3.1"/><circle cx="1612.4" cy="338.2" r="3.1"/><circle cx="1618.6" cy="338.9" r="3.1"/><circle cx="1621.3" cy="339.4" r="3.1"/><circle cx="1610.9" cy="342.1" r="3.1"/><circle cx="1614.4" cy="344.0" r="3.1"/><circle cx="1620.6" cy="343.0" r="3.1"/><circle cx="1605.0" cy="347.5" r="3.1"/><circle cx="1609.2" cy="347.8" r="3.1"/><circle cx="1612.6" cy="346.0" r="3.1"/><circle cx="1617.0" cy="346.3" r="3.1"/><circle cx="1601.9" cy="351.6" r="3.1"/><circle cx="1606.2" cy="351.7" r="3.1"/><circle cx="1611.6" cy="349.9" r="3.1"/><circle cx="1615.5" cy="350.6" r="3.1"/><circle cx="1604.4" cy="354.5" r="3.1"/><circle cx="1608.5" cy="354.0" r="3.1"/><circle cx="1594.2" cy="368.0" r="3.1"/><circle cx="1589.2" cy="373.3" r="3.1"/><circle cx="1582.2" cy="375.7" r="3.1"/><circle cx="1586.1" cy="375.6" r="3.1"/><circle cx="1579.6" cy="379.3" r="3.1"/><circle cx="1571.4" cy="384.1" r="3.1"/><circle cx="1569.5" cy="387.2" r="3.1"/><circle cx="1563.4" cy="391.9" r="3.1"/><circle cx="1560.6" cy="395.5" r="3.1"/><circle cx="1554.3" cy="399.7" r="3.1"/><circle cx="1558.0" cy="399.0" r="3.1"/><circle cx="1553.1" cy="403.2" r="3.1"/><circle cx="1550.6" cy="407.7" r="3.1"/><circle cx="1592.1" cy="355.6" r="3.1"/><circle cx="1594.4" cy="359.1" r="3.1"/><circle cx="1591.0" cy="359.1" r="3.1"/><circle cx="1595.6" cy="353.3" r="3.1"/><circle cx="1604.9" cy="367.3" r="3.1"/><circle cx="1607.2" cy="364.9" r="3.1"/><circle cx="1593.0" cy="357.0" r="3.1"/><circle cx="1596.0" cy="356.5" r="3.1"/><circle cx="1590.6" cy="371.3" r="3.1"/><circle cx="1594.8" cy="370.3" r="3.1"/><circle cx="1588.9" cy="373.9" r="3.1"/><circle cx="1585.3" cy="377.3" r="3.1"/><circle cx="1579.4" cy="381.8" r="3.1"/><circle cx="1584.2" cy="380.9" r="3.1"/><circle cx="1577.7" cy="384.1" r="3.1"/><circle cx="1581.8" cy="384.1" r="3.1"/><circle cx="1571.8" cy="388.4" r="3.1"/><circle cx="1575.9" cy="388.8" r="3.1"/><circle cx="1569.8" cy="391.8" r="3.1"/><circle cx="1573.4" cy="391.6" r="3.1"/><circle cx="1563.5" cy="395.6" r="3.1"/><circle cx="1568.4" cy="395.3" r="3.1"/><circle cx="1571.3" cy="394.2" r="3.1"/><circle cx="1561.6" cy="399.1" r="3.1"/><circle cx="1566.5" cy="397.8" r="3.1"/><circle cx="1556.1" cy="401.5" r="3.1"/><circle cx="1559.4" cy="401.7" r="3.1"/><circle cx="1563.9" cy="401.4" r="3.1"/><circle cx="1553.8" cy="404.9" r="3.1"/><circle cx="1557.4" cy="405.0" r="3.1"/><circle cx="1551.3" cy="409.3" r="3.1"/><circle cx="1556.6" cy="408.5" r="3.1"/><circle cx="1550.2" cy="411.6" r="3.1"/><circle cx="1543.8" cy="415.7" r="3.1"/><circle cx="1538.2" cy="419.1" r="3.1"/><circle cx="1541.5" cy="418.7" r="3.1"/><circle cx="1531.9" cy="422.2" r="3.1"/><circle cx="1536.8" cy="422.8" r="3.1"/><circle cx="1530.4" cy="425.4" r="3.1"/><circle cx="1534.2" cy="425.5" r="3.1"/></g>
<g clip-path="url(#cCr)" fill="rgb(165,22,24)"><circle cx="1498.3" cy="453.9" r="3.1"/><circle cx="1501.6" cy="452.6" r="3.1"/><circle cx="1504.3" cy="449.9" r="3.1"/><circle cx="1507.6" cy="445.9" r="3.1"/><circle cx="1510.3" cy="443.3" r="3.1"/><circle cx="1513.6" cy="441.3" r="3.1"/><circle cx="1516.3" cy="439.3" r="3.1"/><circle cx="1518.3" cy="435.9" r="3.1"/><circle cx="1520.3" cy="433.3" r="3.1"/><circle cx="1522.9" cy="430.6" r="3.1"/><circle cx="1526.3" cy="428.6" r="3.1"/><circle cx="1528.9" cy="425.3" r="3.1"/><circle cx="1530.9" cy="422.0" r="3.1"/><circle cx="1533.6" cy="419.3" r="3.1"/><circle cx="1536.9" cy="417.3" r="3.1"/><circle cx="1539.6" cy="415.3" r="3.1"/><circle cx="1542.2" cy="413.3" r="3.1"/><circle cx="1543.6" cy="411.3" r="3.1"/><circle cx="1546.2" cy="410.0" r="3.1"/><circle cx="1547.6" cy="407.3" r="3.1"/><circle cx="1550.2" cy="405.3" r="3.1"/><circle cx="1551.6" cy="402.6" r="3.1"/><circle cx="1554.2" cy="400.6" r="3.1"/><circle cx="1556.2" cy="398.0" r="3.1"/><circle cx="1558.2" cy="395.3" r="3.1"/><circle cx="1560.9" cy="392.7" r="3.1"/><circle cx="1563.5" cy="390.7" r="3.1"/><circle cx="1562.2" cy="403.3" r="3.1"/><circle cx="1561.5" cy="407.3" r="3.1"/><circle cx="1564.9" cy="408.6" r="3.1"/><circle cx="1532.9" cy="423.3" r="3.1"/><circle cx="1543.6" cy="416.6" r="3.1"/><circle cx="1689.8" cy="191.6" r="3.1"/><circle cx="1638.9" cy="352.4" r="3.1"/><circle cx="1684.8" cy="302.1" r="3.1"/><circle cx="1547.7" cy="405.9" r="3.1"/><circle cx="1550.3" cy="402.5" r="3.1"/><circle cx="1553.0" cy="399.9" r="3.1"/><circle cx="1555.6" cy="396.6" r="3.1"/><circle cx="1559.0" cy="393.9" r="3.1"/><circle cx="1561.0" cy="390.6" r="3.1"/><circle cx="1564.3" cy="388.6" r="3.1"/><circle cx="1567.6" cy="385.9" r="3.1"/><circle cx="1570.3" cy="383.2" r="3.1"/><circle cx="1573.0" cy="380.6" r="3.1"/><circle cx="1575.6" cy="377.9" r="3.1"/><circle cx="1578.9" cy="375.9" r="3.1"/><circle cx="1580.9" cy="373.3" r="3.1"/><circle cx="1583.6" cy="371.3" r="3.1"/><circle cx="1586.3" cy="369.9" r="3.1"/><circle cx="1588.9" cy="367.9" r="3.1"/><circle cx="1591.6" cy="365.9" r="3.1"/><circle cx="1594.3" cy="363.9" r="3.1"/><circle cx="1553.0" cy="393.9" r="3.1"/><circle cx="1558.3" cy="400.5" r="3.1"/><circle cx="1565.0" cy="393.9" r="3.1"/><circle cx="1569.0" cy="392.6" r="3.1"/><circle cx="1562.3" cy="407.2" r="3.1"/><circle cx="1566.3" cy="396.6" r="3.1"/><circle cx="1549.0" cy="399.2" r="3.1"/><circle cx="1571.6" cy="385.9" r="3.1"/><circle cx="1578.3" cy="380.6" r="3.1"/><circle cx="1584.9" cy="375.3" r="3.1"/><circle cx="1588.9" cy="373.9" r="3.1"/><circle cx="1582.3" cy="377.9" r="3.1"/><circle cx="1592.3" cy="356.0" r="3.1"/><circle cx="1594.9" cy="358.6" r="3.1"/><circle cx="1593.6" cy="360.0" r="3.1"/><circle cx="1605.6" cy="367.3" r="3.1"/><circle cx="1607.6" cy="369.3" r="3.1"/><circle cx="1603.6" cy="365.9" r="3.1"/><circle cx="1600.9" cy="355.3" r="3.1"/><circle cx="1604.9" cy="352.6" r="3.1"/><circle cx="1607.6" cy="347.3" r="3.1"/><circle cx="1603.6" cy="344.6" r="3.1"/><circle cx="1611.6" cy="343.3" r="3.1"/><circle cx="1614.2" cy="338.0" r="3.1"/><circle cx="1616.9" cy="334.0" r="3.1"/><circle cx="1620.9" cy="331.3" r="3.1"/><circle cx="1602.2" cy="332.7" r="3.1"/><circle cx="1611.6" cy="356.6" r="3.1"/><circle cx="1607.6" cy="359.3" r="3.1"/><circle cx="1602.2" cy="360.6" r="3.1"/><circle cx="1619.5" cy="346.0" r="3.1"/><circle cx="1623.5" cy="340.6" r="3.1"/><circle cx="1624.9" cy="336.7" r="3.1"/><circle cx="1616.9" cy="352.6" r="3.1"/><circle cx="1602.7" cy="332.6" r="3.1"/><circle cx="1605.3" cy="343.2" r="3.1"/><circle cx="1610.6" cy="339.2" r="3.1"/><circle cx="1608.0" cy="348.5" r="3.1"/><circle cx="1613.3" cy="345.9" r="3.1"/><circle cx="1618.6" cy="341.9" r="3.1"/><circle cx="1621.3" cy="336.6" r="3.1"/><circle cx="1617.3" cy="329.9" r="3.1"/><circle cx="1622.6" cy="325.9" r="3.1"/><circle cx="1625.3" cy="321.9" r="3.1"/><circle cx="1626.6" cy="331.2" r="3.1"/><circle cx="1630.6" cy="328.6" r="3.1"/><circle cx="1628.0" cy="339.2" r="3.1"/><circle cx="1633.3" cy="339.2" r="3.1"/><circle cx="1635.9" cy="333.9" r="3.1"/><circle cx="1631.9" cy="323.2" r="3.1"/><circle cx="1633.3" cy="317.9" r="3.1"/><circle cx="1638.6" cy="316.6" r="3.1"/><circle cx="1637.3" cy="325.9" r="3.1"/><circle cx="1642.6" cy="321.9" r="3.1"/><circle cx="1641.3" cy="315.3" r="3.1"/><circle cx="1647.9" cy="313.9" r="3.1"/><circle cx="1646.6" cy="307.3" r="3.1"/><circle cx="1650.6" cy="303.3" r="3.1"/><circle cx="1653.2" cy="309.9" r="3.1"/><circle cx="1655.9" cy="313.9" r="3.1"/><circle cx="1649.3" cy="323.2" r="3.1"/><circle cx="1658.6" cy="307.3" r="3.1"/><circle cx="1658.6" cy="301.9" r="3.1"/><circle cx="1661.2" cy="296.6" r="3.1"/><circle cx="1665.2" cy="292.6" r="3.1"/><circle cx="1663.9" cy="300.6" r="3.1"/><circle cx="1666.6" cy="290.0" r="3.1"/><circle cx="1669.2" cy="286.0" r="3.1"/><circle cx="1671.9" cy="282.0" r="3.1"/><circle cx="1670.5" cy="294.0" r="3.1"/><circle cx="1674.5" cy="288.6" r="3.1"/><circle cx="1677.2" cy="284.6" r="3.1"/><circle cx="1675.9" cy="301.9" r="3.1"/><circle cx="1678.5" cy="295.3" r="3.1"/><circle cx="1679.9" cy="278.0" r="3.1"/><circle cx="1674.5" cy="274.0" r="3.1"/><circle cx="1666.6" cy="272.0" r="3.1"/><circle cx="1655.9" cy="285.3" r="3.1"/><circle cx="1722.4" cy="201.7" r="3.1"/><circle cx="1736.5" cy="208.3" r="3.1"/><circle cx="1743.2" cy="205.0" r="3.1"/><circle cx="1748.2" cy="200.8" r="3.1"/><circle cx="1745.7" cy="216.6" r="3.1"/><circle cx="1736.5" cy="219.1" r="3.1"/><circle cx="1754.0" cy="225.8" r="3.1"/><circle cx="1722.4" cy="219.1" r="3.1"/><circle cx="1714.1" cy="215.8" r="3.1"/><circle cx="1711.6" cy="223.3" r="3.1"/><circle cx="1704.9" cy="230.0" r="3.1"/><circle cx="1711.6" cy="230.0" r="3.1"/><circle cx="1694.9" cy="225.8" r="3.1"/><circle cx="1687.5" cy="230.0" r="3.1"/><circle cx="1729.9" cy="226.6" r="3.1"/><circle cx="1729.1" cy="230.8" r="3.1"/><circle cx="1738.2" cy="233.3" r="3.1"/><circle cx="1739.0" cy="237.4" r="3.1"/><circle cx="1731.5" cy="244.1" r="3.1"/><circle cx="1724.1" cy="240.8" r="3.1"/><circle cx="1719.9" cy="243.3" r="3.1"/><circle cx="1716.6" cy="246.6" r="3.1"/><circle cx="1713.2" cy="249.9" r="3.1"/><circle cx="1718.2" cy="251.6" r="3.1"/><circle cx="1723.2" cy="248.3" r="3.1"/><circle cx="1704.1" cy="239.9" r="3.1"/><circle cx="1697.4" cy="244.1" r="3.1"/><circle cx="1678.3" cy="248.3" r="3.1"/><circle cx="1693.3" cy="251.6" r="3.1"/><circle cx="1694.9" cy="258.2" r="3.1"/><circle cx="1668.3" cy="257.4" r="3.1"/><circle cx="1677.5" cy="260.7" r="3.1"/><circle cx="1685.0" cy="261.6" r="3.1"/><circle cx="1681.6" cy="266.6" r="3.1"/><circle cx="1689.1" cy="268.2" r="3.1"/><circle cx="1693.3" cy="269.9" r="3.1"/><circle cx="1699.9" cy="268.2" r="3.1"/><circle cx="1704.9" cy="273.2" r="3.1"/><circle cx="1701.6" cy="275.7" r="3.1"/><circle cx="1706.6" cy="263.2" r="3.1"/><circle cx="1713.2" cy="268.2" r="3.1"/><circle cx="1714.1" cy="257.4" r="3.1"/><circle cx="1666.7" cy="272.4" r="3.1"/><circle cx="1675.8" cy="274.9" r="3.1"/><circle cx="1681.6" cy="278.2" r="3.1"/><circle cx="1686.6" cy="279.9" r="3.1"/><circle cx="1694.9" cy="281.5" r="3.1"/><circle cx="1670.0" cy="281.5" r="3.1"/><circle cx="1675.0" cy="284.9" r="3.1"/><circle cx="1685.0" cy="287.4" r="3.1"/><circle cx="1665.0" cy="288.2" r="3.1"/><circle cx="1670.0" cy="291.5" r="3.1"/><circle cx="1676.6" cy="293.2" r="3.1"/><circle cx="1663.3" cy="294.8" r="3.1"/><circle cx="1668.3" cy="296.5" r="3.1"/><circle cx="1685.0" cy="299.0" r="3.1"/><circle cx="1776.9" cy="125.0" r="3.1"/><circle cx="1753.6" cy="154.1" r="3.1"/><circle cx="1755.7" cy="160.4" r="3.1"/><circle cx="1776.9" cy="165.7" r="3.1"/><circle cx="1757.7" cy="181.0" r="3.1"/><circle cx="1714.1" cy="189.9" r="3.1"/><circle cx="1748.3" cy="187.9" r="3.1"/><circle cx="1736.6" cy="194.0" r="3.1"/><circle cx="1741.6" cy="194.0" r="3.1"/><circle cx="1722.1" cy="201.2" r="3.1"/><circle cx="1748.6" cy="199.0" r="3.1"/><circle cx="1743.6" cy="205.2" r="3.1"/><circle cx="1736.6" cy="207.8" r="3.1"/><circle cx="1796.9" cy="70.0" r="3.1"/><circle cx="1774.8" cy="81.3" r="3.1"/><circle cx="1726.0" cy="98.3" r="3.1"/><circle cx="1679.4" cy="279.6" r="3.1"/><circle cx="1673.2" cy="283.1" r="3.1"/><circle cx="1676.7" cy="282.1" r="3.1"/><circle cx="1670.7" cy="286.9" r="3.1"/><circle cx="1673.7" cy="287.1" r="3.1"/><circle cx="1679.7" cy="286.4" r="3.1"/><circle cx="1668.7" cy="290.0" r="3.1"/><circle cx="1671.9" cy="291.2" r="3.1"/><circle cx="1677.2" cy="290.7" r="3.1"/><circle cx="1665.4" cy="294.9" r="3.1"/><circle cx="1670.8" cy="295.0" r="3.1"/><circle cx="1673.8" cy="295.0" r="3.1"/><circle cx="1659.6" cy="298.4" r="3.1"/><circle cx="1662.5" cy="298.0" r="3.1"/><circle cx="1667.8" cy="298.7" r="3.1"/><circle cx="1677.0" cy="297.6" r="3.1"/><circle cx="1655.8" cy="302.6" r="3.1"/><circle cx="1661.6" cy="302.6" r="3.1"/><circle cx="1665.9" cy="301.7" r="3.1"/><circle cx="1650.5" cy="306.1" r="3.1"/><circle cx="1653.7" cy="305.9" r="3.1"/><circle cx="1659.7" cy="305.4" r="3.1"/><circle cx="1647.5" cy="310.4" r="3.1"/><circle cx="1652.5" cy="309.8" r="3.1"/><circle cx="1656.9" cy="309.8" r="3.1"/><circle cx="1640.8" cy="313.6" r="3.1"/><circle cx="1645.7" cy="313.5" r="3.1"/><circle cx="1650.3" cy="314.6" r="3.1"/><circle cx="1653.8" cy="314.0" r="3.1"/><circle cx="1633.4" cy="318.6" r="3.1"/><circle cx="1638.4" cy="316.7" r="3.1"/><circle cx="1642.7" cy="317.4" r="3.1"/><circle cx="1646.7" cy="317.5" r="3.1"/><circle cx="1652.0" cy="318.0" r="3.1"/><circle cx="1632.0" cy="320.8" r="3.1"/><circle cx="1637.1" cy="321.2" r="3.1"/><circle cx="1641.6" cy="321.1" r="3.1"/><circle cx="1645.2" cy="321.0" r="3.1"/><circle cx="1649.8" cy="320.9" r="3.1"/><circle cx="1625.5" cy="324.9" r="3.1"/><circle cx="1628.9" cy="324.7" r="3.1"/><circle cx="1633.6" cy="326.0" r="3.1"/><circle cx="1638.4" cy="324.7" r="3.1"/><circle cx="1644.0" cy="326.0" r="3.1"/><circle cx="1623.0" cy="330.0" r="3.1"/><circle cx="1626.4" cy="330.0" r="3.1"/><circle cx="1631.8" cy="329.4" r="3.1"/><circle cx="1636.7" cy="330.0" r="3.1"/><circle cx="1640.7" cy="329.2" r="3.1"/><circle cx="1620.5" cy="333.3" r="3.1"/><circle cx="1625.8" cy="332.8" r="3.1"/><circle cx="1630.3" cy="333.0" r="3.1"/><circle cx="1634.2" cy="332.8" r="3.1"/><circle cx="1614.1" cy="337.4" r="3.1"/><circle cx="1618.8" cy="337.3" r="3.1"/><circle cx="1623.3" cy="336.5" r="3.1"/><circle cx="1627.7" cy="337.0" r="3.1"/><circle cx="1632.4" cy="336.3" r="3.1"/><circle cx="1610.7" cy="340.8" r="3.1"/><circle cx="1616.3" cy="341.9" r="3.1"/><circle cx="1621.6" cy="341.0" r="3.1"/><circle cx="1625.0" cy="340.2" r="3.1"/><circle cx="1630.0" cy="340.4" r="3.1"/><circle cx="1604.8" cy="345.8" r="3.1"/><circle cx="1608.9" cy="345.8" r="3.1"/><circle cx="1614.3" cy="343.9" r="3.1"/><circle cx="1617.4" cy="345.2" r="3.1"/><circle cx="1623.5" cy="344.1" r="3.1"/><circle cx="1606.8" cy="349.0" r="3.1"/><circle cx="1612.6" cy="349.5" r="3.1"/><circle cx="1616.4" cy="348.4" r="3.1"/><circle cx="1616.1" cy="335.3" r="3.1"/><circle cx="1619.8" cy="335.4" r="3.1"/><circle cx="1623.7" cy="334.6" r="3.1"/><circle cx="1612.4" cy="338.2" r="3.1"/><circle cx="1618.6" cy="338.9" r="3.1"/><circle cx="1621.3" cy="339.4" r="3.1"/><circle cx="1610.9" cy="342.1" r="3.1"/><circle cx="1614.4" cy="344.0" r="3.1"/><circle cx="1620.6" cy="343.0" r="3.1"/><circle cx="1605.0" cy="347.5" r="3.1"/><circle cx="1609.2" cy="347.8" r="3.1"/><circle cx="1612.6" cy="346.0" r="3.1"/><circle cx="1617.0" cy="346.3" r="3.1"/><circle cx="1601.9" cy="351.6" r="3.1"/><circle cx="1606.2" cy="351.7" r="3.1"/><circle cx="1611.6" cy="349.9" r="3.1"/><circle cx="1615.5" cy="350.6" r="3.1"/><circle cx="1604.4" cy="354.5" r="3.1"/><circle cx="1608.5" cy="354.0" r="3.1"/><circle cx="1594.2" cy="368.0" r="3.1"/><circle cx="1589.2" cy="373.3" r="3.1"/><circle cx="1582.2" cy="375.7" r="3.1"/><circle cx="1586.1" cy="375.6" r="3.1"/><circle cx="1579.6" cy="379.3" r="3.1"/><circle cx="1571.4" cy="384.1" r="3.1"/><circle cx="1569.5" cy="387.2" r="3.1"/><circle cx="1563.4" cy="391.9" r="3.1"/><circle cx="1560.6" cy="395.5" r="3.1"/><circle cx="1554.3" cy="399.7" r="3.1"/><circle cx="1558.0" cy="399.0" r="3.1"/><circle cx="1553.1" cy="403.2" r="3.1"/><circle cx="1550.6" cy="407.7" r="3.1"/><circle cx="1592.1" cy="355.6" r="3.1"/><circle cx="1594.4" cy="359.1" r="3.1"/><circle cx="1591.0" cy="359.1" r="3.1"/><circle cx="1595.6" cy="353.3" r="3.1"/><circle cx="1604.9" cy="367.3" r="3.1"/><circle cx="1607.2" cy="364.9" r="3.1"/><circle cx="1593.0" cy="357.0" r="3.1"/><circle cx="1596.0" cy="356.5" r="3.1"/><circle cx="1590.6" cy="371.3" r="3.1"/><circle cx="1594.8" cy="370.3" r="3.1"/><circle cx="1588.9" cy="373.9" r="3.1"/><circle cx="1585.3" cy="377.3" r="3.1"/><circle cx="1579.4" cy="381.8" r="3.1"/><circle cx="1584.2" cy="380.9" r="3.1"/><circle cx="1577.7" cy="384.1" r="3.1"/><circle cx="1581.8" cy="384.1" r="3.1"/><circle cx="1571.8" cy="388.4" r="3.1"/><circle cx="1575.9" cy="388.8" r="3.1"/><circle cx="1569.8" cy="391.8" r="3.1"/><circle cx="1573.4" cy="391.6" r="3.1"/><circle cx="1563.5" cy="395.6" r="3.1"/><circle cx="1568.4" cy="395.3" r="3.1"/><circle cx="1571.3" cy="394.2" r="3.1"/><circle cx="1561.6" cy="399.1" r="3.1"/><circle cx="1566.5" cy="397.8" r="3.1"/><circle cx="1556.1" cy="401.5" r="3.1"/><circle cx="1559.4" cy="401.7" r="3.1"/><circle cx="1563.9" cy="401.4" r="3.1"/><circle cx="1553.8" cy="404.9" r="3.1"/><circle cx="1557.4" cy="405.0" r="3.1"/><circle cx="1551.3" cy="409.3" r="3.1"/><circle cx="1556.6" cy="408.5" r="3.1"/><circle cx="1550.2" cy="411.6" r="3.1"/><circle cx="1543.8" cy="415.7" r="3.1"/><circle cx="1538.2" cy="419.1" r="3.1"/><circle cx="1541.5" cy="418.7" r="3.1"/><circle cx="1531.9" cy="422.2" r="3.1"/><circle cx="1536.8" cy="422.8" r="3.1"/><circle cx="1530.4" cy="425.4" r="3.1"/><circle cx="1534.2" cy="425.5" r="3.1"/></g>
<path d="M1524.84 35.60V470.00M1597.68 35.60V470.00M1482.50 431.01H1955.00M1482.50 364.09H1955.00" stroke="rgba(20,15,0,0.55)" stroke-width="1.5" fill="none"/>
<path d="M1573.40 470.00V478.60M1473.70 386.39H1482.50M1694.80 470.00V478.60M1473.70 274.86H1482.50M1816.20 470.00V478.60M1473.70 163.32H1482.50M1937.60 470.00V478.60M1473.70 51.79H1482.50" stroke="#7c7c7c" stroke-width="1.8" fill="none"/>
<text x="1470.20" y="396.69" font-size="29.2" text-anchor="end">50</text>
<text x="1470.20" y="285.16" font-size="29.2" text-anchor="end">100</text>
<text x="1470.20" y="173.62" font-size="29.2" text-anchor="end">150</text>
<text x="1470.20" y="60.79" font-size="29.2" text-anchor="end">200</text>
<text x="1574.10" y="509.30" font-size="29.2" text-anchor="middle">50</text>
<text x="1694.80" y="509.30" font-size="29.2" text-anchor="middle">100</text>
<text x="1816.80" y="509.30" font-size="29.2" text-anchor="middle">150</text>
<text x="1921.20" y="509.30" font-size="29.2" text-anchor="middle">200</text>
<text transform="translate(1714.80 558.70) scale(1.047 1)" font-size="27.90" text-anchor="middle">eGFR calculated from</text>
<text transform="translate(1714.80 593.40) scale(1.047 1)" font-size="27.90" text-anchor="middle">laboratory measured SCr</text>
<text transform="translate(1367.40 256.00) rotate(-90) scale(1.047 1)" font-size="27.90" text-anchor="middle">eGFR calculated from</text>
<text transform="translate(1403.20 258.50) rotate(-90) scale(1.047 1)" font-size="27.90" text-anchor="middle">ratiometer measured SCr</text>
<text x="1486.42" y="232.60" font-size="24.8">D</text>
<text x="1527.72" y="232.60" font-size="24.8">B</text>
<text x="1603.20" y="232.90" font-size="24.8">A</text>
<text x="1486.12" y="390.20" font-size="24.8">D</text>
<text x="1524.60" y="387.10" font-size="24.8">A</text>
<text x="1686.42" y="390.20" font-size="24.8">B</text>
<text x="1483.50" y="451.50" font-size="24.8">A</text>
<text x="1577.76" y="455.25" font-size="24.8">C</text>
<text x="1681.66" y="455.25" font-size="24.8">C</text>
<text transform="translate(1372.86 35.55) scale(0.895 1)" font-size="44.5" font-weight="bold" stroke="#000" stroke-width="0.7">C</text>
</svg></body></html>
